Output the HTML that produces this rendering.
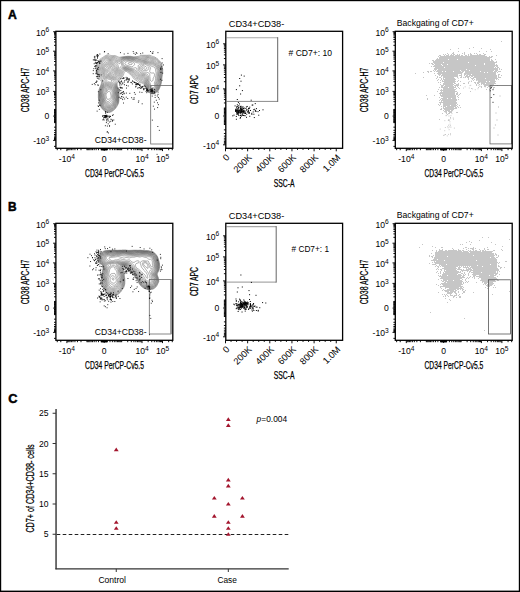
<!DOCTYPE html>
<html><head><meta charset="utf-8"><style>html,body{margin:0;padding:0;background:#fff;overflow:hidden}svg{display:block}</style></head>
<body><svg width="520" height="592" viewBox="0 0 520 592" font-family="Liberation Sans, sans-serif"><rect x="0" y="0" width="520" height="592" fill="#000"/>
<rect x="1.2" y="1.2" width="517.6" height="589.4" fill="#fff"/>
<text x="7.9" y="18.8" font-size="12.6" text-anchor="start" fill="#000" textLength="8.8" lengthAdjust="spacingAndGlyphs" font-weight="bold" stroke="#000" stroke-width="0.5">A</text>
<text x="8" y="210.9" font-size="12.6" text-anchor="start" fill="#000" textLength="8.6" lengthAdjust="spacingAndGlyphs" font-weight="bold" stroke="#000" stroke-width="0.5">B</text>
<text x="8.3" y="403" font-size="12.8" text-anchor="start" fill="#000" textLength="9.2" lengthAdjust="spacingAndGlyphs" font-weight="bold" stroke="#000" stroke-width="0.5">C</text>
<g fill="none" stroke="#4a4a4a" stroke-width="0.45">
<path d="M108.5 99.3 108.0 99.4 107.5 99.3 107.1 99.0 106.8 98.5 106.6 98.0 106.5 97.5 106.4 97.0 106.3 96.5 106.1 96.0 106.0 95.5 106.0 95.0 106.1 94.5 106.2 94.0 106.5 93.5 106.8 93.2 107.0 92.9 107.2 92.6 107.5 92.4 107.9 92.0 108.2 91.8 108.4 91.5 108.8 91.3 109.2 91.1 109.6 91.2 109.9 91.5 110.2 92.0 110.4 92.5 110.5 93.0 110.6 93.5 110.7 94.0 110.8 94.5 110.9 95.0 111.0 95.5 111.1 96.0 111.1 96.5 111.1 97.0 111.0 97.5 110.8 98.0 110.5 98.3 110.0 98.6 109.5 98.9 109.0 99.1 108.6 99.2Z"/>
<path d="M145.2 69.3 144.8 69.3 144.2 69.1 143.9 68.8 143.8 68.4 143.8 68.0 144.0 67.5 144.2 67.2 144.5 66.9 145.0 66.6 145.5 66.5 146.0 66.6 146.4 67.0 146.8 67.5 146.9 68.0 146.8 68.4 146.5 68.7 146.1 69.0 145.8 69.2 145.2 69.3Z"/>
<path d="M110.2 71.3 109.8 71.3 109.2 71.1 109.0 70.8 108.9 70.2 108.9 69.8 109.2 69.2 109.4 69.0 109.8 68.8 110.2 68.7 110.8 68.9 111.0 69.2 111.2 69.5 111.2 69.9 111.2 70.2 111.0 70.8 110.8 71.1 110.2 71.3Z"/>
<path d="M108.5 101.4 108.0 101.5 107.5 101.5 107.0 101.3 106.6 101.0 106.4 100.8 106.0 100.2 105.8 99.8 105.6 99.2 105.5 98.8 105.5 98.2 105.4 97.8 105.3 97.2 105.2 96.8 105.2 96.2 105.1 95.8 105.0 95.2 105.1 94.8 105.2 94.2 105.3 93.8 105.6 93.2 106.0 92.8 106.2 92.4 106.5 92.1 106.7 91.8 107.0 91.4 107.2 91.0 107.5 90.6 107.7 90.2 108.0 89.8 108.2 89.5 108.7 89.2 109.2 89.2 109.8 89.4 110.2 89.6 110.7 90.0 111.0 90.2 111.2 90.5 111.5 90.9 111.7 91.2 111.9 91.8 112.0 92.2 112.0 92.8 112.0 93.2 112.0 93.8 112.0 94.2 112.0 94.8 112.1 95.2 112.1 95.8 112.1 96.2 112.1 96.8 112.1 97.2 112.1 97.8 112.0 98.2 111.9 98.5 111.6 99.0 111.2 99.3 110.8 99.7 110.4 100.0 110.1 100.2 109.8 100.5 109.4 100.8 109.1 101.0 108.8 101.2Z"/>
<path d="M145.8 70.5 145.2 70.6 144.8 70.6 144.2 70.6 143.9 70.5 143.5 70.4 143.0 70.1 142.7 69.8 142.3 69.2 142.1 68.8 142.1 68.2 142.2 67.8 142.4 67.2 142.8 66.8 143.0 66.5 143.2 66.2 143.5 65.9 143.8 65.7 144.0 65.4 144.4 65.0 144.8 64.8 145.2 64.6 145.8 64.6 146.2 64.8 146.5 64.9 147.0 65.2 147.3 65.5 147.7 66.0 148.0 66.3 148.2 66.6 148.5 67.0 148.7 67.5 148.8 68.0 148.8 68.5 148.6 69.0 148.3 69.5 148.0 69.8 147.7 70.0 147.2 70.2 146.8 70.3 146.2 70.4 145.8 70.5Z"/>
<path d="M110.2 72.6 109.8 72.6 109.2 72.6 108.8 72.3 108.4 72.0 108.0 71.5 107.8 71.0 107.7 70.5 107.7 70.0 107.8 69.5 108.0 69.1 108.2 68.8 108.5 68.4 109.0 68.0 109.5 67.8 110.0 67.6 110.5 67.5 111.0 67.6 111.5 67.9 111.8 68.2 112.0 68.5 112.2 69.0 112.4 69.5 112.4 70.0 112.4 70.5 112.3 71.0 112.0 71.4 111.8 71.7 111.5 72.0 111.1 72.2 110.8 72.4 110.2 72.6Z"/>
<path d="M108.8 102.8 108.2 102.9 107.8 102.8 107.2 102.7 106.9 102.5 106.5 102.3 106.2 102.0 105.9 101.8 105.5 101.2 105.2 100.8 105.0 100.2 104.9 99.8 104.8 99.2 104.7 98.8 104.6 98.2 104.6 97.8 104.5 97.3 104.4 96.8 104.3 96.2 104.3 95.8 104.2 95.2 104.2 94.8 104.3 94.2 104.5 93.8 104.7 93.2 105.0 92.8 105.2 92.4 105.5 92.0 105.7 91.8 106.0 91.4 106.2 91.1 106.5 90.8 106.7 90.2 107.0 89.8 107.2 89.2 107.5 88.8 107.8 88.4 108.2 88.1 108.8 88.1 109.2 88.1 109.8 88.3 110.1 88.5 110.5 88.7 111.0 89.0 111.3 89.2 111.6 89.5 112.0 90.0 112.2 90.2 112.5 90.7 112.7 91.2 112.9 91.8 113.0 92.2 113.0 92.8 113.0 93.2 113.0 93.8 113.0 94.2 112.9 94.8 112.9 95.2 112.9 95.8 112.9 96.2 112.9 96.8 112.9 97.2 113.0 97.8 112.9 98.2 112.8 98.8 112.7 99.2 112.5 99.6 112.3 100.0 112.0 100.3 111.8 100.6 111.5 100.9 111.2 101.1 111.0 101.4 110.6 101.8 110.3 102.0 110.0 102.2 109.6 102.5 109.2 102.7 108.8 102.8Z"/>
<path d="M151.8 81.3 151.2 81.3 150.8 81.0 150.5 80.6 150.3 80.2 150.2 79.8 150.2 79.2 150.1 78.8 150.0 78.2 150.0 77.8 149.9 77.2 149.8 76.8 149.8 76.2 149.8 75.8 149.8 75.2 149.8 74.8 149.7 74.2 149.5 73.8 149.2 73.4 148.8 73.1 148.2 72.8 147.8 72.6 147.2 72.4 146.8 72.2 146.2 72.2 145.8 72.2 145.2 72.2 144.8 72.2 144.2 72.2 143.8 72.1 143.2 71.8 142.8 71.5 142.4 71.2 142.1 71.0 141.9 70.8 141.5 70.3 141.3 70.0 141.0 69.5 140.8 69.0 140.8 68.6 140.7 68.0 140.8 67.5 141.0 67.0 141.2 66.7 141.5 66.4 141.9 66.0 142.2 65.8 142.5 65.5 142.8 65.3 143.0 65.0 143.2 64.7 143.5 64.5 143.8 64.2 144.1 64.0 144.5 63.8 145.0 63.7 145.5 63.6 146.0 63.7 146.5 63.8 147.0 64.0 147.4 64.2 147.7 64.5 148.0 64.8 148.3 65.0 148.8 65.5 149.0 65.7 149.2 66.0 149.5 66.3 149.8 66.6 150.0 66.9 150.2 67.2 150.4 67.8 150.5 68.2 150.4 68.8 150.2 69.1 150.1 69.5 149.9 70.0 149.8 70.5 149.7 71.0 149.7 71.5 149.9 72.0 150.1 72.5 150.5 72.8 151.0 73.0 151.5 73.0 152.0 73.0 152.5 73.0 153.0 72.9 153.5 72.9 154.0 73.2 154.2 73.5 154.4 74.0 154.5 74.5 154.5 75.0 154.4 75.5 154.3 76.0 154.2 76.5 154.0 76.8 153.8 77.2 153.5 77.7 153.3 78.2 153.1 78.8 153.1 79.2 153.1 79.8 152.9 80.2 152.8 80.6 152.5 80.9 152.0 81.2Z"/>
<path d="M110.5 73.5 110.0 73.6 109.5 73.7 109.0 73.6 108.6 73.5 108.2 73.3 107.8 73.0 107.5 72.7 107.2 72.3 107.1 72.0 106.9 71.5 106.8 71.1 106.7 70.8 106.6 70.2 106.6 69.8 106.7 69.2 106.9 68.8 107.2 68.2 107.5 68.0 107.8 67.7 108.2 67.3 108.7 67.0 109.0 66.8 109.5 66.6 110.0 66.4 110.5 66.4 111.0 66.4 111.4 66.5 111.8 66.6 112.2 67.0 112.5 67.2 112.7 67.5 113.0 68.0 113.2 68.5 113.4 69.0 113.5 69.5 113.6 70.0 113.6 70.5 113.4 71.0 113.2 71.5 113.0 71.9 112.8 72.2 112.5 72.5 112.2 72.8 111.8 73.0 111.3 73.2 110.8 73.5Z"/>
<path d="M109.5 104.0 109.0 104.1 108.5 104.1 108.1 104.0 107.5 103.8 107.0 103.6 106.5 103.3 106.0 103.0 105.8 102.8 105.5 102.5 105.2 102.2 105.0 101.8 104.8 101.4 104.6 101.0 104.4 100.5 104.3 100.0 104.1 99.5 104.1 99.0 104.0 98.5 103.9 98.0 103.8 97.5 103.7 97.0 103.6 96.5 103.5 96.0 103.5 95.5 103.5 95.0 103.5 94.5 103.6 94.0 103.7 93.5 103.9 93.0 104.2 92.5 104.5 92.0 104.8 91.7 105.0 91.4 105.2 91.1 105.5 90.8 105.8 90.4 106.0 90.0 106.2 89.5 106.4 89.0 106.6 88.5 106.8 88.1 107.0 87.8 107.2 87.4 107.6 87.2 108.0 87.1 108.5 87.1 109.0 87.2 109.5 87.3 109.9 87.5 110.2 87.7 110.8 87.9 111.2 88.2 111.7 88.5 112.0 88.8 112.2 89.0 112.5 89.3 112.8 89.7 113.0 90.0 113.2 90.5 113.4 91.0 113.6 91.5 113.7 92.0 113.8 92.5 113.8 93.0 113.8 93.5 113.8 94.0 113.7 94.5 113.7 95.0 113.7 95.5 113.7 96.0 113.7 96.5 113.7 97.0 113.7 97.5 113.7 98.0 113.7 98.5 113.6 99.0 113.5 99.5 113.4 100.0 113.1 100.5 112.8 101.0 112.5 101.5 112.2 101.8 112.0 102.2 111.8 102.5 111.5 102.8 111.2 103.1 110.8 103.5 110.3 103.8 109.8 104.0Z"/>
<path d="M131.5 64.5 131.0 64.7 130.5 64.6 130.0 64.6 129.5 64.4 129.0 64.3 128.6 64.0 128.3 63.8 128.2 63.2 128.5 62.8 129.0 62.6 129.5 62.6 130.0 62.6 130.5 62.6 131.0 62.7 131.4 62.8 131.8 62.9 132.1 63.2 132.2 63.8 132.0 64.1 131.8 64.4Z"/>
<path d="M153.5 87.8 153.0 87.9 152.5 87.8 152.1 87.5 151.8 87.2 151.5 87.0 151.2 86.7 151.0 86.4 150.8 86.0 150.6 85.5 150.5 85.0 150.5 84.5 150.4 84.0 150.3 83.5 150.1 83.0 149.8 82.5 149.6 82.0 149.3 81.5 149.2 81.0 149.1 80.5 149.0 80.1 149.0 79.5 149.0 79.0 148.9 78.5 148.9 78.0 148.8 77.5 148.6 77.0 148.5 76.5 148.4 76.0 148.2 75.6 148.1 75.2 147.8 74.8 147.5 74.4 147.0 74.0 146.5 73.9 146.0 73.8 145.5 73.7 145.0 73.7 144.5 73.6 144.0 73.4 143.5 73.3 143.0 73.0 142.5 72.8 142.2 72.5 141.9 72.2 141.6 72.0 141.3 71.8 141.0 71.5 140.8 71.2 140.5 71.0 140.2 70.7 140.0 70.3 139.8 70.0 139.6 69.5 139.5 69.0 139.5 68.5 139.5 68.0 139.5 67.5 139.6 67.0 139.8 66.6 140.0 66.1 140.2 65.9 140.7 65.5 141.0 65.3 141.4 65.0 141.8 64.8 142.1 64.5 142.4 64.2 142.7 64.0 143.0 63.8 143.4 63.5 143.8 63.3 144.2 63.1 144.8 63.0 145.2 62.9 145.8 62.9 146.2 63.0 146.8 63.1 147.2 63.2 147.5 63.4 148.0 63.7 148.4 64.0 148.7 64.2 149.0 64.5 149.3 64.8 149.6 65.0 149.9 65.2 150.2 65.5 150.7 65.8 151.0 65.9 151.5 66.2 152.0 66.4 152.5 66.6 153.0 66.7 153.4 66.8 153.8 66.9 154.2 67.1 154.7 67.5 155.0 68.0 155.2 68.5 155.4 69.0 155.5 69.4 155.6 70.0 155.6 70.5 155.7 71.0 155.8 71.5 155.9 72.0 156.0 72.5 156.1 73.0 156.1 73.5 156.1 74.0 156.0 74.5 155.9 75.0 155.9 75.5 155.8 76.0 155.6 76.5 155.5 77.0 155.5 77.5 155.4 78.0 155.4 78.5 155.5 79.0 155.5 79.5 155.4 80.0 155.3 80.5 155.1 81.0 154.9 81.5 154.8 81.8 154.6 82.2 154.4 82.8 154.4 83.2 154.4 83.8 154.5 84.2 154.7 84.8 154.7 85.2 154.7 85.8 154.6 86.2 154.5 86.7 154.2 87.2 154.0 87.5 153.7 87.8Z"/>
<path d="M111.0 74.5 110.5 74.6 110.0 74.7 109.5 74.7 109.0 74.6 108.5 74.5 108.0 74.4 107.5 74.2 107.0 73.8 106.6 73.5 106.3 73.0 106.1 72.5 105.9 72.0 105.8 71.5 105.6 71.0 105.5 70.5 105.5 70.0 105.4 69.5 105.4 69.0 105.6 68.5 105.8 68.1 106.0 67.8 106.2 67.5 106.8 67.0 107.1 66.8 107.4 66.5 107.8 66.3 108.1 66.0 108.5 65.8 109.0 65.6 109.5 65.4 110.0 65.3 110.5 65.2 111.0 65.3 111.5 65.4 111.9 65.5 112.2 65.7 112.8 66.0 113.1 66.2 113.5 66.7 113.7 67.0 114.0 67.5 114.2 68.0 114.5 68.5 114.6 69.0 114.7 69.5 114.7 70.0 114.7 70.5 114.6 71.0 114.4 71.5 114.2 72.0 113.9 72.5 113.5 73.0 113.3 73.2 113.0 73.5 112.7 73.8 112.3 74.0 111.8 74.2 111.2 74.4Z"/>
<path d="M110.2 105.0 109.8 105.2 109.2 105.2 108.8 105.2 108.2 105.1 107.9 105.0 107.5 104.9 107.0 104.6 106.5 104.4 106.0 104.0 105.7 103.8 105.4 103.5 105.0 103.0 104.8 102.6 104.5 102.2 104.3 101.8 104.0 101.2 103.9 100.8 103.8 100.4 103.7 100.0 103.5 99.5 103.4 99.0 103.4 98.5 103.3 98.0 103.2 97.5 103.1 97.0 103.0 96.5 102.9 96.0 102.8 95.5 102.8 95.0 102.8 94.5 102.8 94.0 102.9 93.5 103.1 93.0 103.2 92.6 103.5 92.0 103.8 91.6 104.0 91.2 104.2 90.9 104.5 90.6 104.8 90.3 105.0 90.0 105.2 89.6 105.5 89.0 105.7 88.5 105.9 88.0 106.0 87.7 106.2 87.2 106.5 86.9 106.9 86.5 107.2 86.3 107.8 86.2 108.2 86.2 108.8 86.3 109.2 86.5 109.8 86.7 110.2 86.9 110.8 87.1 111.2 87.4 111.8 87.6 112.2 88.0 112.5 88.2 113.0 88.8 113.2 89.2 113.4 89.5 113.7 90.0 113.9 90.5 114.1 91.0 114.2 91.5 114.4 92.0 114.4 92.5 114.4 93.0 114.4 93.5 114.4 94.0 114.4 94.5 114.4 95.0 114.4 95.5 114.4 96.0 114.4 96.5 114.5 97.0 114.5 97.5 114.5 98.0 114.4 98.5 114.4 99.0 114.3 99.5 114.2 100.0 114.0 100.5 113.8 101.0 113.5 101.5 113.2 101.9 113.0 102.2 112.8 102.7 112.6 103.0 112.2 103.5 112.0 103.8 111.8 104.1 111.3 104.5 110.9 104.8 110.5 104.9Z"/>
<path d="M132.0 66.8 131.5 66.8 131.1 66.8 130.8 66.6 130.2 66.4 129.9 66.2 129.5 66.1 129.0 65.9 128.6 65.8 128.0 65.6 127.5 65.4 127.0 65.3 126.5 65.1 126.0 64.9 125.5 64.6 125.2 64.3 125.0 64.0 124.9 63.5 125.0 63.1 125.2 62.8 125.5 62.5 125.8 62.2 126.2 62.0 126.7 61.8 127.0 61.6 127.5 61.4 128.0 61.3 128.5 61.2 129.0 61.2 129.4 61.2 130.0 61.3 130.5 61.4 131.0 61.4 131.5 61.5 132.0 61.6 132.3 61.8 132.8 61.9 133.2 62.2 133.6 62.5 133.8 62.8 134.2 63.2 134.5 63.8 134.6 64.2 134.5 64.7 134.3 65.0 134.0 65.3 133.5 65.8 133.2 66.0 133.0 66.2 132.6 66.5 132.2 66.7Z"/>
<path d="M153.8 88.8 153.2 89.0 152.8 89.0 152.2 88.8 151.8 88.5 151.4 88.2 151.1 88.0 150.9 87.8 150.5 87.4 150.2 87.0 150.0 86.5 149.8 86.0 149.7 85.5 149.6 85.0 149.5 84.5 149.4 84.0 149.3 83.5 149.1 83.0 148.8 82.5 148.6 82.0 148.5 81.6 148.4 81.2 148.3 80.8 148.2 80.2 148.2 79.8 148.1 79.2 148.1 78.8 148.0 78.2 147.9 77.8 147.8 77.2 147.6 76.8 147.3 76.2 147.0 75.8 146.8 75.5 146.5 75.2 146.0 75.0 145.5 74.8 145.0 74.7 144.5 74.5 144.0 74.4 143.6 74.2 143.2 74.1 142.8 73.9 142.2 73.7 141.8 73.4 141.2 73.0 140.9 72.8 140.5 72.5 140.2 72.3 139.9 72.0 139.6 71.8 139.4 71.5 139.0 71.1 138.8 70.8 138.5 70.2 138.4 69.8 138.3 69.2 138.3 68.8 138.3 68.2 138.3 67.8 138.3 67.2 138.2 66.8 138.2 66.2 138.2 65.8 138.5 65.2 138.7 65.0 139.1 64.8 139.5 64.6 140.0 64.3 140.5 64.1 141.0 63.9 141.5 63.6 142.0 63.3 142.5 63.0 143.0 62.8 143.5 62.6 144.0 62.4 144.5 62.3 145.0 62.3 145.5 62.2 146.0 62.2 146.5 62.3 147.0 62.5 147.5 62.7 148.0 62.9 148.5 63.2 149.0 63.5 149.4 63.8 149.7 64.0 150.2 64.2 150.5 64.4 151.0 64.6 151.5 64.8 152.0 64.9 152.5 65.0 153.0 65.1 153.4 65.2 153.8 65.4 154.2 65.6 154.8 65.9 155.2 66.2 155.5 66.5 155.8 66.9 155.9 67.2 156.2 67.8 156.4 68.2 156.5 68.6 156.6 69.0 156.8 69.3 156.9 69.8 157.0 70.2 157.1 70.8 157.2 71.2 157.2 71.8 157.2 72.2 157.2 72.8 157.2 73.2 157.2 73.8 157.1 74.2 157.0 74.8 157.0 75.2 156.9 75.8 156.8 76.2 156.7 76.8 156.6 77.2 156.6 77.8 156.6 78.2 156.6 78.8 156.6 79.2 156.6 79.8 156.5 80.1 156.4 80.5 156.2 80.9 156.0 81.5 155.8 82.0 155.6 82.5 155.5 83.0 155.5 83.5 155.6 84.0 155.6 84.5 155.7 85.0 155.7 85.5 155.6 86.0 155.5 86.4 155.3 87.0 155.1 87.5 154.8 88.0 154.5 88.3 154.0 88.7Z"/>
<path d="M111.8 75.5 111.2 75.6 110.8 75.7 110.2 75.7 109.8 75.7 109.2 75.6 108.8 75.5 108.2 75.4 107.8 75.3 107.2 75.1 106.9 75.0 106.5 74.8 106.1 74.5 105.8 74.2 105.5 73.8 105.2 73.3 105.1 73.0 104.9 72.5 104.8 72.0 104.7 71.5 104.6 71.0 104.5 70.5 104.5 70.0 104.4 69.5 104.4 69.0 104.4 68.5 104.4 68.0 104.6 67.5 105.0 67.0 105.2 66.8 105.5 66.5 105.9 66.2 106.2 66.0 106.6 65.8 107.0 65.5 107.4 65.2 107.8 65.0 108.2 64.8 108.8 64.6 109.2 64.4 109.8 64.3 110.2 64.2 110.8 64.2 111.1 64.2 111.5 64.3 112.0 64.5 112.5 64.7 113.0 65.0 113.4 65.2 113.7 65.5 114.0 65.8 114.2 66.1 114.5 66.4 114.7 66.8 115.0 67.2 115.2 67.5 115.4 68.0 115.6 68.5 115.7 69.0 115.8 69.5 115.8 70.0 115.7 70.5 115.6 71.0 115.4 71.5 115.2 71.8 115.1 72.2 114.8 72.8 114.5 73.2 114.2 73.6 114.0 74.0 113.8 74.2 113.5 74.5 113.0 75.0 112.5 75.2 112.0 75.5Z"/>
<path d="M109.8 106.0 109.2 106.1 108.8 106.1 108.3 106.0 107.8 105.9 107.4 105.8 107.0 105.6 106.5 105.4 106.0 105.1 105.6 104.8 105.3 104.5 105.0 104.2 104.8 103.9 104.5 103.5 104.2 103.1 104.1 102.8 103.8 102.2 103.6 101.8 103.5 101.4 103.4 101.0 103.2 100.5 103.1 100.0 103.0 99.5 102.9 99.0 102.8 98.5 102.7 98.0 102.6 97.5 102.5 97.0 102.4 96.5 102.3 96.0 102.2 95.5 102.2 95.0 102.2 94.5 102.2 94.0 102.3 93.5 102.4 93.0 102.6 92.5 102.8 92.0 103.0 91.5 103.2 91.0 103.5 90.5 103.8 90.2 104.0 89.8 104.2 89.5 104.5 89.0 104.8 88.6 105.0 88.0 105.2 87.5 105.4 87.0 105.8 86.5 106.0 86.2 106.2 86.0 106.6 85.8 107.0 85.6 107.5 85.4 108.0 85.4 108.5 85.4 109.0 85.6 109.5 85.8 110.0 86.0 110.5 86.2 111.0 86.4 111.5 86.7 112.0 86.9 112.5 87.2 112.8 87.5 113.1 87.8 113.5 88.2 113.8 88.7 114.0 89.2 114.2 89.8 114.4 90.2 114.6 90.8 114.8 91.1 114.8 91.5 114.9 92.0 115.0 92.5 115.0 93.0 115.0 93.5 115.0 94.0 115.0 94.5 115.1 95.0 115.1 95.5 115.1 96.0 115.1 96.5 115.2 97.0 115.1 97.5 115.1 98.0 115.1 98.5 115.0 99.0 115.0 99.5 114.9 100.0 114.8 100.4 114.5 101.0 114.3 101.5 114.0 102.0 113.8 102.4 113.5 102.8 113.2 103.2 113.1 103.5 112.8 104.0 112.5 104.3 112.2 104.6 112.0 104.9 111.6 105.2 111.2 105.5 110.8 105.7 110.2 105.9 109.8 106.0Z"/>
<path d="M153.0 89.8 152.6 89.8 152.2 89.7 151.8 89.5 151.5 89.3 151.0 89.0 150.8 88.8 150.5 88.5 150.0 88.0 149.8 87.6 149.5 87.2 149.3 86.8 149.2 86.4 149.2 86.0 149.1 85.5 149.0 85.0 148.8 84.5 148.7 84.0 148.5 83.5 148.3 83.0 148.1 82.5 147.9 82.0 147.8 81.5 147.6 81.0 147.5 80.5 147.5 80.0 147.4 79.5 147.3 79.0 147.2 78.5 147.1 78.0 146.9 77.5 146.8 77.1 146.5 76.8 146.2 76.4 145.8 76.0 145.3 75.8 144.8 75.5 144.2 75.3 143.8 75.1 143.2 74.9 142.8 74.8 142.2 74.5 141.8 74.3 141.2 74.1 140.8 73.9 140.2 73.7 139.8 73.4 139.2 73.1 138.9 72.8 138.6 72.5 138.2 72.1 138.0 71.8 137.8 71.4 137.5 71.0 137.2 70.6 137.0 70.0 136.9 69.5 136.9 69.0 136.8 68.5 136.5 68.0 136.0 67.8 135.5 67.7 135.0 67.8 134.5 67.9 134.1 68.0 133.8 68.1 133.2 68.2 132.8 68.2 132.2 68.2 131.8 68.2 131.2 68.1 130.8 67.9 130.2 67.7 129.8 67.4 129.2 67.1 128.8 66.9 128.2 66.7 127.8 66.5 127.2 66.4 126.8 66.3 126.2 66.2 125.8 66.1 125.2 66.0 124.8 65.8 124.3 65.5 124.0 65.2 123.8 64.8 123.6 64.5 123.4 64.0 123.2 63.5 123.2 63.0 123.2 62.5 123.3 62.0 123.8 61.5 124.2 61.3 124.8 61.2 125.2 61.0 125.8 60.9 126.2 60.8 126.8 60.6 127.2 60.5 127.8 60.4 128.2 60.4 128.8 60.4 129.2 60.4 129.8 60.5 130.1 60.5 130.5 60.5 131.0 60.6 131.5 60.7 132.0 60.8 132.5 61.0 133.0 61.1 133.5 61.3 133.9 61.5 134.2 61.7 134.8 62.0 135.2 62.2 135.8 62.4 136.2 62.6 136.8 62.7 137.1 62.8 137.5 62.8 138.0 62.9 138.5 63.0 139.0 63.0 139.5 63.0 140.0 62.9 140.5 62.8 141.0 62.6 141.3 62.5 141.8 62.4 142.2 62.2 142.8 62.0 143.2 61.9 143.8 61.8 144.2 61.8 144.8 61.7 145.2 61.6 145.8 61.6 146.2 61.6 146.8 61.7 147.2 61.8 147.7 62.0 148.0 62.2 148.5 62.4 149.0 62.7 149.5 63.0 150.0 63.2 150.5 63.4 151.0 63.6 151.5 63.7 152.0 63.8 152.5 63.9 153.0 64.1 153.5 64.2 154.0 64.5 154.4 64.8 154.9 65.0 155.2 65.2 155.6 65.5 155.9 65.8 156.2 66.1 156.5 66.5 156.7 67.0 157.0 67.5 157.1 68.0 157.4 68.5 157.5 68.8 157.7 69.2 157.9 69.8 158.0 70.2 158.1 70.5 158.1 71.0 158.2 71.5 158.1 72.0 158.1 72.5 158.0 73.0 158.0 73.5 157.9 74.0 157.8 74.5 157.8 75.0 157.8 75.4 157.7 76.0 157.6 76.5 157.6 77.0 157.5 77.5 157.5 78.0 157.5 78.5 157.4 79.0 157.4 79.5 157.4 80.0 157.3 80.5 157.1 81.0 156.9 81.5 156.7 82.0 156.5 82.4 156.4 83.0 156.3 83.5 156.3 84.0 156.3 84.5 156.4 85.0 156.3 85.5 156.3 86.0 156.2 86.5 156.0 87.0 155.8 87.5 155.6 88.0 155.2 88.5 155.0 88.8 154.5 89.2 154.0 89.5 153.5 89.7 153.2 89.8Z"/>
<path d="M112.2 76.5 111.8 76.6 111.2 76.7 110.8 76.7 110.2 76.7 109.8 76.6 109.2 76.5 108.8 76.3 108.4 76.2 108.0 76.2 107.5 76.1 107.0 75.9 106.5 75.8 106.0 75.6 105.5 75.2 105.3 75.0 105.0 74.7 104.8 74.3 104.5 73.8 104.4 73.5 104.2 73.0 104.0 72.5 103.9 72.0 103.8 71.5 103.7 71.0 103.6 70.5 103.5 70.0 103.5 69.5 103.4 69.0 103.4 68.5 103.4 68.0 103.5 67.6 103.6 67.2 103.9 66.8 104.2 66.3 104.5 66.1 104.9 65.8 105.2 65.5 105.6 65.2 106.0 65.0 106.4 64.8 106.8 64.6 107.2 64.3 107.8 64.0 108.2 63.8 108.8 63.5 109.2 63.4 109.7 63.2 110.2 63.2 110.8 63.2 111.2 63.3 111.8 63.4 112.2 63.7 112.8 63.9 113.2 64.2 113.8 64.4 114.2 64.7 114.6 65.0 114.9 65.2 115.2 65.6 115.5 66.0 115.8 66.4 115.9 66.8 116.2 67.2 116.4 67.8 116.5 68.2 116.6 68.8 116.7 69.2 116.7 69.8 116.6 70.2 116.5 70.8 116.4 71.2 116.2 71.6 116.1 72.0 115.9 72.5 115.6 73.0 115.3 73.5 115.0 74.0 114.8 74.5 114.5 74.8 114.2 75.2 114.0 75.5 113.8 75.7 113.4 76.0 113.0 76.2 112.5 76.5Z"/>
<path d="M110.0 106.8 109.5 106.8 109.0 106.8 108.5 106.8 108.1 106.8 107.5 106.6 107.0 106.5 106.5 106.3 106.0 106.1 105.5 105.8 105.1 105.5 104.9 105.2 104.5 104.8 104.3 104.5 104.0 104.1 103.8 103.8 103.6 103.2 103.4 102.8 103.2 102.3 103.1 101.8 102.9 101.2 102.8 100.8 102.6 100.2 102.5 99.8 102.4 99.2 102.3 98.8 102.2 98.2 102.1 97.8 102.0 97.2 101.9 96.8 101.8 96.2 101.8 95.9 101.7 95.5 101.7 95.0 101.7 94.5 101.7 94.0 101.7 93.5 101.8 93.0 102.0 92.5 102.1 92.0 102.3 91.5 102.5 91.1 102.7 90.8 102.9 90.2 103.2 89.8 103.5 89.3 103.8 88.8 103.9 88.5 104.2 88.0 104.4 87.5 104.7 87.0 105.0 86.5 105.2 86.1 105.5 85.8 105.8 85.5 106.1 85.2 106.5 85.0 107.0 84.8 107.5 84.7 108.0 84.6 108.5 84.6 109.0 84.7 109.5 84.9 110.0 85.1 110.5 85.4 111.0 85.6 111.5 85.9 112.0 86.1 112.5 86.4 113.0 86.8 113.3 87.0 113.7 87.5 114.0 87.9 114.2 88.2 114.4 88.8 114.6 89.2 114.8 89.8 115.0 90.2 115.2 90.8 115.3 91.2 115.4 91.8 115.5 92.2 115.5 92.8 115.5 93.2 115.5 93.8 115.5 94.2 115.6 94.8 115.6 95.2 115.7 95.8 115.7 96.2 115.8 96.8 115.8 97.2 115.7 97.8 115.7 98.2 115.6 98.8 115.6 99.2 115.5 99.8 115.4 100.2 115.3 100.8 115.1 101.2 114.8 101.8 114.5 102.2 114.2 102.7 114.1 103.0 113.8 103.5 113.5 103.9 113.3 104.2 113.0 104.7 112.8 105.0 112.5 105.3 112.2 105.6 111.8 106.0 111.3 106.2 111.0 106.4 110.5 106.6 110.0 106.8Z"/>
<path d="M153.8 90.3 153.2 90.4 152.8 90.5 152.2 90.4 151.8 90.3 151.2 90.0 150.9 89.8 150.5 89.5 150.3 89.2 150.0 89.0 149.8 88.7 149.5 88.4 149.3 88.0 149.0 87.5 148.8 87.0 148.7 86.5 148.6 86.0 148.5 85.6 148.4 85.0 148.2 84.6 148.1 84.2 147.9 83.8 147.8 83.4 147.6 83.0 147.4 82.5 147.2 82.1 147.1 81.8 147.0 81.2 146.9 80.8 146.8 80.2 146.8 79.9 146.7 79.5 146.6 79.0 146.4 78.5 146.2 78.1 146.1 77.8 145.8 77.3 145.5 77.0 145.2 76.8 144.8 76.5 144.5 76.3 144.0 76.0 143.5 75.8 143.0 75.6 142.6 75.5 142.2 75.4 141.8 75.3 141.2 75.1 140.9 75.0 140.5 74.9 140.1 74.8 139.8 74.6 139.2 74.4 138.8 74.1 138.4 73.8 138.1 73.5 137.8 73.1 137.5 72.8 137.3 72.5 137.0 72.1 136.8 71.8 136.5 71.5 136.2 71.1 136.0 70.8 135.8 70.5 135.5 70.3 135.1 70.0 134.8 69.8 134.2 69.6 133.8 69.5 133.2 69.4 132.8 69.3 132.2 69.2 131.8 69.0 131.2 68.9 130.9 68.8 130.5 68.6 130.0 68.4 129.5 68.1 129.0 67.8 128.5 67.6 128.0 67.4 127.6 67.2 127.0 67.1 126.5 67.0 126.0 67.0 125.5 66.9 125.0 66.8 124.5 66.6 124.2 66.5 123.8 66.3 123.4 66.0 123.0 65.5 122.8 65.1 122.6 64.8 122.4 64.2 122.3 63.8 122.2 63.2 122.1 62.8 122.2 62.2 122.3 61.8 122.5 61.4 122.8 61.0 123.0 60.8 123.5 60.5 124.0 60.3 124.5 60.2 125.0 60.1 125.5 60.0 126.0 59.9 126.5 59.8 127.0 59.8 127.5 59.7 128.0 59.7 128.5 59.7 129.0 59.7 129.5 59.8 130.0 59.8 130.5 59.9 131.0 59.9 131.5 60.0 132.0 60.2 132.4 60.2 133.0 60.4 133.4 60.5 133.8 60.6 134.1 60.8 134.5 60.9 135.0 61.1 135.4 61.2 135.8 61.4 136.2 61.5 136.5 61.6 137.0 61.7 137.5 61.7 138.0 61.8 138.5 61.8 139.0 61.9 139.5 61.9 140.0 61.8 140.5 61.8 141.0 61.7 141.5 61.6 142.0 61.4 142.5 61.3 143.0 61.3 143.5 61.2 144.0 61.1 144.5 61.1 145.0 61.0 145.5 60.9 146.0 60.9 146.5 60.9 147.0 61.0 147.5 61.1 148.0 61.4 148.5 61.6 149.0 61.9 149.5 62.2 150.0 62.4 150.5 62.6 151.0 62.7 151.5 62.8 152.0 62.9 152.4 63.0 152.8 63.1 153.2 63.2 153.7 63.5 154.2 63.8 154.5 63.9 155.0 64.2 155.4 64.5 155.8 64.7 156.1 65.0 156.4 65.2 156.7 65.5 157.0 65.9 157.2 66.2 157.4 66.8 157.6 67.2 157.8 67.6 157.9 68.0 158.1 68.5 158.4 69.0 158.6 69.5 158.8 70.0 158.9 70.5 158.9 71.0 158.9 71.5 158.9 72.0 158.8 72.5 158.8 72.9 158.7 73.5 158.6 74.0 158.5 74.5 158.4 75.0 158.4 75.5 158.4 76.0 158.4 76.5 158.3 77.0 158.3 77.5 158.2 78.0 158.2 78.5 158.2 79.0 158.1 79.5 158.1 80.0 158.0 80.5 157.8 81.0 157.7 81.5 157.5 81.9 157.3 82.2 157.2 82.8 157.1 83.2 157.0 83.8 157.0 84.2 157.0 84.8 157.0 85.2 156.9 85.8 156.8 86.2 156.7 86.8 156.5 87.2 156.3 87.8 156.1 88.2 155.8 88.8 155.5 89.1 155.2 89.3 154.8 89.7 154.3 90.0 154.0 90.2Z"/>
<path d="M112.0 77.5 111.5 77.6 111.0 77.6 110.5 77.6 110.0 77.5 109.5 77.4 109.0 77.3 108.5 77.1 108.0 77.0 107.5 76.9 107.0 76.8 106.5 76.7 106.0 76.5 105.5 76.3 105.1 76.0 104.8 75.8 104.5 75.4 104.3 75.0 104.0 74.5 103.8 74.0 103.5 73.5 103.3 73.0 103.2 72.5 103.0 72.0 102.9 71.5 102.8 71.0 102.7 70.5 102.6 70.0 102.5 69.5 102.5 69.0 102.5 68.5 102.5 68.0 102.6 67.5 102.8 67.1 102.9 66.8 103.2 66.2 103.5 65.9 103.8 65.7 104.0 65.4 104.5 65.0 104.8 64.8 105.2 64.5 105.5 64.3 106.0 64.0 106.4 63.8 106.8 63.5 107.2 63.2 107.6 63.0 108.0 62.8 108.5 62.6 109.0 62.4 109.4 62.2 110.0 62.2 110.5 62.2 111.0 62.2 111.5 62.3 111.9 62.5 112.5 62.7 113.0 63.0 113.5 63.2 114.0 63.4 114.5 63.6 114.9 63.8 115.2 63.9 115.8 64.2 116.1 64.5 116.5 65.0 116.7 65.5 116.9 66.0 117.1 66.5 117.2 67.0 117.3 67.5 117.4 68.0 117.5 68.5 117.6 69.0 117.6 69.5 117.6 70.0 117.5 70.5 117.3 71.0 117.2 71.5 117.0 72.0 116.8 72.5 116.5 73.0 116.3 73.5 116.0 74.0 115.8 74.5 115.5 74.9 115.3 75.2 115.0 75.7 114.8 76.0 114.5 76.2 114.2 76.5 113.9 76.8 113.5 77.0 113.0 77.2 112.5 77.4 112.2 77.5Z"/>
<path d="M109.8 107.5 109.2 107.6 108.8 107.6 108.2 107.5 107.8 107.5 107.2 107.4 106.8 107.2 106.2 107.1 105.8 106.9 105.2 106.6 104.8 106.2 104.5 106.0 104.2 105.7 104.0 105.4 103.8 105.0 103.5 104.6 103.3 104.2 103.1 103.8 102.9 103.2 102.8 102.8 102.7 102.2 102.5 101.8 102.4 101.2 102.3 100.8 102.1 100.2 102.0 99.8 101.8 99.2 101.8 98.8 101.6 98.2 101.5 97.8 101.4 97.2 101.4 96.8 101.3 96.2 101.3 95.8 101.2 95.2 101.2 94.8 101.2 94.2 101.2 93.8 101.3 93.2 101.4 92.8 101.5 92.3 101.7 91.8 101.9 91.2 102.0 90.9 102.2 90.5 102.4 90.0 102.7 89.5 103.0 89.0 103.2 88.5 103.5 88.0 103.7 87.5 104.0 87.0 104.2 86.5 104.5 86.1 104.7 85.8 105.0 85.4 105.2 85.2 105.7 84.8 106.1 84.5 106.5 84.3 107.0 84.0 107.5 83.9 108.0 83.8 108.5 83.7 109.0 83.8 109.5 84.0 110.0 84.2 110.5 84.5 111.0 84.7 111.5 85.0 112.0 85.2 112.4 85.5 112.8 85.7 113.2 86.0 113.5 86.2 113.8 86.5 114.0 86.9 114.2 87.2 114.5 87.7 114.7 88.0 114.9 88.5 115.1 89.0 115.2 89.4 115.4 89.8 115.5 90.1 115.6 90.5 115.8 90.9 115.9 91.5 115.9 92.0 115.9 92.5 116.0 93.0 116.0 93.5 116.0 94.0 116.0 94.5 116.1 95.0 116.2 95.5 116.2 96.0 116.3 96.5 116.3 97.0 116.3 97.5 116.2 98.0 116.2 98.5 116.1 99.0 116.1 99.5 116.0 100.0 115.9 100.5 115.8 101.0 115.6 101.5 115.3 102.0 115.0 102.5 114.8 102.9 114.5 103.2 114.2 103.7 114.0 104.0 113.8 104.5 113.5 104.9 113.3 105.2 113.0 105.6 112.8 105.9 112.5 106.2 112.1 106.5 111.8 106.8 111.4 107.0 111.0 107.2 110.5 107.4 110.0 107.5Z"/>
<path d="M153.2 91.0 152.8 91.1 152.2 91.1 151.8 90.9 151.3 90.8 150.9 90.5 150.5 90.3 150.2 90.0 149.9 89.8 149.6 89.5 149.2 89.0 149.0 88.6 148.8 88.2 148.6 87.8 148.4 87.2 148.2 86.8 148.1 86.2 148.0 85.8 147.9 85.2 147.8 84.9 147.6 84.5 147.4 84.0 147.1 83.5 147.0 83.2 146.8 82.8 146.6 82.2 146.5 81.9 146.4 81.5 146.3 81.0 146.2 80.5 146.1 80.0 145.9 79.5 145.8 79.0 145.5 78.5 145.2 78.1 145.0 77.8 144.7 77.5 144.4 77.2 144.0 77.0 143.6 76.8 143.2 76.6 142.8 76.4 142.2 76.3 141.8 76.2 141.2 76.1 140.8 76.0 140.2 75.8 139.8 75.6 139.2 75.4 138.8 75.1 138.2 74.8 137.9 74.5 137.6 74.2 137.4 74.0 137.0 73.6 136.8 73.3 136.5 73.0 136.2 72.7 136.0 72.3 135.8 72.0 135.5 71.8 135.2 71.5 134.9 71.2 134.6 71.0 134.2 70.8 133.8 70.6 133.2 70.4 132.8 70.2 132.3 70.0 131.8 69.8 131.2 69.6 130.8 69.4 130.2 69.2 129.9 69.0 129.5 68.8 129.0 68.5 128.5 68.3 128.0 68.1 127.5 67.9 127.0 67.8 126.5 67.7 126.0 67.6 125.5 67.5 125.0 67.4 124.5 67.3 124.0 67.2 123.5 67.0 123.0 66.8 122.7 66.5 122.4 66.2 122.0 65.8 121.8 65.3 121.6 64.8 121.4 64.2 121.3 63.8 121.3 63.2 121.3 62.8 121.3 62.2 121.5 61.8 121.7 61.2 122.0 60.8 122.2 60.5 122.8 60.0 123.2 59.8 123.8 59.6 124.2 59.5 124.8 59.4 125.2 59.3 125.8 59.3 126.2 59.2 126.8 59.1 127.2 59.1 127.8 59.1 128.2 59.1 128.8 59.1 129.2 59.1 129.8 59.2 130.2 59.2 130.8 59.3 131.2 59.4 131.7 59.5 132.2 59.6 132.8 59.7 133.2 59.8 133.8 59.9 134.2 60.1 134.8 60.2 135.2 60.4 135.7 60.5 136.2 60.6 136.7 60.8 137.2 60.8 137.8 60.9 138.2 60.9 138.8 61.0 139.2 61.0 139.8 61.0 140.2 61.0 140.8 60.9 141.2 60.9 141.8 60.8 142.2 60.7 142.8 60.6 143.2 60.5 143.6 60.5 144.0 60.5 144.5 60.4 145.0 60.3 145.4 60.2 145.8 60.2 146.2 60.1 146.8 60.1 147.2 60.2 147.8 60.3 148.2 60.5 148.5 60.7 149.0 61.0 149.4 61.2 149.9 61.5 150.2 61.7 150.8 61.8 151.2 61.9 151.8 62.0 152.2 62.1 152.8 62.2 153.2 62.4 153.8 62.6 154.2 62.9 154.8 63.2 155.1 63.5 155.5 63.8 155.9 64.0 156.2 64.2 156.6 64.5 156.9 64.8 157.2 65.0 157.5 65.4 157.8 65.7 158.0 66.2 158.2 66.8 158.4 67.2 158.5 67.6 158.7 68.0 158.9 68.5 159.1 69.0 159.2 69.4 159.4 69.8 159.5 70.2 159.6 70.8 159.6 71.2 159.6 71.8 159.5 72.2 159.4 72.8 159.4 73.2 159.2 73.7 159.2 74.2 159.1 74.8 159.0 75.2 159.0 75.8 159.0 76.2 159.0 76.8 158.9 77.2 158.9 77.8 158.8 78.2 158.8 78.8 158.8 79.2 158.7 79.8 158.6 80.2 158.5 80.8 158.4 81.2 158.3 81.8 158.1 82.2 157.9 82.8 157.8 83.2 157.7 83.8 157.6 84.2 157.6 84.8 157.6 85.2 157.5 85.6 157.4 86.0 157.3 86.5 157.1 87.0 157.0 87.4 156.8 87.8 156.6 88.2 156.4 88.8 156.0 89.2 155.8 89.6 155.3 90.0 155.0 90.2 154.5 90.5 154.0 90.8 153.5 91.0Z"/>
<path d="M111.0 78.5 110.6 78.5 110.2 78.5 109.8 78.4 109.2 78.3 108.8 78.2 108.3 78.0 107.8 77.8 107.4 77.8 107.0 77.7 106.5 77.5 106.0 77.4 105.5 77.2 105.0 77.0 104.7 76.8 104.4 76.5 104.0 76.0 103.8 75.6 103.5 75.2 103.2 74.8 103.0 74.3 102.8 73.8 102.6 73.2 102.4 72.8 102.2 72.3 102.1 71.8 101.9 71.2 101.8 70.8 101.6 70.2 101.6 69.8 101.5 69.2 101.5 68.8 101.6 68.2 101.6 67.8 101.8 67.3 102.0 66.8 102.2 66.3 102.5 65.9 102.8 65.6 103.0 65.3 103.2 65.0 103.5 64.7 103.8 64.4 104.2 64.0 104.5 63.8 104.9 63.5 105.2 63.3 105.7 63.0 106.1 62.8 106.4 62.5 106.8 62.3 107.1 62.0 107.5 61.8 108.0 61.5 108.5 61.4 109.0 61.3 109.5 61.2 110.0 61.2 110.5 61.2 111.0 61.2 111.5 61.3 112.0 61.4 112.5 61.6 113.0 61.8 113.5 62.0 114.0 62.1 114.4 62.2 115.0 62.4 115.4 62.5 115.8 62.6 116.2 62.9 116.8 63.2 117.1 63.5 117.5 64.0 117.7 64.5 117.9 65.0 118.1 65.5 118.2 66.0 118.3 66.5 118.4 67.0 118.5 67.5 118.5 68.0 118.6 68.5 118.7 69.0 118.7 69.5 118.6 70.0 118.5 70.5 118.3 71.0 118.1 71.5 117.9 72.0 117.8 72.5 117.6 73.0 117.3 73.5 117.1 74.0 116.8 74.5 116.6 75.0 116.2 75.5 116.0 75.8 115.8 76.1 115.5 76.4 115.2 76.7 115.0 76.9 114.6 77.2 114.3 77.5 113.9 77.8 113.5 77.9 113.0 78.1 112.6 78.2 112.2 78.3 111.8 78.4 111.2 78.5Z"/>
<path d="M109.8 108.3 109.2 108.3 108.8 108.3 108.2 108.3 107.8 108.2 107.2 108.1 106.8 108.0 106.2 107.9 105.9 107.8 105.5 107.6 105.0 107.3 104.6 107.0 104.3 106.8 104.0 106.4 103.8 106.1 103.5 105.8 103.2 105.4 103.0 105.0 102.8 104.5 102.6 104.0 102.4 103.5 102.3 103.0 102.2 102.5 102.1 102.0 102.0 101.5 101.8 101.0 101.7 100.5 101.5 100.0 101.4 99.5 101.2 99.0 101.1 98.5 101.1 98.0 101.0 97.6 100.9 97.0 100.9 96.5 100.8 96.0 100.8 95.5 100.8 95.0 100.7 94.5 100.8 94.0 100.8 93.5 100.9 93.0 101.0 92.5 101.1 92.0 101.2 91.5 101.4 91.0 101.6 90.5 101.8 90.0 102.1 89.5 102.4 89.0 102.6 88.5 102.9 88.0 103.1 87.5 103.4 87.0 103.6 86.5 103.9 86.0 104.2 85.5 104.5 85.1 104.8 84.8 105.0 84.6 105.3 84.2 105.7 84.0 106.0 83.8 106.4 83.5 106.9 83.2 107.2 83.1 107.8 82.9 108.2 82.8 108.8 82.9 109.2 83.0 109.8 83.1 110.2 83.4 110.8 83.6 111.2 83.9 111.8 84.2 112.2 84.5 112.7 84.8 113.1 85.0 113.4 85.2 113.7 85.5 114.0 85.8 114.2 86.2 114.5 86.5 114.7 87.0 115.0 87.5 115.2 88.0 115.4 88.5 115.6 89.0 115.8 89.4 115.9 89.8 116.1 90.2 116.2 90.8 116.3 91.2 116.4 91.8 116.4 92.2 116.4 92.8 116.4 93.2 116.4 93.8 116.5 94.2 116.5 94.7 116.6 95.2 116.7 95.8 116.7 96.2 116.7 96.8 116.7 97.2 116.7 97.8 116.7 98.2 116.6 98.8 116.6 99.2 116.5 99.8 116.5 100.2 116.4 100.8 116.2 101.2 116.0 101.8 115.8 102.2 115.5 102.8 115.2 103.1 115.0 103.5 114.8 103.8 114.5 104.2 114.2 104.6 114.0 105.0 113.8 105.5 113.5 105.9 113.2 106.2 113.0 106.5 112.8 106.8 112.2 107.2 111.8 107.5 111.3 107.8 111.0 107.9 110.5 108.1 110.0 108.2Z"/>
<path d="M153.5 91.5 153.0 91.7 152.5 91.7 152.0 91.6 151.6 91.5 151.2 91.4 150.8 91.1 150.3 90.8 149.9 90.5 149.7 90.2 149.4 90.0 149.0 89.5 148.8 89.2 148.5 88.8 148.3 88.2 148.1 87.8 147.9 87.2 147.8 86.8 147.6 86.2 147.5 85.8 147.3 85.2 147.1 84.8 146.9 84.2 146.6 83.8 146.4 83.2 146.2 82.8 146.0 82.4 145.9 82.0 145.8 81.6 145.6 81.2 145.5 80.8 145.4 80.2 145.2 79.9 145.1 79.5 144.8 79.0 144.5 78.5 144.2 78.3 143.9 78.0 143.6 77.8 143.2 77.6 142.8 77.4 142.2 77.3 141.8 77.2 141.2 77.1 140.8 77.1 140.2 76.9 139.9 76.8 139.5 76.6 139.0 76.3 138.6 76.0 138.3 75.8 137.9 75.5 137.6 75.2 137.3 75.0 137.0 74.8 136.7 74.5 136.4 74.2 136.0 73.8 135.8 73.5 135.5 73.2 135.2 72.9 135.0 72.6 134.8 72.4 134.4 72.0 134.0 71.8 133.8 71.6 133.2 71.3 132.8 71.0 132.2 70.8 131.8 70.5 131.2 70.3 130.8 70.1 130.2 69.8 129.8 69.6 129.2 69.3 128.8 69.0 128.2 68.8 127.8 68.6 127.2 68.4 126.8 68.3 126.2 68.2 125.8 68.1 125.2 68.0 124.8 68.0 124.2 67.9 123.8 67.8 123.2 67.6 122.9 67.5 122.5 67.4 122.1 67.2 121.8 67.1 121.2 66.9 120.8 66.8 120.5 66.8 120.2 67.0 120.0 67.5 120.0 68.0 119.9 68.5 119.8 69.0 119.8 69.5 119.6 70.0 119.5 70.4 119.3 71.0 119.1 71.5 118.9 72.0 118.8 72.5 118.6 73.0 118.4 73.5 118.2 74.0 118.0 74.5 117.8 75.0 117.5 75.4 117.3 75.8 117.0 76.1 116.8 76.3 116.5 76.6 116.2 76.8 115.8 77.2 115.5 77.5 115.2 77.7 114.9 78.0 114.5 78.2 114.1 78.5 113.8 78.7 113.2 78.9 112.9 79.0 112.5 79.1 112.0 79.2 111.5 79.3 111.0 79.4 110.5 79.5 110.0 79.5 109.5 79.4 109.0 79.4 108.5 79.2 108.0 79.0 107.5 78.8 107.0 78.6 106.6 78.5 106.2 78.4 105.8 78.2 105.5 78.1 105.0 77.9 104.7 77.8 104.3 77.5 104.0 77.2 103.8 77.0 103.5 76.7 103.2 76.3 103.0 76.0 102.8 75.6 102.6 75.2 102.3 74.8 102.0 74.2 101.8 73.8 101.6 73.2 101.5 72.8 101.4 72.5 101.2 72.2 101.1 71.8 100.9 71.2 100.8 70.8 100.6 70.2 100.5 69.8 100.5 69.2 100.5 68.8 100.6 68.2 100.7 67.8 100.8 67.4 100.9 67.0 101.0 66.7 101.2 66.2 101.5 65.9 101.8 65.6 102.0 65.2 102.2 64.9 102.5 64.5 102.8 64.1 103.0 63.8 103.2 63.5 103.5 63.2 104.0 62.8 104.4 62.5 104.8 62.3 105.1 62.0 105.4 61.8 105.7 61.5 105.9 61.2 106.2 61.0 106.5 60.8 106.9 60.5 107.2 60.4 107.8 60.3 108.2 60.3 108.8 60.3 109.2 60.3 109.8 60.4 110.2 60.4 110.8 60.4 111.2 60.4 111.8 60.4 112.2 60.4 112.8 60.5 113.2 60.6 113.8 60.7 114.2 60.9 114.8 61.1 115.2 61.2 115.8 61.5 116.2 61.7 116.8 61.9 117.2 62.2 117.7 62.5 118.0 62.7 118.3 63.0 118.6 63.2 118.9 63.5 119.2 63.8 119.7 63.8 120.0 63.3 120.1 63.0 120.3 62.5 120.5 62.1 120.7 61.8 120.9 61.2 121.2 60.8 121.5 60.3 121.8 60.1 122.1 59.8 122.4 59.5 122.9 59.2 123.5 59.1 124.0 58.9 124.5 58.9 125.0 58.8 125.5 58.7 126.0 58.7 126.5 58.6 127.0 58.6 127.5 58.6 128.0 58.6 128.5 58.6 129.0 58.6 129.5 58.6 130.0 58.6 130.5 58.7 131.0 58.8 131.5 58.9 132.0 59.0 132.5 59.1 133.0 59.2 133.5 59.3 134.0 59.4 134.5 59.5 135.0 59.6 135.5 59.7 136.0 59.8 136.5 59.9 137.0 60.0 137.5 60.1 138.0 60.1 138.5 60.2 139.0 60.2 139.5 60.3 140.0 60.3 140.4 60.2 141.0 60.2 141.5 60.1 142.0 60.0 142.5 59.9 143.0 59.8 143.5 59.8 144.0 59.7 144.5 59.7 145.0 59.6 145.5 59.5 146.0 59.3 146.5 59.3 147.0 59.2 147.5 59.2 148.0 59.3 148.5 59.5 149.0 59.8 149.3 60.0 149.7 60.2 150.0 60.5 150.5 60.8 151.0 61.0 151.5 61.1 152.0 61.2 152.4 61.2 152.8 61.3 153.2 61.5 153.8 61.7 154.2 61.9 154.8 62.2 155.1 62.5 155.5 62.8 155.8 63.0 156.1 63.2 156.5 63.5 156.8 63.7 157.2 64.0 157.5 64.2 157.8 64.5 158.0 64.7 158.2 65.1 158.5 65.5 158.7 66.0 158.9 66.5 159.0 66.9 159.2 67.5 159.4 68.0 159.6 68.5 159.8 68.9 159.9 69.2 160.0 69.8 160.1 70.2 160.1 70.8 160.2 71.2 160.2 71.8 160.1 72.2 160.1 72.8 160.0 73.2 159.9 73.5 159.8 74.0 159.8 74.4 159.7 74.8 159.6 75.2 159.6 75.8 159.6 76.2 159.6 76.8 159.5 77.2 159.5 77.8 159.4 78.2 159.4 78.8 159.3 79.2 159.2 79.7 159.2 80.2 159.1 80.8 159.0 81.2 158.9 81.8 158.8 82.2 158.6 82.8 158.5 83.2 158.4 83.8 158.3 84.2 158.2 84.6 158.2 85.0 158.1 85.5 158.0 85.9 157.9 86.2 157.8 86.7 157.6 87.2 157.4 87.8 157.2 88.2 157.0 88.6 156.8 89.0 156.5 89.4 156.3 89.8 156.0 90.0 155.5 90.5 155.1 90.8 154.8 91.0 154.2 91.2 153.8 91.5Z"/>
<path d="M109.5 109.0 109.0 109.1 108.5 109.1 108.0 109.0 107.5 109.0 107.0 108.9 106.6 108.8 106.2 108.6 105.9 108.5 105.5 108.3 105.0 108.1 104.5 107.8 104.2 107.5 104.0 107.2 103.5 106.8 103.2 106.4 103.0 106.0 102.8 105.6 102.5 105.2 102.3 104.8 102.1 104.2 101.9 103.8 101.8 103.2 101.7 102.8 101.6 102.2 101.5 101.8 101.4 101.2 101.2 100.9 101.1 100.5 101.0 100.1 100.9 99.8 100.8 99.2 100.7 98.8 100.6 98.2 100.5 97.8 100.5 97.3 100.4 96.8 100.4 96.2 100.4 95.8 100.3 95.2 100.3 94.8 100.3 94.2 100.4 93.8 100.4 93.2 100.5 92.8 100.6 92.2 100.7 91.8 100.9 91.2 101.0 90.8 101.1 90.5 101.3 90.0 101.5 89.6 101.7 89.2 101.9 88.8 102.2 88.2 102.4 87.8 102.7 87.2 102.9 86.8 103.2 86.2 103.4 85.8 103.7 85.2 104.0 84.8 104.2 84.5 104.5 84.2 104.8 83.9 105.2 83.5 105.5 83.3 105.9 83.0 106.2 82.8 106.6 82.5 107.0 82.3 107.5 82.0 108.0 81.9 108.5 81.8 109.0 81.9 109.5 82.1 109.9 82.2 110.2 82.4 110.8 82.7 111.2 83.0 111.8 83.2 112.2 83.5 112.6 83.8 113.0 84.0 113.4 84.2 113.7 84.5 114.0 84.8 114.2 85.1 114.5 85.4 114.7 85.8 115.0 86.2 115.2 86.8 115.4 87.2 115.6 87.8 115.8 88.1 115.9 88.5 116.1 89.0 116.2 89.4 116.4 89.8 116.5 90.1 116.6 90.5 116.7 91.0 116.8 91.5 116.8 92.0 116.8 92.5 116.8 93.0 116.8 93.5 116.9 94.0 116.9 94.5 117.0 95.0 117.0 95.5 117.1 96.0 117.1 96.5 117.2 97.0 117.1 97.5 117.1 98.0 117.1 98.5 117.0 99.0 117.0 99.4 117.0 99.8 116.9 100.2 116.8 100.8 116.8 101.1 116.7 101.5 116.5 102.0 116.3 102.5 116.0 103.0 115.8 103.3 115.5 103.7 115.3 104.0 115.0 104.4 114.8 104.7 114.5 105.2 114.3 105.5 114.1 106.0 113.8 106.5 113.5 106.9 113.2 107.1 112.9 107.5 112.5 107.8 112.2 108.0 111.8 108.2 111.3 108.5 110.8 108.7 110.2 108.9 109.8 109.0Z"/>
<path d="M109.2 109.8 108.8 109.8 108.2 109.8 107.8 109.8 107.2 109.7 106.8 109.6 106.2 109.4 105.8 109.1 105.2 108.9 104.8 108.6 104.3 108.2 104.0 108.0 103.7 107.8 103.2 107.3 103.0 106.9 102.8 106.6 102.5 106.2 102.2 105.8 102.0 105.3 101.8 105.0 101.6 104.5 101.5 104.1 101.4 103.5 101.3 103.0 101.1 102.5 101.0 102.0 100.9 101.5 100.8 101.0 100.6 100.5 100.4 100.0 100.3 99.5 100.2 99.0 100.1 98.5 100.1 98.0 100.1 97.5 100.0 97.0 100.0 96.5 100.0 96.0 99.9 95.5 99.9 95.0 99.9 94.5 99.9 94.0 100.0 93.5 100.0 93.0 100.1 92.5 100.2 92.0 100.3 91.5 100.5 91.0 100.6 90.5 100.8 90.0 101.0 89.6 101.2 89.0 101.5 88.5 101.7 88.0 102.0 87.5 102.2 87.0 102.4 86.5 102.7 86.0 102.9 85.5 103.2 85.0 103.5 84.5 103.7 84.2 104.0 83.8 104.2 83.5 104.5 83.2 104.8 83.0 105.2 82.5 105.5 82.2 105.8 82.0 106.1 81.8 106.3 81.5 106.7 81.0 106.9 80.5 106.8 80.0 106.5 79.7 106.0 79.3 105.5 79.1 105.0 78.8 104.5 78.6 104.0 78.3 103.7 78.0 103.4 77.8 103.1 77.5 102.8 77.1 102.5 76.8 102.2 76.4 102.0 76.1 101.8 75.8 101.5 75.4 101.2 75.0 101.0 74.5 100.8 74.0 100.6 73.5 100.5 73.1 100.4 72.8 100.2 72.4 100.1 72.0 99.9 71.5 99.8 71.0 99.7 70.5 99.6 70.0 99.6 69.5 99.6 69.0 99.7 68.5 99.7 68.0 99.8 67.5 99.9 67.0 100.0 66.6 100.2 66.2 100.5 65.8 100.8 65.4 101.0 65.1 101.2 64.8 101.5 64.4 101.7 64.0 102.0 63.5 102.2 63.0 102.5 62.6 102.8 62.3 103.1 62.0 103.4 61.8 103.8 61.5 104.1 61.2 104.4 61.0 104.7 60.8 105.0 60.4 105.2 60.1 105.5 59.8 105.9 59.5 106.2 59.3 106.8 59.1 107.2 59.1 107.8 59.2 108.2 59.3 108.8 59.4 109.2 59.5 109.8 59.6 110.2 59.6 110.8 59.6 111.2 59.5 111.8 59.4 112.2 59.4 112.8 59.4 113.2 59.4 113.8 59.5 114.2 59.7 114.8 59.9 115.2 60.2 115.8 60.4 116.2 60.7 116.8 60.9 117.2 61.2 117.8 61.4 118.2 61.7 118.6 61.8 119.0 61.8 119.5 61.6 120.0 61.2 120.2 60.9 120.5 60.6 120.8 60.3 121.0 60.0 121.2 59.7 121.8 59.3 122.2 59.0 122.5 58.8 123.0 58.6 123.5 58.5 124.0 58.4 124.5 58.3 125.0 58.3 125.5 58.2 126.0 58.1 126.5 58.1 127.0 58.1 127.5 58.1 128.0 58.1 128.5 58.1 129.0 58.1 129.5 58.1 130.0 58.1 130.5 58.2 130.9 58.2 131.5 58.4 132.0 58.5 132.5 58.6 133.0 58.7 133.4 58.8 134.0 58.8 134.5 58.9 135.0 58.9 135.4 59.0 135.8 59.0 136.2 59.1 136.8 59.2 137.2 59.2 137.8 59.3 138.2 59.4 138.8 59.5 139.2 59.5 139.8 59.5 140.2 59.5 140.8 59.5 141.2 59.3 141.6 59.2 142.0 59.1 142.5 59.0 143.0 59.0 143.5 58.9 144.0 58.9 144.5 58.8 145.0 58.8 145.5 58.6 146.0 58.5 146.5 58.4 147.0 58.3 147.5 58.3 148.0 58.3 148.5 58.4 149.0 58.6 149.3 58.8 149.7 59.0 150.0 59.2 150.4 59.5 150.8 59.7 151.2 60.0 151.8 60.2 152.1 60.2 152.5 60.3 153.0 60.5 153.5 60.6 153.9 60.8 154.5 61.0 155.0 61.2 155.5 61.5 155.8 61.8 156.1 62.0 156.4 62.2 156.7 62.5 156.9 62.8 157.2 63.0 157.5 63.2 157.8 63.5 158.1 63.8 158.4 64.0 158.8 64.4 159.0 64.7 159.2 65.2 159.4 65.8 159.6 66.2 159.7 66.8 159.8 67.2 160.0 67.8 160.2 68.2 160.3 68.8 160.5 69.2 160.6 69.8 160.6 70.2 160.7 70.8 160.7 71.2 160.7 71.8 160.7 72.2 160.6 72.8 160.6 73.2 160.5 73.6 160.4 74.0 160.3 74.5 160.2 74.9 160.2 75.2 160.2 75.8 160.1 76.2 160.1 76.8 160.1 77.2 160.0 77.8 160.0 78.2 159.9 78.8 159.8 79.2 159.8 79.8 159.7 80.2 159.6 80.8 159.6 81.2 159.5 81.7 159.4 82.2 159.3 82.8 159.2 83.2 159.1 83.8 159.0 84.1 158.9 84.5 158.8 85.0 158.7 85.5 158.5 86.0 158.4 86.5 158.2 87.0 158.0 87.5 157.8 88.0 157.6 88.5 157.3 89.0 157.0 89.5 156.8 89.9 156.5 90.2 156.2 90.4 155.9 90.8 155.5 91.0 155.2 91.2 154.8 91.5 154.3 91.8 153.8 92.0 153.2 92.2 152.8 92.2 152.2 92.2 151.8 92.1 151.2 91.9 150.9 91.8 150.5 91.5 150.1 91.2 149.8 91.0 149.5 90.8 149.2 90.5 148.8 90.0 148.5 89.6 148.3 89.2 148.0 88.8 147.8 88.2 147.6 87.8 147.5 87.4 147.4 87.0 147.2 86.6 147.1 86.2 147.0 85.9 146.9 85.5 146.6 85.0 146.4 84.5 146.1 84.0 145.9 83.5 145.6 83.0 145.4 82.5 145.2 82.1 145.1 81.8 144.9 81.2 144.8 80.8 144.5 80.2 144.3 79.8 144.0 79.4 143.8 79.1 143.3 78.8 143.0 78.6 142.5 78.4 142.0 78.3 141.5 78.2 141.0 78.2 140.5 78.1 140.0 77.9 139.6 77.8 139.2 77.5 138.8 77.2 138.5 77.0 138.2 76.8 137.8 76.5 137.5 76.2 137.2 76.0 136.8 75.8 136.5 75.5 136.2 75.3 136.0 75.0 135.7 74.8 135.4 74.5 135.2 74.2 134.8 73.8 134.5 73.5 134.2 73.2 134.0 73.0 133.8 72.7 133.2 72.3 132.8 72.0 132.5 71.8 132.0 71.5 131.6 71.2 131.2 71.0 130.8 70.8 130.3 70.5 130.0 70.3 129.5 70.1 129.0 69.8 128.5 69.5 128.0 69.3 127.5 69.1 127.2 69.0 126.8 68.9 126.2 68.8 125.8 68.7 125.2 68.6 124.8 68.5 124.2 68.4 123.8 68.4 123.2 68.3 122.8 68.3 122.2 68.3 121.8 68.4 121.3 68.8 121.0 69.2 120.8 69.8 120.6 70.2 120.4 70.8 120.2 71.1 120.1 71.5 119.9 72.0 119.8 72.5 119.6 73.0 119.5 73.5 119.3 74.0 119.1 74.5 119.0 74.8 118.8 75.2 118.5 75.8 118.2 76.1 118.0 76.4 117.8 76.6 117.4 77.0 117.1 77.2 116.8 77.5 116.5 77.8 116.2 78.0 115.9 78.2 115.5 78.5 115.1 78.8 114.8 79.0 114.3 79.2 113.8 79.5 113.2 79.7 112.8 80.0 112.2 80.2 111.8 80.4 111.2 80.6 111.0 80.9 111.0 81.2 111.2 81.7 111.6 82.0 112.0 82.2 112.2 82.5 112.7 82.8 113.0 83.0 113.4 83.2 113.7 83.5 114.0 83.8 114.3 84.0 114.5 84.3 114.8 84.6 115.0 85.0 115.2 85.5 115.4 86.0 115.6 86.5 115.8 86.9 115.9 87.2 116.1 87.8 116.2 88.2 116.5 88.8 116.7 89.2 116.9 89.8 117.0 90.2 117.1 90.8 117.2 91.2 117.3 91.8 117.3 92.2 117.3 92.8 117.3 93.2 117.3 93.8 117.3 94.2 117.3 94.8 117.4 95.2 117.5 95.8 117.5 96.2 117.5 96.8 117.5 97.2 117.5 97.8 117.5 98.2 117.5 98.8 117.4 99.2 117.4 99.8 117.3 100.2 117.3 100.8 117.2 101.2 117.1 101.8 116.9 102.2 116.8 102.6 116.6 103.0 116.3 103.5 116.0 103.9 115.8 104.2 115.5 104.5 115.2 104.9 115.1 105.2 114.8 105.8 114.5 106.2 114.3 106.8 114.0 107.1 113.8 107.4 113.5 107.7 113.2 108.0 112.8 108.2 112.5 108.5 112.1 108.8 111.8 108.9 111.2 109.2 110.8 109.4 110.2 109.6 109.8 109.7 109.4 109.8Z"/>
<path d="M109.0 110.5 108.5 110.6 108.0 110.6 107.5 110.5 107.0 110.4 106.6 110.2 106.2 110.1 105.8 109.8 105.2 109.5 104.8 109.2 104.4 109.0 104.0 108.8 103.8 108.5 103.5 108.2 103.0 107.8 102.8 107.4 102.5 107.1 102.3 106.8 102.0 106.3 101.8 105.8 101.6 105.5 101.3 105.0 101.1 104.5 101.0 104.0 100.9 103.5 100.8 103.0 100.6 102.5 100.5 102.0 100.4 101.5 100.2 101.0 100.1 100.5 99.9 100.0 99.8 99.5 99.7 99.0 99.7 98.5 99.6 98.0 99.6 97.5 99.6 97.0 99.6 96.5 99.6 96.0 99.5 95.5 99.5 95.0 99.5 94.5 99.6 94.0 99.6 93.5 99.6 93.0 99.7 92.5 99.8 92.0 99.9 91.5 100.0 91.1 100.1 90.8 100.2 90.3 100.4 89.8 100.6 89.2 100.8 88.8 101.0 88.4 101.2 88.0 101.4 87.5 101.6 87.0 101.9 86.5 102.1 86.0 102.4 85.5 102.6 85.0 102.9 84.5 103.1 84.0 103.5 83.5 103.8 83.1 104.0 82.8 104.2 82.4 104.5 82.1 104.8 81.8 105.0 81.4 105.2 81.0 105.2 80.5 105.0 80.1 104.8 79.8 104.3 79.5 104.0 79.3 103.6 79.0 103.3 78.8 103.0 78.5 102.7 78.2 102.5 78.0 102.0 77.5 101.8 77.2 101.5 77.0 101.2 76.7 101.0 76.4 100.8 76.1 100.5 75.8 100.2 75.5 100.0 75.1 99.8 74.8 99.6 74.2 99.5 73.8 99.4 73.2 99.2 72.8 99.1 72.2 98.9 71.8 98.8 71.2 98.8 70.8 98.7 70.2 98.7 69.8 98.7 69.2 98.8 68.8 98.8 68.2 98.9 67.8 99.0 67.2 99.0 66.8 99.1 66.2 99.3 65.8 99.6 65.2 100.0 64.8 100.2 64.5 100.5 64.1 100.7 63.8 101.0 63.2 101.2 62.8 101.4 62.2 101.7 61.8 102.0 61.4 102.5 61.0 102.9 60.8 103.2 60.5 103.6 60.2 103.9 60.0 104.2 59.8 104.4 59.5 104.7 59.2 104.9 59.0 105.2 58.8 105.6 58.5 106.0 58.3 106.5 58.1 107.0 58.1 107.5 58.2 107.9 58.2 108.2 58.3 108.7 58.5 109.2 58.6 109.8 58.7 110.2 58.7 110.8 58.7 111.2 58.6 111.8 58.5 112.2 58.4 112.8 58.4 113.2 58.4 113.8 58.4 114.2 58.5 114.8 58.7 115.2 59.0 115.7 59.2 116.0 59.4 116.5 59.8 116.8 60.0 117.2 60.2 117.8 60.5 118.2 60.6 118.8 60.7 119.2 60.6 119.8 60.3 120.1 60.0 120.3 59.8 120.6 59.5 120.9 59.2 121.2 59.0 121.5 58.8 122.0 58.5 122.5 58.3 123.0 58.1 123.5 58.0 124.0 57.9 124.5 57.9 125.0 57.8 125.4 57.8 126.0 57.7 126.5 57.6 127.0 57.6 127.5 57.6 128.0 57.6 128.5 57.6 129.0 57.6 129.5 57.6 130.0 57.6 130.5 57.7 130.9 57.8 131.5 57.9 132.0 58.0 132.5 58.1 133.0 58.2 133.4 58.2 133.8 58.3 134.2 58.3 134.8 58.4 135.2 58.4 135.8 58.4 136.2 58.5 136.8 58.5 137.2 58.5 137.8 58.6 138.2 58.7 138.8 58.7 139.2 58.8 139.8 58.8 140.2 58.7 140.8 58.6 141.2 58.5 141.5 58.4 141.9 58.2 142.2 58.1 142.8 58.1 143.2 58.0 143.8 58.0 144.2 58.0 144.8 57.9 145.2 57.8 145.8 57.8 146.2 57.7 146.8 57.6 147.2 57.5 147.7 57.5 148.2 57.5 148.8 57.6 149.2 57.8 149.7 58.0 150.1 58.2 150.5 58.5 150.9 58.8 151.2 58.9 151.8 59.2 152.2 59.3 152.8 59.4 153.2 59.5 153.8 59.7 154.1 59.8 154.5 59.9 154.9 60.0 155.2 60.1 155.8 60.4 156.2 60.7 156.5 61.0 157.0 61.5 157.2 61.8 157.5 62.0 157.8 62.3 158.2 62.8 158.5 63.0 158.8 63.2 159.1 63.5 159.5 64.0 159.8 64.4 159.9 64.8 160.1 65.2 160.2 65.8 160.3 66.2 160.4 66.8 160.5 67.2 160.6 67.8 160.8 68.2 160.9 68.8 161.0 69.2 161.1 69.8 161.2 70.2 161.2 70.8 161.2 71.2 161.2 71.8 161.2 72.2 161.2 72.8 161.1 73.2 161.0 73.8 160.9 74.2 160.8 74.8 160.8 75.2 160.7 75.8 160.7 76.2 160.6 76.8 160.6 77.2 160.5 77.8 160.5 78.2 160.5 78.5 160.4 79.0 160.3 79.5 160.2 80.0 160.2 80.5 160.1 81.0 160.1 81.5 160.0 82.0 159.9 82.5 159.9 83.0 159.8 83.5 159.6 84.0 159.5 84.5 159.3 85.0 159.2 85.5 159.0 86.0 158.9 86.5 158.7 87.0 158.5 87.4 158.3 88.0 158.1 88.5 157.8 89.0 157.5 89.5 157.2 89.9 157.0 90.2 156.8 90.5 156.2 91.0 155.9 91.2 155.6 91.5 155.2 91.7 154.8 92.0 154.3 92.2 154.0 92.4 153.5 92.6 153.0 92.7 152.5 92.7 152.0 92.6 151.5 92.5 151.0 92.3 150.5 92.0 150.1 91.8 149.8 91.5 149.4 91.2 149.1 91.0 148.9 90.8 148.5 90.3 148.3 90.0 148.0 89.6 147.8 89.2 147.6 88.8 147.4 88.2 147.2 87.8 147.0 87.2 146.8 86.8 146.6 86.2 146.5 85.9 146.3 85.5 146.1 85.0 145.8 84.5 145.5 84.0 145.3 83.5 145.0 83.0 144.8 82.5 144.5 82.0 144.2 81.5 144.0 81.0 143.8 80.6 143.5 80.3 143.2 80.0 142.8 79.8 142.5 79.6 142.0 79.4 141.5 79.4 141.0 79.3 140.5 79.2 140.0 79.0 139.5 78.8 139.1 78.5 138.8 78.3 138.3 78.0 138.0 77.8 137.6 77.5 137.2 77.3 136.9 77.0 136.5 76.8 136.2 76.5 135.9 76.2 135.7 76.0 135.4 75.8 135.2 75.5 134.9 75.2 134.7 75.0 134.4 74.8 134.2 74.5 133.9 74.2 133.7 74.0 133.4 73.8 133.2 73.5 132.9 73.2 132.7 73.0 132.4 72.8 132.1 72.5 131.8 72.2 131.4 72.0 131.1 71.8 130.8 71.5 130.3 71.2 130.0 71.0 129.5 70.8 129.1 70.5 128.8 70.3 128.2 70.0 127.8 69.8 127.2 69.6 126.9 69.5 126.5 69.4 126.0 69.3 125.5 69.2 125.0 69.1 124.5 69.1 124.0 69.0 123.5 69.1 123.0 69.1 122.6 69.2 122.2 69.5 122.0 69.7 121.8 70.1 121.6 70.5 121.3 71.0 121.1 71.5 120.9 72.0 120.8 72.5 120.6 73.0 120.4 73.5 120.3 74.0 120.1 74.5 120.0 74.9 119.8 75.5 119.5 76.0 119.2 76.3 119.0 76.7 118.8 77.0 118.5 77.2 118.2 77.5 117.9 77.8 117.6 78.0 117.3 78.2 117.0 78.5 116.7 78.8 116.3 79.0 115.9 79.2 115.5 79.5 115.0 79.8 114.6 80.0 114.2 80.2 113.9 80.5 113.6 80.8 113.3 81.2 113.4 81.8 113.7 82.2 114.0 82.5 114.2 82.8 114.5 83.1 114.8 83.4 115.0 83.8 115.2 84.2 115.5 84.8 115.7 85.2 115.8 85.8 116.0 86.2 116.2 86.8 116.3 87.2 116.5 87.7 116.6 88.0 116.8 88.5 117.0 88.9 117.2 89.5 117.4 90.0 117.5 90.4 117.6 91.0 117.7 91.5 117.7 92.0 117.7 92.5 117.7 93.0 117.7 93.5 117.7 94.0 117.7 94.5 117.8 94.9 117.8 95.2 117.8 95.8 117.9 96.2 117.9 96.8 117.9 97.2 117.9 97.8 117.9 98.2 117.9 98.8 117.8 99.2 117.8 99.8 117.8 100.1 117.7 100.5 117.7 101.0 117.6 101.5 117.5 102.0 117.3 102.5 117.1 103.0 116.9 103.5 116.5 104.0 116.2 104.4 116.0 104.8 115.8 105.1 115.5 105.5 115.3 106.0 115.0 106.5 114.8 107.0 114.5 107.4 114.2 107.7 114.0 108.0 113.7 108.2 113.4 108.5 113.1 108.8 112.8 109.0 112.3 109.2 112.0 109.4 111.5 109.7 111.0 110.0 110.5 110.2 110.0 110.3 109.5 110.4 109.1 110.5Z"/>
<path d="M108.2 111.3 107.8 111.2 107.2 111.1 106.8 111.0 106.2 110.8 105.8 110.5 105.4 110.2 105.0 110.0 104.6 109.8 104.2 109.5 103.9 109.2 103.6 109.0 103.3 108.8 103.0 108.4 102.8 108.2 102.5 107.8 102.3 107.5 102.0 107.1 101.8 106.8 101.5 106.3 101.2 105.8 101.1 105.5 100.9 105.0 100.7 104.5 100.5 104.0 100.4 103.5 100.3 103.0 100.2 102.5 100.0 102.0 99.9 101.5 99.8 101.0 99.6 100.5 99.5 100.1 99.4 99.8 99.3 99.2 99.3 98.8 99.2 98.2 99.2 97.8 99.2 97.2 99.2 96.8 99.2 96.2 99.2 95.8 99.2 95.2 99.2 94.8 99.2 94.2 99.2 93.8 99.2 93.2 99.3 92.8 99.4 92.2 99.5 91.8 99.5 91.2 99.7 90.8 99.8 90.2 99.9 89.8 100.1 89.2 100.3 88.8 100.5 88.4 100.7 88.0 100.9 87.5 101.1 87.0 101.2 86.7 101.4 86.2 101.7 85.8 101.9 85.2 102.1 84.8 102.4 84.2 102.6 83.8 102.8 83.4 103.0 83.0 103.2 82.5 103.5 82.0 103.6 81.5 103.7 81.0 103.6 80.5 103.2 80.1 103.0 79.8 102.8 79.6 102.5 79.3 102.2 79.1 102.0 78.8 101.8 78.5 101.5 78.3 101.2 78.0 101.0 77.8 100.7 77.5 100.4 77.2 100.2 77.0 99.8 76.5 99.5 76.2 99.2 75.9 99.0 75.5 98.8 75.0 98.6 74.5 98.5 74.1 98.4 73.8 98.2 73.3 98.1 72.8 98.0 72.2 97.9 71.8 97.9 71.2 97.8 70.8 97.9 70.2 97.9 69.8 97.9 69.2 98.0 68.8 98.0 68.2 98.1 67.8 98.1 67.2 98.2 66.8 98.2 66.2 98.3 65.8 98.5 65.2 98.7 64.8 99.0 64.3 99.2 64.0 99.5 63.7 99.8 63.3 100.0 62.8 100.2 62.2 100.4 61.8 100.7 61.2 101.0 60.9 101.2 60.6 101.7 60.2 102.1 60.0 102.5 59.8 103.0 59.5 103.2 59.3 103.6 59.0 103.9 58.8 104.2 58.5 104.5 58.3 104.9 58.0 105.2 57.8 105.7 57.5 106.0 57.3 106.3 57.2 106.8 57.2 107.2 57.2 107.6 57.2 108.0 57.3 108.5 57.5 109.0 57.6 109.5 57.7 110.0 57.7 110.5 57.7 111.0 57.7 111.5 57.6 112.0 57.5 112.5 57.5 113.0 57.4 113.5 57.4 114.0 57.4 114.5 57.5 115.0 57.7 115.5 57.9 116.0 58.2 116.4 58.5 116.8 58.7 117.1 59.0 117.5 59.2 118.0 59.5 118.5 59.6 119.0 59.6 119.5 59.4 120.0 59.1 120.4 58.8 120.8 58.5 121.2 58.3 121.8 58.0 122.2 57.8 122.8 57.7 123.2 57.6 123.8 57.5 124.2 57.5 124.8 57.4 125.2 57.3 125.8 57.3 126.2 57.2 126.8 57.2 127.2 57.2 127.8 57.2 128.2 57.1 128.8 57.1 129.2 57.1 129.8 57.2 130.2 57.2 130.8 57.2 131.2 57.3 131.8 57.5 132.2 57.6 132.8 57.7 133.2 57.8 133.8 57.8 134.2 57.8 134.8 57.8 135.2 57.9 135.8 57.9 136.2 57.9 136.8 57.9 137.2 57.9 137.8 57.9 138.2 57.9 138.8 57.9 139.2 57.9 139.8 57.9 140.2 57.8 140.8 57.6 141.1 57.5 141.5 57.3 142.0 57.2 142.5 57.1 143.0 57.1 143.5 57.0 144.0 57.0 144.5 57.0 145.0 57.0 145.5 57.0 146.0 56.9 146.5 56.8 147.0 56.8 147.5 56.8 148.0 56.8 148.5 56.8 149.0 56.9 149.3 57.0 149.8 57.2 150.2 57.4 150.8 57.7 151.2 58.0 151.8 58.2 152.2 58.4 152.8 58.5 153.2 58.6 153.8 58.7 154.1 58.8 154.5 58.9 154.9 59.0 155.5 59.2 156.0 59.5 156.4 59.8 156.7 60.0 157.0 60.2 157.2 60.5 157.5 60.8 157.8 61.1 158.0 61.4 158.2 61.7 158.5 61.9 158.8 62.2 159.1 62.5 159.4 62.8 159.6 63.0 160.0 63.4 160.2 63.8 160.5 64.2 160.7 64.8 160.8 65.2 160.9 65.8 160.9 66.2 161.0 66.6 161.1 67.0 161.2 67.5 161.2 67.9 161.3 68.2 161.5 68.8 161.5 69.2 161.6 69.8 161.7 70.2 161.7 70.8 161.7 71.2 161.7 71.8 161.7 72.2 161.7 72.8 161.6 73.2 161.5 73.8 161.4 74.2 161.4 74.8 161.3 75.2 161.2 75.8 161.2 76.2 161.1 76.8 161.1 77.2 161.0 77.8 161.0 78.1 161.0 78.5 160.9 79.0 160.8 79.5 160.8 80.0 160.7 80.5 160.6 81.0 160.6 81.5 160.5 82.0 160.5 82.5 160.4 83.0 160.3 83.5 160.2 84.0 160.0 84.5 159.9 85.0 159.7 85.5 159.5 86.0 159.3 86.5 159.1 87.0 159.0 87.4 158.9 87.8 158.7 88.2 158.5 88.6 158.3 89.0 158.0 89.5 157.8 89.9 157.5 90.2 157.2 90.6 157.0 90.9 156.6 91.2 156.3 91.5 155.9 91.8 155.6 92.0 155.2 92.2 154.8 92.5 154.3 92.8 153.8 93.0 153.2 93.1 152.8 93.2 152.2 93.1 151.8 93.0 151.2 92.8 150.8 92.6 150.2 92.3 149.8 92.0 149.4 91.8 149.1 91.5 148.8 91.2 148.6 91.0 148.2 90.6 148.0 90.3 147.8 89.9 147.5 89.5 147.3 89.0 147.1 88.5 146.8 88.0 146.6 87.5 146.5 87.1 146.3 86.8 146.1 86.2 145.9 85.8 145.8 85.4 145.5 85.0 145.2 84.5 145.0 84.1 144.8 83.8 144.5 83.3 144.2 82.9 144.0 82.5 143.8 82.1 143.5 81.8 143.2 81.5 142.8 81.0 142.2 80.8 141.8 80.6 141.2 80.5 140.8 80.4 140.2 80.3 139.8 80.1 139.3 79.8 138.9 79.5 138.6 79.2 138.2 79.0 137.9 78.8 137.5 78.5 137.0 78.2 136.6 78.0 136.2 77.8 135.8 77.5 135.5 77.2 135.3 77.0 135.0 76.7 134.8 76.4 134.5 76.1 134.2 75.8 134.0 75.5 133.8 75.3 133.4 75.0 133.2 74.8 132.9 74.5 132.6 74.2 132.4 74.0 132.1 73.8 131.9 73.5 131.6 73.2 131.4 73.0 131.1 72.8 130.8 72.5 130.5 72.3 130.2 72.0 129.8 71.8 129.5 71.5 129.1 71.2 128.8 71.0 128.3 70.8 128.0 70.6 127.5 70.3 127.0 70.1 126.6 70.0 126.2 69.9 125.8 69.8 125.4 69.8 125.0 69.7 124.5 69.7 124.0 69.8 123.5 69.9 123.0 70.2 122.8 70.4 122.5 70.8 122.3 71.2 122.0 71.8 121.9 72.2 121.8 72.6 121.6 73.0 121.5 73.4 121.4 73.8 121.3 74.2 121.1 74.8 120.9 75.2 120.8 75.7 120.5 76.2 120.3 76.5 120.0 76.9 119.8 77.2 119.5 77.5 119.2 77.8 119.0 78.0 118.5 78.5 118.2 78.7 118.0 79.0 117.7 79.2 117.4 79.5 117.0 79.7 116.6 80.0 116.2 80.2 115.8 80.5 115.4 80.8 115.1 81.2 115.0 81.8 115.1 82.2 115.4 82.8 115.5 83.1 115.7 83.5 115.8 84.0 116.0 84.5 116.1 85.0 116.2 85.4 116.3 85.8 116.5 86.2 116.6 86.8 116.8 87.1 116.9 87.5 117.0 87.8 117.2 88.2 117.4 88.8 117.5 89.1 117.6 89.5 117.8 89.8 117.9 90.2 118.0 90.8 118.1 91.2 118.1 91.8 118.2 92.2 118.2 92.8 118.1 93.2 118.1 93.8 118.1 94.2 118.2 94.8 118.2 95.2 118.2 95.8 118.3 96.2 118.3 96.8 118.3 97.2 118.3 97.8 118.3 98.2 118.2 98.8 118.2 99.2 118.2 99.8 118.1 100.2 118.1 100.8 118.0 101.2 117.9 101.8 117.8 102.2 117.7 102.8 117.5 103.2 117.3 103.8 117.0 104.2 116.8 104.6 116.5 105.0 116.2 105.3 116.0 105.8 115.8 106.2 115.5 106.7 115.3 107.0 115.0 107.5 114.8 107.9 114.5 108.2 114.2 108.4 113.9 108.8 113.6 109.0 113.2 109.2 112.9 109.5 112.5 109.8 112.1 110.0 111.8 110.2 111.3 110.5 110.8 110.7 110.2 110.9 109.8 111.0 109.2 111.2 108.8 111.2 108.2 111.3Z"/>
<path d="M109.5 111.8 109.0 111.8 108.5 111.9 108.0 111.9 107.5 111.8 107.0 111.7 106.5 111.5 106.0 111.3 105.6 111.0 105.2 110.8 104.8 110.5 104.4 110.2 104.0 110.0 103.8 109.8 103.4 109.5 103.1 109.2 102.9 109.0 102.5 108.6 102.3 108.2 102.0 107.9 101.8 107.5 101.5 107.1 101.3 106.8 101.0 106.3 100.8 105.8 100.5 105.2 100.3 104.8 100.2 104.2 100.0 103.8 99.9 103.2 99.8 102.8 99.6 102.2 99.5 101.8 99.4 101.2 99.2 100.8 99.1 100.2 99.0 99.8 98.9 99.2 98.8 98.8 98.8 98.2 98.8 97.8 98.8 97.2 98.8 96.8 98.8 96.2 98.8 95.8 98.8 95.2 98.8 94.8 98.8 94.2 98.8 93.8 98.9 93.2 98.9 92.8 99.0 92.2 99.1 91.8 99.1 91.2 99.2 90.8 99.4 90.2 99.5 89.8 99.7 89.2 99.8 88.8 100.0 88.4 100.1 88.0 100.3 87.5 100.5 87.2 100.7 86.8 100.9 86.2 101.1 85.8 101.3 85.2 101.5 84.8 101.6 84.5 101.8 84.0 102.0 83.6 102.2 83.0 102.3 82.5 102.4 82.0 102.5 81.5 102.4 81.0 102.1 80.5 101.8 80.0 101.5 79.7 101.2 79.4 100.8 79.0 100.5 78.8 100.3 78.5 100.0 78.2 99.7 78.0 99.3 77.5 99.0 77.2 98.8 76.8 98.5 76.3 98.3 76.0 98.1 75.5 97.9 75.0 97.8 74.7 97.6 74.2 97.4 73.8 97.2 73.3 97.1 72.8 97.0 72.2 97.0 71.8 97.0 71.2 97.0 70.8 97.0 70.2 97.1 69.8 97.1 69.2 97.2 68.8 97.2 68.2 97.3 67.8 97.3 67.2 97.3 66.8 97.3 66.2 97.4 65.8 97.4 65.2 97.5 64.8 97.7 64.2 98.0 63.8 98.2 63.5 98.5 63.2 98.8 62.8 99.0 62.5 99.2 62.0 99.5 61.6 99.8 61.1 99.9 60.8 100.2 60.3 100.5 60.0 100.8 59.8 101.1 59.5 101.5 59.3 101.9 59.0 102.2 58.8 102.8 58.5 103.1 58.2 103.5 58.0 103.8 57.8 104.2 57.5 104.5 57.3 104.9 57.0 105.2 56.8 105.8 56.5 106.2 56.3 106.8 56.2 107.2 56.2 107.8 56.2 108.2 56.3 108.8 56.4 109.2 56.5 109.8 56.5 110.2 56.6 110.8 56.6 111.2 56.6 111.8 56.6 112.2 56.6 112.8 56.5 113.2 56.5 113.8 56.5 114.2 56.5 114.8 56.6 115.2 56.7 115.8 56.9 116.2 57.1 116.8 57.4 117.2 57.7 117.7 58.0 118.2 58.2 118.8 58.3 119.2 58.3 119.8 58.2 120.2 58.0 120.8 57.8 121.2 57.6 121.6 57.5 122.0 57.4 122.5 57.3 123.0 57.2 123.5 57.1 124.0 57.0 124.5 57.0 125.0 56.9 125.5 56.9 126.0 56.8 126.5 56.8 127.0 56.8 127.5 56.7 128.0 56.7 128.5 56.7 129.0 56.7 129.5 56.7 130.0 56.7 130.5 56.8 131.0 56.8 131.5 56.9 132.0 57.0 132.5 57.1 133.0 57.2 133.5 57.3 134.0 57.3 134.5 57.3 135.0 57.3 135.5 57.3 136.0 57.3 136.5 57.3 137.0 57.2 137.5 57.2 138.0 57.2 138.5 57.2 139.0 57.1 139.5 57.0 140.0 56.8 140.5 56.6 140.9 56.5 141.2 56.4 141.7 56.2 142.2 56.2 142.8 56.1 143.2 56.1 143.8 56.1 144.2 56.1 144.8 56.1 145.2 56.1 145.8 56.1 146.2 56.1 146.8 56.1 147.2 56.0 147.8 56.0 148.2 56.0 148.8 56.1 149.2 56.1 149.7 56.2 150.0 56.4 150.5 56.6 151.0 56.9 151.5 57.2 152.0 57.4 152.5 57.5 153.0 57.6 153.5 57.7 153.8 57.8 154.2 57.9 154.7 58.0 155.2 58.2 155.8 58.5 156.2 58.8 156.6 59.0 156.9 59.2 157.2 59.5 157.5 59.8 157.8 60.0 158.0 60.3 158.2 60.6 158.5 60.9 158.8 61.2 159.0 61.5 159.2 61.7 159.5 62.0 159.8 62.2 160.1 62.5 160.5 63.0 160.8 63.4 161.0 63.8 161.2 64.2 161.3 64.8 161.4 65.2 161.5 65.7 161.6 66.2 161.6 66.8 161.7 67.2 161.8 67.6 161.8 68.0 161.9 68.5 162.0 69.0 162.1 69.5 162.2 70.0 162.2 70.5 162.2 71.0 162.2 71.5 162.2 72.0 162.1 72.5 162.1 73.0 162.0 73.5 162.0 74.0 161.9 74.5 161.8 75.0 161.8 75.5 161.7 76.0 161.6 76.5 161.6 77.0 161.5 77.5 161.5 77.9 161.5 78.2 161.4 78.8 161.4 79.2 161.3 79.8 161.2 80.2 161.2 80.8 161.1 81.2 161.0 81.8 161.0 82.2 160.9 82.8 160.8 83.2 160.7 83.8 160.6 84.2 160.4 84.8 160.2 85.2 160.1 85.8 159.9 86.2 159.8 86.6 159.6 87.0 159.4 87.5 159.2 87.9 159.1 88.2 158.9 88.8 158.6 89.2 158.4 89.8 158.0 90.2 157.8 90.6 157.5 90.9 157.2 91.1 156.9 91.5 156.6 91.8 156.2 92.0 155.9 92.2 155.5 92.5 155.1 92.8 154.8 93.0 154.2 93.2 153.8 93.4 153.3 93.5 152.8 93.6 152.2 93.5 151.8 93.4 151.3 93.2 150.8 93.0 150.3 92.8 149.8 92.5 149.5 92.3 149.1 92.0 148.8 91.8 148.6 91.5 148.3 91.2 148.0 90.9 147.8 90.6 147.5 90.2 147.2 89.8 147.0 89.3 146.8 88.8 146.5 88.2 146.3 87.8 146.1 87.2 145.9 86.8 145.6 86.2 145.4 85.8 145.1 85.2 144.8 84.8 144.5 84.3 144.3 84.0 144.0 83.6 143.8 83.3 143.5 82.9 143.2 82.7 142.8 82.2 142.4 82.0 142.0 81.9 141.5 81.8 141.0 81.7 140.5 81.7 140.0 81.6 139.6 81.5 139.2 81.3 138.9 81.0 138.5 80.6 138.2 80.3 138.0 80.1 137.6 79.8 137.2 79.5 136.8 79.2 136.5 79.1 136.0 78.8 135.5 78.6 135.0 78.2 134.8 78.0 134.5 77.7 134.2 77.4 134.0 77.1 133.8 76.8 133.5 76.4 133.2 76.1 133.0 75.8 132.8 75.6 132.4 75.2 132.2 75.0 131.9 74.8 131.6 74.5 131.4 74.2 131.1 74.0 130.9 73.8 130.6 73.5 130.4 73.2 130.1 73.0 129.8 72.8 129.5 72.5 129.2 72.2 128.9 72.0 128.6 71.8 128.2 71.5 127.9 71.2 127.5 71.0 127.0 70.8 126.5 70.6 126.0 70.5 125.5 70.4 125.0 70.4 124.5 70.5 124.0 70.7 123.6 71.0 123.2 71.5 123.0 72.0 122.8 72.5 122.7 73.0 122.6 73.5 122.4 74.0 122.3 74.5 122.1 75.0 121.9 75.5 121.8 75.9 121.6 76.2 121.3 76.8 121.0 77.2 120.8 77.5 120.5 77.8 120.2 78.1 120.0 78.3 119.8 78.6 119.3 79.0 119.1 79.2 118.8 79.5 118.5 79.8 118.3 80.0 118.0 80.2 117.8 80.5 117.5 80.8 117.2 81.0 116.9 81.2 116.6 81.8 116.4 82.2 116.4 82.8 116.4 83.2 116.5 83.8 116.5 84.2 116.6 84.8 116.7 85.2 116.8 85.8 116.9 86.2 117.1 86.8 117.2 87.2 117.4 87.8 117.6 88.2 117.8 88.7 118.0 89.2 118.1 89.8 118.2 90.2 118.4 90.8 118.5 91.2 118.6 91.8 118.6 92.2 118.6 92.8 118.6 93.2 118.6 93.8 118.6 94.2 118.6 94.8 118.6 95.2 118.6 95.8 118.7 96.2 118.7 96.8 118.7 97.2 118.7 97.8 118.6 98.2 118.6 98.8 118.6 99.2 118.6 99.8 118.5 100.2 118.5 100.8 118.4 101.2 118.3 101.8 118.2 102.1 118.2 102.5 118.0 103.0 117.9 103.5 117.6 104.0 117.4 104.5 117.1 105.0 116.8 105.5 116.5 106.0 116.2 106.4 116.1 106.8 115.8 107.2 115.5 107.7 115.3 108.0 115.0 108.3 114.8 108.6 114.5 108.9 114.1 109.2 113.8 109.5 113.4 109.8 113.1 110.0 112.8 110.2 112.4 110.5 112.0 110.7 111.6 111.0 111.1 111.2 110.5 111.5 110.0 111.6 109.5 111.8Z"/>
<path d="M110.0 112.3 109.5 112.4 109.0 112.4 108.5 112.4 108.0 112.4 107.5 112.3 107.1 112.2 106.8 112.2 106.4 112.0 106.0 111.8 105.5 111.6 105.0 111.3 104.6 111.0 104.3 110.8 103.9 110.5 103.6 110.2 103.3 110.0 103.0 109.8 102.8 109.5 102.5 109.2 102.2 108.9 102.0 108.6 101.8 108.3 101.5 107.9 101.2 107.5 101.0 107.1 100.8 106.8 100.5 106.2 100.3 105.8 100.1 105.2 99.9 104.8 99.8 104.3 99.6 103.8 99.5 103.4 99.4 103.0 99.3 102.5 99.1 102.0 99.0 101.5 98.9 101.0 98.8 100.5 98.7 100.0 98.6 99.5 98.5 99.0 98.5 98.5 98.4 98.0 98.4 97.5 98.4 97.0 98.4 96.5 98.4 96.0 98.4 95.5 98.4 95.0 98.4 94.5 98.5 94.0 98.5 93.5 98.5 93.0 98.6 92.5 98.7 92.0 98.7 91.5 98.8 91.0 98.9 90.5 99.0 90.0 99.1 89.5 99.2 89.1 99.4 88.8 99.5 88.4 99.6 88.0 99.8 87.5 100.0 87.1 100.2 86.8 100.4 86.2 100.5 85.9 100.7 85.5 100.9 85.0 101.0 84.7 101.1 84.2 101.2 83.9 101.4 83.5 101.5 83.0 101.5 82.5 101.5 82.0 101.4 81.5 101.2 81.1 101.1 80.8 100.8 80.4 100.5 80.1 100.1 79.8 99.8 79.5 99.4 79.2 99.2 79.0 98.8 78.5 98.5 78.2 98.3 77.8 98.0 77.2 97.8 76.8 97.6 76.2 97.4 75.8 97.2 75.2 97.0 74.9 96.8 74.5 96.6 74.0 96.4 73.5 96.3 73.0 96.2 72.5 96.1 72.0 96.1 71.5 96.2 71.0 96.2 70.5 96.2 70.0 96.2 69.5 96.3 69.0 96.3 68.5 96.3 68.0 96.3 67.5 96.3 67.0 96.3 66.5 96.4 66.0 96.4 65.5 96.5 65.0 96.6 64.5 96.7 64.0 97.0 63.5 97.2 63.1 97.5 62.8 97.8 62.5 98.0 62.2 98.2 61.9 98.5 61.5 98.8 61.1 99.0 60.8 99.2 60.3 99.5 59.9 99.8 59.6 100.0 59.3 100.3 59.0 100.6 58.8 101.0 58.5 101.3 58.2 101.7 58.0 102.2 57.8 102.5 57.6 103.0 57.3 103.4 57.0 103.8 56.8 104.2 56.5 104.6 56.2 104.9 56.0 105.2 55.8 105.8 55.5 106.2 55.3 106.8 55.2 107.2 55.1 107.8 55.1 108.2 55.1 108.8 55.1 109.2 55.1 109.8 55.2 110.2 55.3 110.8 55.4 111.2 55.5 111.8 55.6 112.2 55.6 112.8 55.6 113.2 55.6 113.8 55.6 114.2 55.5 114.8 55.6 115.2 55.7 115.8 55.9 116.2 56.1 116.6 56.2 117.0 56.4 117.5 56.7 118.0 56.9 118.5 57.1 119.0 57.2 119.5 57.3 119.9 57.2 120.2 57.2 120.8 57.1 121.2 57.0 121.8 56.9 122.2 56.8 122.8 56.8 123.2 56.7 123.8 56.7 124.2 56.6 124.8 56.6 125.2 56.5 125.8 56.4 126.2 56.4 126.8 56.4 127.2 56.3 127.8 56.3 128.2 56.3 128.8 56.3 129.2 56.3 129.8 56.3 130.2 56.3 130.8 56.3 131.2 56.4 131.7 56.5 132.2 56.6 132.8 56.7 133.2 56.8 133.8 56.8 134.2 56.8 134.8 56.8 135.1 56.8 135.5 56.7 136.0 56.7 136.5 56.6 137.0 56.6 137.5 56.5 138.0 56.4 138.5 56.3 139.0 56.2 139.5 56.0 140.0 55.8 140.5 55.5 141.0 55.4 141.5 55.3 142.0 55.3 142.5 55.3 143.0 55.3 143.5 55.3 144.0 55.3 144.5 55.3 145.0 55.3 145.5 55.3 146.0 55.3 146.5 55.3 147.0 55.3 147.5 55.3 148.0 55.2 148.5 55.2 149.0 55.2 149.5 55.2 150.0 55.3 150.5 55.5 151.0 55.7 151.5 56.0 152.0 56.2 152.5 56.4 153.0 56.6 153.5 56.7 154.0 56.9 154.4 57.0 154.8 57.1 155.2 57.4 155.8 57.6 156.2 58.0 156.7 58.2 157.0 58.5 157.4 58.8 157.7 59.0 157.9 59.2 158.2 59.6 158.5 59.9 158.8 60.2 159.0 60.5 159.2 60.8 159.5 61.0 159.8 61.3 160.0 61.5 160.2 61.8 160.5 62.1 160.8 62.3 161.0 62.6 161.2 63.0 161.5 63.4 161.7 63.8 161.9 64.2 162.0 64.8 162.1 65.2 162.1 65.8 162.1 66.2 162.2 66.8 162.2 67.2 162.3 67.8 162.4 68.2 162.5 68.7 162.6 69.0 162.7 69.5 162.7 70.0 162.7 70.5 162.7 71.0 162.7 71.5 162.7 72.0 162.6 72.5 162.5 73.0 162.5 73.4 162.5 73.8 162.4 74.2 162.4 74.8 162.3 75.2 162.2 75.6 162.2 76.0 162.1 76.5 162.1 77.0 162.0 77.5 162.0 78.0 161.9 78.5 161.9 79.0 161.8 79.5 161.8 79.9 161.7 80.5 161.6 81.0 161.5 81.5 161.5 82.0 161.4 82.5 161.3 83.0 161.2 83.5 161.1 84.0 160.9 84.5 160.8 85.0 160.6 85.5 160.4 86.0 160.2 86.4 160.1 86.8 159.9 87.2 159.8 87.7 159.5 88.2 159.3 88.8 159.1 89.2 158.8 89.8 158.5 90.2 158.3 90.5 158.0 90.8 157.8 91.1 157.5 91.4 157.1 91.8 156.8 92.0 156.5 92.2 156.2 92.5 155.8 92.8 155.5 93.0 155.0 93.2 154.5 93.5 154.0 93.7 153.5 93.8 153.0 93.9 152.5 93.9 152.0 93.9 151.6 93.8 151.2 93.6 150.8 93.4 150.2 93.2 149.8 92.9 149.2 92.5 148.9 92.2 148.6 92.0 148.3 91.8 148.1 91.5 147.8 91.2 147.5 90.8 147.3 90.5 147.0 90.1 146.8 89.8 146.6 89.2 146.3 88.8 146.1 88.2 145.9 87.8 145.6 87.2 145.4 86.8 145.1 86.2 144.8 85.8 144.5 85.2 144.2 84.9 144.0 84.6 143.8 84.3 143.5 84.0 143.2 83.7 143.0 83.5 142.6 83.2 142.2 83.0 141.8 82.9 141.2 82.8 140.8 82.8 140.2 82.8 139.8 82.8 139.2 82.7 138.8 82.5 138.3 82.2 138.0 82.0 137.5 81.5 137.2 81.2 137.0 80.9 136.5 80.5 136.2 80.2 135.8 80.0 135.3 79.8 135.0 79.6 134.5 79.2 134.2 79.0 133.9 78.8 133.5 78.3 133.3 78.0 133.0 77.6 132.8 77.2 132.5 76.8 132.2 76.4 132.0 76.1 131.8 75.9 131.5 75.6 131.2 75.3 131.0 75.1 130.6 74.8 130.4 74.5 130.1 74.2 129.8 74.0 129.5 73.8 129.2 73.5 128.9 73.2 128.6 73.0 128.3 72.8 128.0 72.5 127.7 72.2 127.4 72.0 127.0 71.8 126.5 71.5 126.0 71.4 125.5 71.3 125.0 71.4 124.5 71.8 124.2 72.2 124.1 72.5 124.0 72.9 123.9 73.2 123.8 73.8 123.7 74.2 123.5 74.7 123.3 75.2 123.0 75.7 122.8 76.1 122.5 76.5 122.2 76.9 122.0 77.2 121.8 77.6 121.5 78.0 121.3 78.2 121.0 78.6 120.8 78.9 120.5 79.1 120.1 79.5 119.9 79.8 119.6 80.0 119.3 80.2 119.1 80.5 118.8 80.9 118.5 81.1 118.2 81.4 118.0 81.7 117.8 82.0 117.5 82.4 117.3 83.0 117.2 83.5 117.2 84.0 117.2 84.5 117.2 85.0 117.2 85.5 117.3 86.0 117.4 86.5 117.6 87.0 117.7 87.5 117.9 88.0 118.1 88.5 118.2 88.9 118.4 89.5 118.6 90.0 118.7 90.5 118.9 91.0 118.9 91.5 119.0 91.9 119.0 92.5 119.1 93.0 119.0 93.5 119.0 94.0 119.0 94.5 119.0 95.0 119.0 95.5 119.0 96.0 119.1 96.5 119.1 97.0 119.0 97.5 119.0 98.0 119.0 98.5 119.0 99.0 118.9 99.5 118.9 100.0 118.9 100.5 118.8 101.0 118.8 101.4 118.7 102.0 118.6 102.5 118.4 103.0 118.3 103.5 118.1 104.0 117.9 104.5 117.6 105.0 117.3 105.5 117.1 106.0 116.8 106.5 116.5 106.9 116.3 107.2 116.0 107.7 115.8 108.1 115.5 108.4 115.2 108.7 115.0 109.0 114.8 109.2 114.5 109.5 114.2 109.8 113.9 110.0 113.6 110.2 113.3 110.5 112.9 110.8 112.6 111.0 112.2 111.2 111.8 111.5 111.5 111.7 111.0 111.9 110.5 112.1 110.1 112.2Z"/>
</g>
<rect x="150.7" y="85.5" width="21.7" height="58.5" fill="none" stroke="#6a6a6a" stroke-width="0.8"/>
<path d="M93.85 83.57h0.9M96.73 68.9h0.9M93.66 59.91h0.9M95.93 70.38h0.9M93.86 57.01h0.9M93.72 63.71h0.9M98.81 76.19h0.9M97.82 55.34h0.9M100.68 74.93h0.9M95.53 73.7h0.9M96.22 70.91h0.9M96.31 55.91h0.9M96.54 54.96h0.9M97.3 68.85h0.9M92.83 70.61h0.9M97.31 74.49h0.9M93.4 68.63h0.9M96.05 62.9h0.9M101.99 80.89h0.9M95.96 76.65h0.9M95.53 63.25h0.9M97.24 56.25h0.9M96.24 81.09h0.9M94.24 66.37h0.9M99.42 54.02h0.9M95.14 60.71h0.9M97.76 85.37h0.9M94.97 66.72h0.9M98.32 78.91h0.9M97.17 62.63h0.9M97.43 84.85h0.9M96.89 78.26h0.9M97.05 57.23h0.9M96.96 55.92h0.9M96.38 71.9h0.9M94.97 68.32h0.9M97.11 58.19h0.9M98.77 74.6h0.9M97.45 60.81h0.9M97.31 62.63h0.9M99.24 63.73h0.9M95.46 82.32h0.9M96.49 81.34h0.9M97.8 74.54h0.9M100.43 60.82h0.9M99.25 62.26h0.9M96.28 63.48h0.9M94.46 56.35h0.9M98.06 61.78h0.9M97.33 73.24h0.9M94.68 84.69h0.9M97.48 69.48h0.9M92.83 59.85h0.9M94.42 58.93h0.9M98.84 61.98h0.9M94.24 60.07h0.9M95.77 60.29h0.9M91.78 84.4h0.9M97.86 67.49h0.9M94.4 57.32h0.9M100.53 61.63h0.9M97.16 76.55h0.9M95.9 73.09h0.9M99.4 63.39h0.9M97.35 56.2h0.9M98.61 61.31h0.9M92.77 73.66h0.9M94.77 62.97h0.9M97.11 54.53h0.9M95.45 62.61h0.9M95.45 59.64h0.9M96.26 65.8h0.9M95.19 65.59h0.9M95.63 82.51h0.9M98.66 76.12h0.9M133.45 53.32h0.9M107.69 53.69h0.9M152.34 53.54h0.9M140.21 53.7h0.9M136.45 53.45h0.9M127.52 53.39h0.9M157.51 52.63h0.9M103.92 51.93h0.9M151.76 53.03h0.9M142.3 52.99h0.9M152.62 51.8h0.9M119.96 52.65h0.9M150.07 51.53h0.9M123.74 54h0.9M132.77 51.57h0.9M135.8 52.52h0.9M134.86 54.39h0.9M104.2 51.47h0.9M125.8 97.16h0.9M123.52 93.92h0.9M119.24 90.87h0.9M120.59 87.71h0.9M121.94 94.48h0.9M122.24 78.58h0.9M122 83.01h0.9M123.73 93.25h0.9M121.43 98.25h0.9M119.29 83.7h0.9M121.12 92.92h0.9M118.86 82.54h0.9M117.79 92.68h0.9M119.75 87.78h0.9M122.22 92.6h0.9M123.7 82.23h0.9M120.09 98.18h0.9M123.21 97.29h0.9M119.29 85.03h0.9M124.11 80.84h0.9M121.32 96.68h0.9M119.88 93.71h0.9M121.17 81.7h0.9M121.2 87.91h0.9M119.73 87.16h0.9M122.74 91.7h0.9M121.33 96.46h0.9M122.21 99.57h0.9M120.37 78.7h0.9M118.69 97.33h0.9M120.39 90.59h0.9M120.77 84.8h0.9M121.03 80.97h0.9M117.66 88.16h0.9M120.26 83.25h0.9M118.27 81.21h0.9M120.26 87.86h0.9M123.01 91.78h0.9M124.21 98.96h0.9M120.6 93.09h0.9M118.79 82.02h0.9M123.36 78.11h0.9M120.23 81.96h0.9M122.4 83.92h0.9M118.78 89.55h0.9M139.5 84.66h0.9M143.38 88.49h0.9M145.61 91.48h0.9M141.41 87.82h0.9M125.91 79.71h0.9M146.9 89.31h0.9M131.93 83.91h0.9M143.61 88.37h0.9M147.03 91.21h0.9M128.63 79.33h0.9M141.87 86.95h0.9M141.22 87.88h0.9M127.37 82.18h0.9M147.71 92.01h0.9M137.34 83.83h0.9M146.56 89.94h0.9M145.62 88.32h0.9M134.76 82.65h0.9M137.76 83.89h0.9M123.42 78.02h0.9M143.34 89.65h0.9M127.51 79.41h0.9M132.16 80.87h0.9M127.01 78.83h0.9M136.74 83.68h0.9M140.04 88.31h0.9M146.29 92.68h0.9M125.7 77.36h0.9M128.69 80.25h0.9M142.4 86.4h0.9M138.71 87.63h0.9M137.9 84.23h0.9M130.58 82.36h0.9M145.97 90.46h0.9M127.78 81.11h0.9M135.57 86.32h0.9M138.16 84.55h0.9M135.74 84.71h0.9M137.31 88.14h0.9M136.62 83.87h0.9M133.66 82.18h0.9M135.39 84.59h0.9M140.65 87.28h0.9M133.93 82.5h0.9M147.9 90.39h0.9M135.57 83.14h0.9M125.58 80.15h0.9M146.4 89.66h0.9M135.74 83.05h0.9M139.16 85.49h0.9M146.7 90.64h0.9M123.18 78.1h0.9M128.43 79.02h0.9M130.78 82.63h0.9M132.53 81.46h0.9M142.31 86.69h0.9M126.17 78.79h0.9M128.65 78.84h0.9M136.66 84.69h0.9M134.01 82.32h0.9M137.04 83.92h0.9M139.53 85.64h0.9M138.69 87.64h0.9M139.18 85.07h0.9M145.69 88.25h0.9M143.38 89.65h0.9M146.75 89.13h0.9M146.94 90.04h0.9M127.64 82h0.9M127.02 77.91h0.9M127.29 98.53h0.9M127.78 85.94h0.9M141.52 92.43h0.9M140.51 86.52h0.9M131.22 97.7h0.9M121.98 88.02h0.9M137.93 102.23h0.9M144.79 86.31h0.9M133.69 99.16h0.9M133.62 97.71h0.9M126.09 85.41h0.9M124.1 84.75h0.9M134.79 94.3h0.9M135.2 86.93h0.9M125.98 88.08h0.9M141.72 103.81h0.9M143.8 85.9h0.9M123.04 103.03h0.9M132.64 99.29h0.9M129.39 93.34h0.9M133.92 92.6h0.9M135.97 84.26h0.9M138.37 100.89h0.9M125.9 93.08h0.9M139.29 92.11h0.9M107.76 123.83h0.9M106.43 120.93h0.9M111.98 115.41h0.9M105.1 111.47h0.9M104.6 117.3h0.9M103.69 117.53h0.9M113.34 120.02h0.9M106.65 131.99h0.9M106.84 112.33h0.9M108.46 116.31h0.9M112.79 114.77h0.9M105.02 112.97h0.9M107.39 115.92h0.9M106.82 119.12h0.9M104.9 125.72h0.9M110.32 121.31h0.9M103.9 115.65h0.9M107.99 132.95h0.9M105.45 117.08h0.9M104.61 115.52h0.9M103.65 119.97h0.9M112.07 120.99h0.9M105.26 112.93h0.9M107.8 120.87h0.9M102.76 115.57h0.9M106.9 126.06h0.9M109.24 122.03h0.9M105.92 122.6h0.9M107.01 131.86h0.9M103.09 119.16h0.9M111.49 119.67h0.9M112.04 120.78h0.9M107.56 119.15h0.9M102.22 116.15h0.9M114.8 124.23h0.9M109.17 125.77h0.9M109.04 126.11h0.9M106.12 119.88h0.9M110.49 119.24h0.9M102.39 119.87h0.9M105.18 117.11h0.9M104.9 115.44h0.9M105.52 118.05h0.9M105.97 116.66h0.9M106.06 116.8h0.9M107.54 117.9h0.9M103.42 117.86h0.9M106.04 116.18h0.9M109.89 116.33h0.9M109.16 117.47h0.9M104.4 116.99h0.9M107.23 116.37h0.9M102.33 116.16h0.9M105.74 115.39h0.9M108.97 116.26h0.9M105.42 116.2h0.9M104.8 115.72h0.9M106.2 116.81h0.9M105.24 116.41h0.9M103.83 117.02h0.9M104.85 116.71h0.9M104.6 115.98h0.9M106.39 115.29h0.9M110 116.46h0.9M105.93 115.77h0.9M153.94 91.89h0.9M152 89.13h0.9M150.79 91.12h0.9M150.78 89.32h0.9M149.77 89.73h0.9M151.57 89.85h0.9M151.58 93.29h0.9M154.21 89.46h0.9M152.06 90.59h0.9M151.34 91.54h0.9M151.05 90.17h0.9M150.99 90.4h0.9M153.48 91.28h0.9M149.54 90.06h0.9M150.35 91.32h0.9M151.89 91.39h0.9M151.46 88.59h0.9M152.23 90.73h0.9M157.93 104.68h0.9M157.58 94.36h0.9M154.66 95.18h0.9M157.93 97.45h0.9M156.61 154.37h0.9M153.82 102.14h0.9M157.39 126.51h0.9M154.69 97.45h0.9M151.87 120.13h0.9M151.72 92.21h0.9M155.85 100.29h0.9M156.88 95.97h0.9M157.64 92.11h0.9M152.86 106.19h0.9M151.74 96.07h0.9M157.21 107.58h0.9M153.45 93.16h0.9M154.09 109.12h0.9M154.16 92.75h0.9M157.08 102.79h0.9M158.86 130.37h0.9M158.81 99.07h0.9M161.33 66.89h0.9M160.24 69.19h0.9M163 64.95h0.9M160.2 68.13h0.9M160.42 69.08h0.9M161.76 68.85h0.9M161.49 80.32h0.9M162.26 73.14h0.9M161.71 62.94h0.9M159.95 79.25h0.9M161.65 58.62h0.9M160.5 72.44h0.9M96.68 111.13h0.9M98.02 102.93h0.9M98.73 100.22h0.9M98.04 106.49h0.9M99.08 105.16h0.9M98.86 109.38h0.9M100.38 89.74h0.9M99.63 105.39h0.9M97.88 91.73h0.9M97.64 105.9h0.9" stroke="#000" stroke-width="0.9" stroke-opacity="1" fill="none"/>
<path d="M226.6 37.7H277.7" stroke="#aaa" stroke-width="1.1" fill="none"/>
<path d="M226.6 101.4H277.7" stroke="#8a8a8a" stroke-width="1.0" fill="none"/>
<path d="M277.7 37.2V101.9" stroke="#555" stroke-width="0.9" fill="none"/>
<path d="M242.14 114.89h1M237.53 108.8h1M240.93 116.05h1M241.08 108.06h1M237.6 111.13h1M242.69 111.25h1M238.82 110.66h1M240.39 109.24h1M239.9 112.02h1M244.71 111.13h1M242.74 108.46h1M242.42 111.73h1M238.31 111.22h1M242.55 110.4h1M242.92 115.47h1M244.67 115.74h1M236.16 112.23h1M237.9 113.89h1M240.12 111.91h1M241.26 109.67h1M240.19 109.32h1M246.03 110.04h1M239.95 106.45h1M235.56 109h1M242.25 113.42h1M240.74 109.54h1M245.36 108.48h1M237.39 112.64h1M236.98 112.03h1M242.76 111.11h1M241.11 111.41h1M237.92 102.58h1M236.31 111.28h1M235.07 109.75h1M240.52 114.98h1M235.87 109.84h1M240.57 112.75h1M235.83 116.43h1M237.49 114.3h1M239.31 112.43h1M244.84 113.26h1M240.29 108.52h1M237.97 107.36h1M245.88 107h1M232.28 115.84h1M243.69 110.3h1M242.39 109.02h1M238.2 112.69h1M241.07 110.03h1M244.72 113.34h1M240.32 108.02h1M240.31 110.42h1M239.68 113.51h1M238.19 112.03h1M242.27 112.28h1M246.72 106.45h1M239.71 108h1M239.69 118.27h1M235.02 110.47h1M241.84 111.54h1M242.61 106.96h1M242.79 108.63h1M236.26 112.85h1M241.3 109.25h1M237.44 110.72h1M239.85 110.8h1M236.86 104.82h1M243.78 111.75h1M236.17 106.9h1M237.8 110.11h1M233.52 115.15h1M241.13 110.36h1M240.9 111.9h1M243.02 111.68h1M243.62 115.55h1M238.93 109.99h1M237.22 110.6h1M237.69 111.28h1M240.76 112.74h1M236.4 114.26h1M238.92 110.93h1M238.31 105.67h1M240.61 106.31h1M243.15 111.35h1M244.5 113.05h1M241.94 115.14h1M239.72 115.52h1M239.46 111.95h1M237.82 112.75h1M241.84 109.83h1M236.01 111.13h1M241.09 110.79h1M236.92 109.22h1M239.04 103.92h1M238.08 115.24h1M236 110.62h1M244.87 113.2h1M242.58 110.82h1M235.87 119.25h1M240.73 111.9h1M244.73 113.48h1M240 108.15h1M239.37 110.81h1M237.81 108.81h1M236.84 110.9h1M238.05 112.36h1M242.85 112.1h1M239.89 115.57h1M241.77 107.1h1M237.68 111.76h1M237.19 113.33h1M234.59 105.9h1M242.75 112.84h1M235.04 111.43h1M243.83 108.11h1M236.26 107.82h1M236.88 106.38h1M238.37 107.17h1M240 117.44h1M236.68 113.74h1M254.75 103.61h1M250.01 110.48h1M248.01 112.9h1M247.54 111.56h1M247.77 110.1h1M246 117.3h1M249.26 107.16h1M258.25 115.21h1M248.63 108.55h1M246.21 114.2h1M248.04 108.38h1M253.28 109.7h1M249.27 116.29h1M253.38 114.23h1M251.38 114.35h1M248.75 113.39h1M254.2 109.28h1M243.75 112.11h1M248.97 112.32h1M246.81 112.09h1M253.82 117.57h1M257.52 111.67h1M255.95 108.63h1M254.77 110.92h1M255.47 111.5h1M248.48 108.38h1M255.14 110.68h1M252.71 111.94h1M240.35 112.31h1M247.84 111.68h1M251.67 105.11h1M248.1 110.32h1M251.25 113.32h1M246.46 109.81h1M252.3 105.03h1M240.9 75.1h1M243.7 76.1h1M239.2 78.5h1M240.5 81.2h1M239.2 85.8h1M235.9 89.6h1M241.9 90.6h1M240.1 94h1M236.8 99.5h1M250.7 100.2h1M262.5 109.8h1M259 110.5h1" stroke="#000" stroke-width="1" stroke-opacity="1" fill="none"/>
<path d="M449.0 120.2h0.9M447.7 127.8h0.9M448.5 116.0h0.9M448.7 129.7h0.9M450.5 127.2h0.9M451.5 113.6h0.9M444.4 120.7h0.9M446.8 135.9h0.9M448.1 134.4h0.9M447.9 120.5h0.9M448.4 119.5h0.9M450.1 134.8h0.9M448.1 125.2h0.9M449.6 124.2h0.9M453.0 119.2h0.9M445.9 115.3h0.9M452.2 110.8h0.9M439.8 129.1h0.9M450.5 115.7h0.9M444.3 130.7h0.9M447.3 126.7h0.9M445.6 115.7h0.9M450.2 118.7h0.9M448.2 120.3h0.9M444.1 135.0h0.9M443.0 135.4h0.9M452.8 118.0h0.9M447.3 114.6h0.9M444.9 127.5h0.9M444.9 112.4h0.9M449.9 125.6h0.9M453.9 128.1h0.9M450.0 133.7h0.9M449.3 126.9h0.9M449.5 121.8h0.9M480.0 79.8h0.9M479.6 82.4h0.9M460.9 72.2h0.9M485.1 72.6h0.9M463.0 77.4h0.9M477.5 88.8h0.9M470.9 81.0h0.9M479.6 76.1h0.9M468.0 83.5h0.9M475.4 70.8h0.9M460.7 73.0h0.9M477.9 85.2h0.9M484.8 86.9h0.9M464.7 86.8h0.9M485.1 77.7h0.9M457.9 78.3h0.9M465.5 73.9h0.9M458.8 72.7h0.9M481.8 71.1h0.9M474.7 74.5h0.9M463.0 88.1h0.9M465.9 74.0h0.9M470.3 85.3h0.9M472.2 88.9h0.9M468.8 81.5h0.9M477.6 80.2h0.9M477.6 80.3h0.9M461.3 72.7h0.9M479.5 86.4h0.9M483.9 85.2h0.9M473.8 73.7h0.9M481.4 72.6h0.9M469.4 73.1h0.9M468.2 76.8h0.9M469.5 85.6h0.9M472.7 75.3h0.9M479.4 86.2h0.9M480.7 70.7h0.9M474.8 89.7h0.9M464.8 74.4h0.9M480.3 78.0h0.9M468.8 88.0h0.9M468.3 74.4h0.9M463.6 77.6h0.9M477.1 78.1h0.9" stroke="#c0c0c0" stroke-width="0.9" fill="none"/>
<path d="M501 41.5h1M473 47.5h1M458 48.5h1M469 48.5h1M481 48.5h1M450 49.5h1M490 49.5h1M458 51.5h1M479 51.5h1M486 51.5h1M491 51.5h1M453 52.5h1M464 52.5h1M447 53.5h1M452 53.5h2M462 53.5h1M464 53.5h1M470 53.5h1M474 53.5h1M476 53.5h1M483 53.5h1M443 54.5h1M445 54.5h1M448 54.5h1M451 54.5h1M453 54.5h2M457 54.5h1M459 54.5h1M464 54.5h1M468 54.5h1M470 54.5h2M477 54.5h1M479 54.5h2M484 54.5h2M439 55.5h2M444 55.5h1M446 55.5h3M450 55.5h4M455 55.5h5M461 55.5h2M465 55.5h2M468 55.5h1M470 55.5h15M496 55.5h1M438 56.5h1M440 56.5h47M489 56.5h1M491 56.5h2M439 57.5h53M437 58.5h1M439 58.5h51M436 59.5h12M449 59.5h8M458 59.5h32M491 59.5h1M495 59.5h1M432 60.5h2M435 60.5h55M491 60.5h2M433 61.5h61M496 61.5h1M433 62.5h10M444 62.5h24M469 62.5h28M429 63.5h1M431 63.5h2M434 63.5h50M485 63.5h10M432 64.5h2M435 64.5h6M442 64.5h5M448 64.5h36M485 64.5h10M496 64.5h1M434 65.5h8M443 65.5h32M476 65.5h22M431 66.5h1M433 66.5h62M496 66.5h2M435 67.5h9M445 67.5h49M495 67.5h1M497 67.5h2M434 68.5h64M499 68.5h1M434 69.5h3M438 69.5h28M467 69.5h31M499 69.5h1M501 69.5h1M433 70.5h1M435 70.5h1M437 70.5h23M461 70.5h8M470 70.5h24M495 70.5h3M427 71.5h2M430 71.5h2M434 71.5h1M436 71.5h6M443 71.5h2M446 71.5h7M454 71.5h7M462 71.5h2M465 71.5h15M481 71.5h12M494 71.5h3M498 71.5h3M423 72.5h1M428 72.5h1M438 72.5h25M465 72.5h19M485 72.5h2M488 72.5h8M497 72.5h1M415 73.5h1M434 73.5h1M437 73.5h25M464 73.5h32M438 74.5h3M442 74.5h16M461 74.5h1M464 74.5h2M467 74.5h4M472 74.5h24M498 74.5h2M435 75.5h1M439 75.5h1M441 75.5h17M459 75.5h3M464 75.5h1M466 75.5h2M469 75.5h28M498 75.5h1M501 75.5h1M437 76.5h1M441 76.5h1M443 76.5h15M461 76.5h1M465 76.5h5M471 76.5h2M474 76.5h23M498 76.5h1M423 77.5h1M437 77.5h1M439 77.5h2M443 77.5h11M457 77.5h1M460 77.5h2M465 77.5h1M467 77.5h2M470 77.5h1M473 77.5h24M498 77.5h3M436 78.5h1M441 78.5h1M443 78.5h1M445 78.5h10M468 78.5h1M471 78.5h3M476 78.5h9M486 78.5h12M438 79.5h1M441 79.5h1M443 79.5h13M468 79.5h1M472 79.5h1M474 79.5h1M476 79.5h19M496 79.5h1M498 79.5h1M437 80.5h1M440 80.5h1M442 80.5h1M444 80.5h11M458 80.5h1M473 80.5h1M476 80.5h1M478 80.5h17M442 81.5h14M457 81.5h1M460 81.5h1M471 81.5h1M478 81.5h8M487 81.5h2M490 81.5h6M438 82.5h1M440 82.5h1M444 82.5h11M468 82.5h1M474 82.5h2M477 82.5h3M481 82.5h14M443 83.5h10M454 83.5h2M458 83.5h1M463 83.5h2M475 83.5h1M477 83.5h2M481 83.5h4M486 83.5h10M440 84.5h1M443 84.5h11M456 84.5h3M476 84.5h1M479 84.5h1M481 84.5h1M483 84.5h11M441 85.5h3M445 85.5h8M454 85.5h5M460 85.5h1M476 85.5h1M484 85.5h8M497 85.5h1M441 86.5h2M444 86.5h10M455 86.5h1M457 86.5h1M481 86.5h1M484 86.5h2M488 86.5h3M492 86.5h1M439 87.5h1M441 87.5h7M449 87.5h7M458 87.5h1M478 87.5h1M481 87.5h1M487 87.5h1M490 87.5h2M493 87.5h2M443 88.5h11M456 88.5h1M459 88.5h1M471 88.5h1M490 88.5h1M493 88.5h1M438 89.5h1M441 89.5h1M443 89.5h13M486 89.5h1M489 89.5h1M440 90.5h15M437 91.5h1M441 91.5h1M443 91.5h14M470 91.5h1M440 92.5h15M457 92.5h1M439 93.5h16M456 93.5h2M460 93.5h1M440 94.5h1M442 94.5h13M456 94.5h2M459 94.5h1M426 95.5h1M434 95.5h1M440 95.5h16M458 95.5h1M441 96.5h15M457 96.5h1M439 97.5h1M443 97.5h13M458 97.5h1M427 98.5h1M441 98.5h6M448 98.5h3M452 98.5h4M427 99.5h1M440 99.5h1M442 99.5h15M458 99.5h1M439 100.5h1M441 100.5h16M441 101.5h1M443 101.5h13M439 102.5h18M440 103.5h1M443 103.5h14M438 104.5h1M440 104.5h1M443 104.5h13M457 104.5h1M439 105.5h1M443 105.5h7M451 105.5h6M459 105.5h1M441 106.5h1M443 106.5h3M447 106.5h9M457 106.5h1M443 107.5h1M445 107.5h9M455 107.5h2M458 107.5h1M460 107.5h1M441 108.5h1M443 108.5h14M440 109.5h2M444 109.5h10M443 110.5h1M445 110.5h5M451 110.5h2M444 111.5h3M448 111.5h4M446 112.5h1M449 112.5h3M456 112.5h2M442 113.5h1M446 113.5h1M448 113.5h2M447 114.5h1M450 117.5h1M439 119.5h1M445 134.5h1" stroke="#c6c6c6" stroke-width="1" fill="none"/>
<path d="M498.0 107.0h1M496.5 120.0h1M494.9 125.0h1M493.5 128.0h1M497.5 135.0h1M495.5 113.0h1M499.5 96.0h1" stroke="#b5b5b5" stroke-width="1" fill="none"/>
<rect x="490.0" y="85.4" width="21.6" height="58.5" fill="none" stroke="#666" stroke-width="0.8"/>
<path d="M490.3 88.2h1M492.5 89.7h1M489.8 90.8h1M491 87.2h1M493.3 94.6h1M492.5 102.3h1M490.7 97.5h1" stroke="#222" stroke-width="1" stroke-opacity="1" fill="none"/>
<line x1="54" y1="115.37" x2="55.9" y2="115.37" stroke="#000" stroke-width="0.95" />
<line x1="54" y1="116.82" x2="55.9" y2="116.82" stroke="#000" stroke-width="0.95" />
<line x1="54" y1="114.65" x2="55.9" y2="114.65" stroke="#000" stroke-width="0.95" />
<line x1="54" y1="117.53" x2="55.9" y2="117.53" stroke="#000" stroke-width="0.95" />
<line x1="54" y1="113.93" x2="55.9" y2="113.93" stroke="#000" stroke-width="0.95" />
<line x1="54" y1="118.23" x2="55.9" y2="118.23" stroke="#000" stroke-width="0.95" />
<line x1="54" y1="113.23" x2="55.9" y2="113.23" stroke="#000" stroke-width="0.95" />
<line x1="54" y1="118.92" x2="55.9" y2="118.92" stroke="#000" stroke-width="0.95" />
<line x1="54" y1="112.54" x2="55.9" y2="112.54" stroke="#000" stroke-width="0.95" />
<line x1="54" y1="119.6" x2="55.9" y2="119.6" stroke="#000" stroke-width="0.95" />
<line x1="54" y1="111.88" x2="55.9" y2="111.88" stroke="#000" stroke-width="0.95" />
<line x1="54" y1="120.25" x2="55.9" y2="120.25" stroke="#000" stroke-width="0.95" />
<line x1="54" y1="111.24" x2="55.9" y2="111.24" stroke="#000" stroke-width="0.95" />
<line x1="54" y1="120.88" x2="55.9" y2="120.88" stroke="#000" stroke-width="0.95" />
<line x1="54" y1="110.62" x2="55.9" y2="110.62" stroke="#000" stroke-width="0.95" />
<line x1="54" y1="121.49" x2="55.9" y2="121.49" stroke="#000" stroke-width="0.95" />
<line x1="54" y1="110.02" x2="55.9" y2="110.02" stroke="#000" stroke-width="0.95" />
<line x1="54" y1="122.08" x2="55.9" y2="122.08" stroke="#000" stroke-width="0.95" />
<line x1="54" y1="109.45" x2="55.9" y2="109.45" stroke="#000" stroke-width="0.95" />
<line x1="54" y1="122.64" x2="55.9" y2="122.64" stroke="#000" stroke-width="0.95" />
<line x1="54" y1="104.84" x2="55.9" y2="104.84" stroke="#000" stroke-width="0.95" />
<line x1="54" y1="127.17" x2="55.9" y2="127.17" stroke="#000" stroke-width="0.95" />
<line x1="54" y1="101.66" x2="55.9" y2="101.66" stroke="#000" stroke-width="0.95" />
<line x1="54" y1="130.31" x2="55.9" y2="130.31" stroke="#000" stroke-width="0.95" />
<line x1="54" y1="99.27" x2="55.9" y2="99.27" stroke="#000" stroke-width="0.95" />
<line x1="54" y1="132.65" x2="55.9" y2="132.65" stroke="#000" stroke-width="0.95" />
<line x1="54" y1="97.39" x2="55.9" y2="97.39" stroke="#000" stroke-width="0.95" />
<line x1="54" y1="134.51" x2="55.9" y2="134.51" stroke="#000" stroke-width="0.95" />
<line x1="54" y1="95.82" x2="55.9" y2="95.82" stroke="#000" stroke-width="0.95" />
<line x1="54" y1="136.05" x2="55.9" y2="136.05" stroke="#000" stroke-width="0.95" />
<line x1="54" y1="94.5" x2="55.9" y2="94.5" stroke="#000" stroke-width="0.95" />
<line x1="54" y1="137.36" x2="55.9" y2="137.36" stroke="#000" stroke-width="0.95" />
<line x1="54" y1="93.34" x2="55.9" y2="93.34" stroke="#000" stroke-width="0.95" />
<line x1="54" y1="138.49" x2="55.9" y2="138.49" stroke="#000" stroke-width="0.95" />
<line x1="54" y1="92.32" x2="55.9" y2="92.32" stroke="#000" stroke-width="0.95" />
<line x1="54" y1="139.5" x2="55.9" y2="139.5" stroke="#000" stroke-width="0.95" />
<line x1="53.1" y1="91.4" x2="55.9" y2="91.4" stroke="#000" stroke-width="0.95" />
<line x1="53.1" y1="140.4" x2="55.9" y2="140.4" stroke="#000" stroke-width="0.95" />
<line x1="54" y1="85.24" x2="55.9" y2="85.24" stroke="#000" stroke-width="0.95" />
<line x1="54" y1="146.36" x2="55.9" y2="146.36" stroke="#000" stroke-width="0.95" />
<line x1="54" y1="81.63" x2="55.9" y2="81.63" stroke="#000" stroke-width="0.95" />
<line x1="54" y1="79.07" x2="55.9" y2="79.07" stroke="#000" stroke-width="0.95" />
<line x1="54" y1="77.08" x2="55.9" y2="77.08" stroke="#000" stroke-width="0.95" />
<line x1="54" y1="75.45" x2="55.9" y2="75.45" stroke="#000" stroke-width="0.95" />
<line x1="54" y1="74.08" x2="55.9" y2="74.08" stroke="#000" stroke-width="0.95" />
<line x1="54" y1="72.89" x2="55.9" y2="72.89" stroke="#000" stroke-width="0.95" />
<line x1="54" y1="71.84" x2="55.9" y2="71.84" stroke="#000" stroke-width="0.95" />
<line x1="53.1" y1="70.9" x2="55.9" y2="70.9" stroke="#000" stroke-width="0.95" />
<line x1="54" y1="64.97" x2="55.9" y2="64.97" stroke="#000" stroke-width="0.95" />
<line x1="54" y1="61.5" x2="55.9" y2="61.5" stroke="#000" stroke-width="0.95" />
<line x1="54" y1="59.04" x2="55.9" y2="59.04" stroke="#000" stroke-width="0.95" />
<line x1="54" y1="57.13" x2="55.9" y2="57.13" stroke="#000" stroke-width="0.95" />
<line x1="54" y1="55.57" x2="55.9" y2="55.57" stroke="#000" stroke-width="0.95" />
<line x1="54" y1="54.25" x2="55.9" y2="54.25" stroke="#000" stroke-width="0.95" />
<line x1="54" y1="53.11" x2="55.9" y2="53.11" stroke="#000" stroke-width="0.95" />
<line x1="54" y1="52.1" x2="55.9" y2="52.1" stroke="#000" stroke-width="0.95" />
<line x1="53.1" y1="51.2" x2="55.9" y2="51.2" stroke="#000" stroke-width="0.95" />
<line x1="54" y1="45.33" x2="55.9" y2="45.33" stroke="#000" stroke-width="0.95" />
<line x1="54" y1="41.9" x2="55.9" y2="41.9" stroke="#000" stroke-width="0.95" />
<line x1="54" y1="39.46" x2="55.9" y2="39.46" stroke="#000" stroke-width="0.95" />
<line x1="54" y1="37.57" x2="55.9" y2="37.57" stroke="#000" stroke-width="0.95" />
<line x1="54" y1="36.03" x2="55.9" y2="36.03" stroke="#000" stroke-width="0.95" />
<line x1="54" y1="34.72" x2="55.9" y2="34.72" stroke="#000" stroke-width="0.95" />
<line x1="54" y1="33.59" x2="55.9" y2="33.59" stroke="#000" stroke-width="0.95" />
<line x1="54" y1="32.59" x2="55.9" y2="32.59" stroke="#000" stroke-width="0.95" />
<line x1="53.2" y1="31.7" x2="55.9" y2="31.7" stroke="#000" stroke-width="0.95" />
<line x1="53.2" y1="116.1" x2="55.9" y2="116.1" stroke="#000" stroke-width="0.95" />
<line x1="104.51" y1="148.3" x2="104.51" y2="150.2" stroke="#000" stroke-width="0.95" />
<line x1="103.89" y1="148.3" x2="103.89" y2="150.2" stroke="#000" stroke-width="0.95" />
<line x1="104.82" y1="148.3" x2="104.82" y2="150.2" stroke="#000" stroke-width="0.95" />
<line x1="103.59" y1="148.3" x2="103.59" y2="150.2" stroke="#000" stroke-width="0.95" />
<line x1="105.13" y1="148.3" x2="105.13" y2="150.2" stroke="#000" stroke-width="0.95" />
<line x1="103.28" y1="148.3" x2="103.28" y2="150.2" stroke="#000" stroke-width="0.95" />
<line x1="105.44" y1="148.3" x2="105.44" y2="150.2" stroke="#000" stroke-width="0.95" />
<line x1="102.98" y1="148.3" x2="102.98" y2="150.2" stroke="#000" stroke-width="0.95" />
<line x1="105.75" y1="148.3" x2="105.75" y2="150.2" stroke="#000" stroke-width="0.95" />
<line x1="102.67" y1="148.3" x2="102.67" y2="150.2" stroke="#000" stroke-width="0.95" />
<line x1="106.05" y1="148.3" x2="106.05" y2="150.2" stroke="#000" stroke-width="0.95" />
<line x1="102.37" y1="148.3" x2="102.37" y2="150.2" stroke="#000" stroke-width="0.95" />
<line x1="106.36" y1="148.3" x2="106.36" y2="150.2" stroke="#000" stroke-width="0.95" />
<line x1="102.07" y1="148.3" x2="102.07" y2="150.2" stroke="#000" stroke-width="0.95" />
<line x1="106.66" y1="148.3" x2="106.66" y2="150.2" stroke="#000" stroke-width="0.95" />
<line x1="101.77" y1="148.3" x2="101.77" y2="150.2" stroke="#000" stroke-width="0.95" />
<line x1="106.96" y1="148.3" x2="106.96" y2="150.2" stroke="#000" stroke-width="0.95" />
<line x1="101.48" y1="148.3" x2="101.48" y2="150.2" stroke="#000" stroke-width="0.95" />
<line x1="107.25" y1="148.3" x2="107.25" y2="150.2" stroke="#000" stroke-width="0.95" />
<line x1="101.19" y1="148.3" x2="101.19" y2="150.2" stroke="#000" stroke-width="0.95" />
<line x1="110" y1="148.3" x2="110" y2="150.2" stroke="#000" stroke-width="0.95" />
<line x1="98.47" y1="148.3" x2="98.47" y2="150.2" stroke="#000" stroke-width="0.95" />
<line x1="112.35" y1="148.3" x2="112.35" y2="150.2" stroke="#000" stroke-width="0.95" />
<line x1="96.16" y1="148.3" x2="96.16" y2="150.2" stroke="#000" stroke-width="0.95" />
<line x1="114.32" y1="148.3" x2="114.32" y2="150.2" stroke="#000" stroke-width="0.95" />
<line x1="94.21" y1="148.3" x2="94.21" y2="150.2" stroke="#000" stroke-width="0.95" />
<line x1="115.99" y1="148.3" x2="115.99" y2="150.2" stroke="#000" stroke-width="0.95" />
<line x1="92.56" y1="148.3" x2="92.56" y2="150.2" stroke="#000" stroke-width="0.95" />
<line x1="117.43" y1="148.3" x2="117.43" y2="150.2" stroke="#000" stroke-width="0.95" />
<line x1="91.15" y1="148.3" x2="91.15" y2="150.2" stroke="#000" stroke-width="0.95" />
<line x1="118.68" y1="148.3" x2="118.68" y2="150.2" stroke="#000" stroke-width="0.95" />
<line x1="89.91" y1="148.3" x2="89.91" y2="150.2" stroke="#000" stroke-width="0.95" />
<line x1="119.79" y1="148.3" x2="119.79" y2="150.2" stroke="#000" stroke-width="0.95" />
<line x1="88.81" y1="148.3" x2="88.81" y2="150.2" stroke="#000" stroke-width="0.95" />
<line x1="120.79" y1="148.3" x2="120.79" y2="150.2" stroke="#000" stroke-width="0.95" />
<line x1="87.83" y1="148.3" x2="87.83" y2="150.2" stroke="#000" stroke-width="0.95" />
<line x1="121.68" y1="148.3" x2="121.68" y2="150.2" stroke="#000" stroke-width="0.95" />
<line x1="86.95" y1="148.3" x2="86.95" y2="150.2" stroke="#000" stroke-width="0.95" />
<line x1="127.72" y1="148.3" x2="127.72" y2="150.2" stroke="#000" stroke-width="0.95" />
<line x1="80.99" y1="148.3" x2="80.99" y2="150.2" stroke="#000" stroke-width="0.95" />
<line x1="131.3" y1="148.3" x2="131.3" y2="150.2" stroke="#000" stroke-width="0.95" />
<line x1="77.45" y1="148.3" x2="77.45" y2="150.2" stroke="#000" stroke-width="0.95" />
<line x1="133.86" y1="148.3" x2="133.86" y2="150.2" stroke="#000" stroke-width="0.95" />
<line x1="74.94" y1="148.3" x2="74.94" y2="150.2" stroke="#000" stroke-width="0.95" />
<line x1="135.84" y1="148.3" x2="135.84" y2="150.2" stroke="#000" stroke-width="0.95" />
<line x1="72.98" y1="148.3" x2="72.98" y2="150.2" stroke="#000" stroke-width="0.95" />
<line x1="137.46" y1="148.3" x2="137.46" y2="150.2" stroke="#000" stroke-width="0.95" />
<line x1="71.38" y1="148.3" x2="71.38" y2="150.2" stroke="#000" stroke-width="0.95" />
<line x1="138.83" y1="148.3" x2="138.83" y2="150.2" stroke="#000" stroke-width="0.95" />
<line x1="70.03" y1="148.3" x2="70.03" y2="150.2" stroke="#000" stroke-width="0.95" />
<line x1="140.02" y1="148.3" x2="140.02" y2="150.2" stroke="#000" stroke-width="0.95" />
<line x1="68.86" y1="148.3" x2="68.86" y2="150.2" stroke="#000" stroke-width="0.95" />
<line x1="141.06" y1="148.3" x2="141.06" y2="150.2" stroke="#000" stroke-width="0.95" />
<line x1="67.82" y1="148.3" x2="67.82" y2="150.2" stroke="#000" stroke-width="0.95" />
<line x1="142" y1="148.3" x2="142" y2="151.1" stroke="#000" stroke-width="0.95" />
<line x1="66.9" y1="148.3" x2="66.9" y2="151.1" stroke="#000" stroke-width="0.95" />
<line x1="148.17" y1="148.3" x2="148.17" y2="150.2" stroke="#000" stroke-width="0.95" />
<line x1="60.81" y1="148.3" x2="60.81" y2="150.2" stroke="#000" stroke-width="0.95" />
<line x1="151.78" y1="148.3" x2="151.78" y2="150.2" stroke="#000" stroke-width="0.95" />
<line x1="57.25" y1="148.3" x2="57.25" y2="150.2" stroke="#000" stroke-width="0.95" />
<line x1="154.34" y1="148.3" x2="154.34" y2="150.2" stroke="#000" stroke-width="0.95" />
<line x1="156.33" y1="148.3" x2="156.33" y2="150.2" stroke="#000" stroke-width="0.95" />
<line x1="157.95" y1="148.3" x2="157.95" y2="150.2" stroke="#000" stroke-width="0.95" />
<line x1="159.32" y1="148.3" x2="159.32" y2="150.2" stroke="#000" stroke-width="0.95" />
<line x1="160.51" y1="148.3" x2="160.51" y2="150.2" stroke="#000" stroke-width="0.95" />
<line x1="161.56" y1="148.3" x2="161.56" y2="150.2" stroke="#000" stroke-width="0.95" />
<line x1="162.5" y1="148.3" x2="162.5" y2="151.1" stroke="#000" stroke-width="0.95" />
<line x1="168.67" y1="148.3" x2="168.67" y2="150.2" stroke="#000" stroke-width="0.95" />
<line x1="172.28" y1="148.3" x2="172.28" y2="150.2" stroke="#000" stroke-width="0.95" />
<line x1="104.2" y1="148.3" x2="104.2" y2="151" stroke="#000" stroke-width="0.95" />
<rect x="55.9" y="31.3" width="116.9" height="117" fill="none" stroke="#000" stroke-width="1.3" />
<text transform="translate(36.06 35.7) scale(1 1)" font-size="8.6">10<tspan font-size="6.6" dy="-3.4">6</tspan></text>
<text transform="translate(36.06 55.2) scale(1 1)" font-size="8.6">10<tspan font-size="6.6" dy="-3.4">5</tspan></text>
<text transform="translate(36.06 74.9) scale(1 1)" font-size="8.6">10<tspan font-size="6.6" dy="-3.4">4</tspan></text>
<text transform="translate(36.06 95.4) scale(1 1)" font-size="8.6">10<tspan font-size="6.6" dy="-3.4">3</tspan></text>
<text transform="translate(44.52 119.1) scale(1 1)" font-size="8.6">0</text>
<text transform="translate(33.2 144.4) scale(1 1)" font-size="8.6">-10<tspan font-size="6.6" dy="-3.4">3</tspan></text>
<text transform="translate(58.85 162.2) scale(1 1)" font-size="8.6">-10<tspan font-size="6.6" dy="-3.4">4</tspan></text>
<text transform="translate(101.81 162.2) scale(1 1)" font-size="8.6">0</text>
<text transform="translate(135.38 162.2) scale(1 1)" font-size="8.6">10<tspan font-size="6.6" dy="-3.4">4</tspan></text>
<text transform="translate(155.88 162.2) scale(1 1)" font-size="8.6">10<tspan font-size="6.6" dy="-3.4">5</tspan></text>
<text x="85.1" y="176.6" font-size="10" text-anchor="start" fill="#000" textLength="58.8" lengthAdjust="spacingAndGlyphs" stroke="#000" stroke-width="0.25">CD34 PerCP-Cv5.5</text>
<text transform="translate(28.6 112.2) rotate(-90)" font-size="10" textLength="44.6" lengthAdjust="spacingAndGlyphs" stroke="#000" stroke-width="0.25">CD38 APC-H7</text>
<line x1="223.9" y1="115.1" x2="225.8" y2="115.1" stroke="#000" stroke-width="0.95" />
<line x1="223.9" y1="116.96" x2="225.8" y2="116.96" stroke="#000" stroke-width="0.95" />
<line x1="223.9" y1="114.2" x2="225.8" y2="114.2" stroke="#000" stroke-width="0.95" />
<line x1="223.9" y1="117.91" x2="225.8" y2="117.91" stroke="#000" stroke-width="0.95" />
<line x1="223.9" y1="113.33" x2="225.8" y2="113.33" stroke="#000" stroke-width="0.95" />
<line x1="223.9" y1="118.84" x2="225.8" y2="118.84" stroke="#000" stroke-width="0.95" />
<line x1="223.9" y1="112.47" x2="225.8" y2="112.47" stroke="#000" stroke-width="0.95" />
<line x1="223.9" y1="119.75" x2="225.8" y2="119.75" stroke="#000" stroke-width="0.95" />
<line x1="223.9" y1="111.65" x2="225.8" y2="111.65" stroke="#000" stroke-width="0.95" />
<line x1="223.9" y1="120.62" x2="225.8" y2="120.62" stroke="#000" stroke-width="0.95" />
<line x1="223.9" y1="110.86" x2="225.8" y2="110.86" stroke="#000" stroke-width="0.95" />
<line x1="223.9" y1="121.46" x2="225.8" y2="121.46" stroke="#000" stroke-width="0.95" />
<line x1="223.9" y1="110.1" x2="225.8" y2="110.1" stroke="#000" stroke-width="0.95" />
<line x1="223.9" y1="122.27" x2="225.8" y2="122.27" stroke="#000" stroke-width="0.95" />
<line x1="223.9" y1="109.38" x2="225.8" y2="109.38" stroke="#000" stroke-width="0.95" />
<line x1="223.9" y1="123.04" x2="225.8" y2="123.04" stroke="#000" stroke-width="0.95" />
<line x1="223.9" y1="108.69" x2="225.8" y2="108.69" stroke="#000" stroke-width="0.95" />
<line x1="223.9" y1="123.77" x2="225.8" y2="123.77" stroke="#000" stroke-width="0.95" />
<line x1="223.9" y1="108.03" x2="225.8" y2="108.03" stroke="#000" stroke-width="0.95" />
<line x1="223.9" y1="124.47" x2="225.8" y2="124.47" stroke="#000" stroke-width="0.95" />
<line x1="223.9" y1="102.95" x2="225.8" y2="102.95" stroke="#000" stroke-width="0.95" />
<line x1="223.9" y1="129.87" x2="225.8" y2="129.87" stroke="#000" stroke-width="0.95" />
<line x1="223.9" y1="99.56" x2="225.8" y2="99.56" stroke="#000" stroke-width="0.95" />
<line x1="223.9" y1="133.47" x2="225.8" y2="133.47" stroke="#000" stroke-width="0.95" />
<line x1="223.9" y1="97.07" x2="225.8" y2="97.07" stroke="#000" stroke-width="0.95" />
<line x1="223.9" y1="136.12" x2="225.8" y2="136.12" stroke="#000" stroke-width="0.95" />
<line x1="223.9" y1="95.1" x2="225.8" y2="95.1" stroke="#000" stroke-width="0.95" />
<line x1="223.9" y1="138.21" x2="225.8" y2="138.21" stroke="#000" stroke-width="0.95" />
<line x1="223.9" y1="93.48" x2="225.8" y2="93.48" stroke="#000" stroke-width="0.95" />
<line x1="223.9" y1="139.94" x2="225.8" y2="139.94" stroke="#000" stroke-width="0.95" />
<line x1="223.9" y1="92.1" x2="225.8" y2="92.1" stroke="#000" stroke-width="0.95" />
<line x1="223.9" y1="141.4" x2="225.8" y2="141.4" stroke="#000" stroke-width="0.95" />
<line x1="223.9" y1="90.9" x2="225.8" y2="90.9" stroke="#000" stroke-width="0.95" />
<line x1="223.9" y1="142.67" x2="225.8" y2="142.67" stroke="#000" stroke-width="0.95" />
<line x1="223.9" y1="89.85" x2="225.8" y2="89.85" stroke="#000" stroke-width="0.95" />
<line x1="223.9" y1="143.79" x2="225.8" y2="143.79" stroke="#000" stroke-width="0.95" />
<line x1="223" y1="88.9" x2="225.8" y2="88.9" stroke="#000" stroke-width="0.95" />
<line x1="223" y1="144.8" x2="225.8" y2="144.8" stroke="#000" stroke-width="0.95" />
<line x1="223.9" y1="81.69" x2="225.8" y2="81.69" stroke="#000" stroke-width="0.95" />
<line x1="223.9" y1="77.46" x2="225.8" y2="77.46" stroke="#000" stroke-width="0.95" />
<line x1="223.9" y1="74.46" x2="225.8" y2="74.46" stroke="#000" stroke-width="0.95" />
<line x1="223.9" y1="72.13" x2="225.8" y2="72.13" stroke="#000" stroke-width="0.95" />
<line x1="223.9" y1="70.23" x2="225.8" y2="70.23" stroke="#000" stroke-width="0.95" />
<line x1="223.9" y1="68.62" x2="225.8" y2="68.62" stroke="#000" stroke-width="0.95" />
<line x1="223.9" y1="67.23" x2="225.8" y2="67.23" stroke="#000" stroke-width="0.95" />
<line x1="223.9" y1="66" x2="225.8" y2="66" stroke="#000" stroke-width="0.95" />
<line x1="223" y1="64.9" x2="225.8" y2="64.9" stroke="#000" stroke-width="0.95" />
<line x1="223.9" y1="58.55" x2="225.8" y2="58.55" stroke="#000" stroke-width="0.95" />
<line x1="223.9" y1="54.83" x2="225.8" y2="54.83" stroke="#000" stroke-width="0.95" />
<line x1="223.9" y1="52.2" x2="225.8" y2="52.2" stroke="#000" stroke-width="0.95" />
<line x1="223.9" y1="50.15" x2="225.8" y2="50.15" stroke="#000" stroke-width="0.95" />
<line x1="223.9" y1="48.48" x2="225.8" y2="48.48" stroke="#000" stroke-width="0.95" />
<line x1="223.9" y1="47.07" x2="225.8" y2="47.07" stroke="#000" stroke-width="0.95" />
<line x1="223.9" y1="45.84" x2="225.8" y2="45.84" stroke="#000" stroke-width="0.95" />
<line x1="223.9" y1="44.77" x2="225.8" y2="44.77" stroke="#000" stroke-width="0.95" />
<line x1="223.1" y1="43.8" x2="225.8" y2="43.8" stroke="#000" stroke-width="0.95" />
<line x1="223.1" y1="116" x2="225.8" y2="116" stroke="#000" stroke-width="0.95" />
<line x1="225.5" y1="148.3" x2="225.5" y2="151.3" stroke="#000" stroke-width="0.95" />
<line x1="231.04" y1="148.3" x2="231.04" y2="149.9" stroke="#000" stroke-width="0.95" />
<line x1="236.57" y1="148.3" x2="236.57" y2="149.9" stroke="#000" stroke-width="0.95" />
<line x1="242.11" y1="148.3" x2="242.11" y2="149.9" stroke="#000" stroke-width="0.95" />
<line x1="247.65" y1="148.3" x2="247.65" y2="151.3" stroke="#000" stroke-width="0.95" />
<line x1="253.19" y1="148.3" x2="253.19" y2="149.9" stroke="#000" stroke-width="0.95" />
<line x1="258.73" y1="148.3" x2="258.73" y2="149.9" stroke="#000" stroke-width="0.95" />
<line x1="264.26" y1="148.3" x2="264.26" y2="149.9" stroke="#000" stroke-width="0.95" />
<line x1="269.8" y1="148.3" x2="269.8" y2="151.3" stroke="#000" stroke-width="0.95" />
<line x1="275.34" y1="148.3" x2="275.34" y2="149.9" stroke="#000" stroke-width="0.95" />
<line x1="280.88" y1="148.3" x2="280.88" y2="149.9" stroke="#000" stroke-width="0.95" />
<line x1="286.41" y1="148.3" x2="286.41" y2="149.9" stroke="#000" stroke-width="0.95" />
<line x1="291.95" y1="148.3" x2="291.95" y2="151.3" stroke="#000" stroke-width="0.95" />
<line x1="297.49" y1="148.3" x2="297.49" y2="149.9" stroke="#000" stroke-width="0.95" />
<line x1="303.02" y1="148.3" x2="303.02" y2="149.9" stroke="#000" stroke-width="0.95" />
<line x1="308.56" y1="148.3" x2="308.56" y2="149.9" stroke="#000" stroke-width="0.95" />
<line x1="314.1" y1="148.3" x2="314.1" y2="151.3" stroke="#000" stroke-width="0.95" />
<line x1="319.64" y1="148.3" x2="319.64" y2="149.9" stroke="#000" stroke-width="0.95" />
<line x1="325.18" y1="148.3" x2="325.18" y2="149.9" stroke="#000" stroke-width="0.95" />
<line x1="330.71" y1="148.3" x2="330.71" y2="149.9" stroke="#000" stroke-width="0.95" />
<line x1="336.25" y1="148.3" x2="336.25" y2="151.3" stroke="#000" stroke-width="0.95" />
<rect x="225.8" y="31.3" width="116.8" height="117" fill="none" stroke="#000" stroke-width="1.3" />
<text transform="translate(205.96 47.8) scale(1 1)" font-size="8.6">10<tspan font-size="6.6" dy="-3.4">6</tspan></text>
<text transform="translate(205.96 68.9) scale(1 1)" font-size="8.6">10<tspan font-size="6.6" dy="-3.4">5</tspan></text>
<text transform="translate(205.96 92.9) scale(1 1)" font-size="8.6">10<tspan font-size="6.6" dy="-3.4">4</tspan></text>
<text transform="translate(214.42 119) scale(1 1)" font-size="8.6">0</text>
<text transform="translate(203.1 148.8) scale(1 1)" font-size="8.6">-10<tspan font-size="6.6" dy="-3.4">4</tspan></text>
<text transform="translate(230.2 158) rotate(-45)" font-size="9.2" text-anchor="end">0</text>
<text transform="translate(252.35 158) rotate(-45)" font-size="9.2" text-anchor="end">200K</text>
<text transform="translate(274.5 158) rotate(-45)" font-size="9.2" text-anchor="end">400K</text>
<text transform="translate(296.65 158) rotate(-45)" font-size="9.2" text-anchor="end">600K</text>
<text transform="translate(318.8 158) rotate(-45)" font-size="9.2" text-anchor="end">800K</text>
<text transform="translate(340.95 158) rotate(-45)" font-size="9.2" text-anchor="end">1.0M</text>
<text x="273.8" y="186.8" font-size="10.3" text-anchor="start" fill="#000" textLength="20.8" lengthAdjust="spacingAndGlyphs" stroke="#000" stroke-width="0.25">SSC-A</text>
<text transform="translate(198.4 104.1) rotate(-90)" font-size="10" textLength="28.9" lengthAdjust="spacingAndGlyphs" stroke="#000" stroke-width="0.25">CD7 APC</text>
<line x1="393.4" y1="115.37" x2="395.3" y2="115.37" stroke="#000" stroke-width="0.95" />
<line x1="393.4" y1="116.82" x2="395.3" y2="116.82" stroke="#000" stroke-width="0.95" />
<line x1="393.4" y1="114.65" x2="395.3" y2="114.65" stroke="#000" stroke-width="0.95" />
<line x1="393.4" y1="117.53" x2="395.3" y2="117.53" stroke="#000" stroke-width="0.95" />
<line x1="393.4" y1="113.93" x2="395.3" y2="113.93" stroke="#000" stroke-width="0.95" />
<line x1="393.4" y1="118.23" x2="395.3" y2="118.23" stroke="#000" stroke-width="0.95" />
<line x1="393.4" y1="113.23" x2="395.3" y2="113.23" stroke="#000" stroke-width="0.95" />
<line x1="393.4" y1="118.92" x2="395.3" y2="118.92" stroke="#000" stroke-width="0.95" />
<line x1="393.4" y1="112.54" x2="395.3" y2="112.54" stroke="#000" stroke-width="0.95" />
<line x1="393.4" y1="119.6" x2="395.3" y2="119.6" stroke="#000" stroke-width="0.95" />
<line x1="393.4" y1="111.88" x2="395.3" y2="111.88" stroke="#000" stroke-width="0.95" />
<line x1="393.4" y1="120.25" x2="395.3" y2="120.25" stroke="#000" stroke-width="0.95" />
<line x1="393.4" y1="111.24" x2="395.3" y2="111.24" stroke="#000" stroke-width="0.95" />
<line x1="393.4" y1="120.88" x2="395.3" y2="120.88" stroke="#000" stroke-width="0.95" />
<line x1="393.4" y1="110.62" x2="395.3" y2="110.62" stroke="#000" stroke-width="0.95" />
<line x1="393.4" y1="121.49" x2="395.3" y2="121.49" stroke="#000" stroke-width="0.95" />
<line x1="393.4" y1="110.02" x2="395.3" y2="110.02" stroke="#000" stroke-width="0.95" />
<line x1="393.4" y1="122.08" x2="395.3" y2="122.08" stroke="#000" stroke-width="0.95" />
<line x1="393.4" y1="109.45" x2="395.3" y2="109.45" stroke="#000" stroke-width="0.95" />
<line x1="393.4" y1="122.64" x2="395.3" y2="122.64" stroke="#000" stroke-width="0.95" />
<line x1="393.4" y1="104.84" x2="395.3" y2="104.84" stroke="#000" stroke-width="0.95" />
<line x1="393.4" y1="127.17" x2="395.3" y2="127.17" stroke="#000" stroke-width="0.95" />
<line x1="393.4" y1="101.66" x2="395.3" y2="101.66" stroke="#000" stroke-width="0.95" />
<line x1="393.4" y1="130.31" x2="395.3" y2="130.31" stroke="#000" stroke-width="0.95" />
<line x1="393.4" y1="99.27" x2="395.3" y2="99.27" stroke="#000" stroke-width="0.95" />
<line x1="393.4" y1="132.65" x2="395.3" y2="132.65" stroke="#000" stroke-width="0.95" />
<line x1="393.4" y1="97.39" x2="395.3" y2="97.39" stroke="#000" stroke-width="0.95" />
<line x1="393.4" y1="134.51" x2="395.3" y2="134.51" stroke="#000" stroke-width="0.95" />
<line x1="393.4" y1="95.82" x2="395.3" y2="95.82" stroke="#000" stroke-width="0.95" />
<line x1="393.4" y1="136.05" x2="395.3" y2="136.05" stroke="#000" stroke-width="0.95" />
<line x1="393.4" y1="94.5" x2="395.3" y2="94.5" stroke="#000" stroke-width="0.95" />
<line x1="393.4" y1="137.36" x2="395.3" y2="137.36" stroke="#000" stroke-width="0.95" />
<line x1="393.4" y1="93.34" x2="395.3" y2="93.34" stroke="#000" stroke-width="0.95" />
<line x1="393.4" y1="138.49" x2="395.3" y2="138.49" stroke="#000" stroke-width="0.95" />
<line x1="393.4" y1="92.32" x2="395.3" y2="92.32" stroke="#000" stroke-width="0.95" />
<line x1="393.4" y1="139.5" x2="395.3" y2="139.5" stroke="#000" stroke-width="0.95" />
<line x1="392.5" y1="91.4" x2="395.3" y2="91.4" stroke="#000" stroke-width="0.95" />
<line x1="392.5" y1="140.4" x2="395.3" y2="140.4" stroke="#000" stroke-width="0.95" />
<line x1="393.4" y1="85.24" x2="395.3" y2="85.24" stroke="#000" stroke-width="0.95" />
<line x1="393.4" y1="146.36" x2="395.3" y2="146.36" stroke="#000" stroke-width="0.95" />
<line x1="393.4" y1="81.63" x2="395.3" y2="81.63" stroke="#000" stroke-width="0.95" />
<line x1="393.4" y1="79.07" x2="395.3" y2="79.07" stroke="#000" stroke-width="0.95" />
<line x1="393.4" y1="77.08" x2="395.3" y2="77.08" stroke="#000" stroke-width="0.95" />
<line x1="393.4" y1="75.45" x2="395.3" y2="75.45" stroke="#000" stroke-width="0.95" />
<line x1="393.4" y1="74.08" x2="395.3" y2="74.08" stroke="#000" stroke-width="0.95" />
<line x1="393.4" y1="72.89" x2="395.3" y2="72.89" stroke="#000" stroke-width="0.95" />
<line x1="393.4" y1="71.84" x2="395.3" y2="71.84" stroke="#000" stroke-width="0.95" />
<line x1="392.5" y1="70.9" x2="395.3" y2="70.9" stroke="#000" stroke-width="0.95" />
<line x1="393.4" y1="64.97" x2="395.3" y2="64.97" stroke="#000" stroke-width="0.95" />
<line x1="393.4" y1="61.5" x2="395.3" y2="61.5" stroke="#000" stroke-width="0.95" />
<line x1="393.4" y1="59.04" x2="395.3" y2="59.04" stroke="#000" stroke-width="0.95" />
<line x1="393.4" y1="57.13" x2="395.3" y2="57.13" stroke="#000" stroke-width="0.95" />
<line x1="393.4" y1="55.57" x2="395.3" y2="55.57" stroke="#000" stroke-width="0.95" />
<line x1="393.4" y1="54.25" x2="395.3" y2="54.25" stroke="#000" stroke-width="0.95" />
<line x1="393.4" y1="53.11" x2="395.3" y2="53.11" stroke="#000" stroke-width="0.95" />
<line x1="393.4" y1="52.1" x2="395.3" y2="52.1" stroke="#000" stroke-width="0.95" />
<line x1="392.5" y1="51.2" x2="395.3" y2="51.2" stroke="#000" stroke-width="0.95" />
<line x1="393.4" y1="45.33" x2="395.3" y2="45.33" stroke="#000" stroke-width="0.95" />
<line x1="393.4" y1="41.9" x2="395.3" y2="41.9" stroke="#000" stroke-width="0.95" />
<line x1="393.4" y1="39.46" x2="395.3" y2="39.46" stroke="#000" stroke-width="0.95" />
<line x1="393.4" y1="37.57" x2="395.3" y2="37.57" stroke="#000" stroke-width="0.95" />
<line x1="393.4" y1="36.03" x2="395.3" y2="36.03" stroke="#000" stroke-width="0.95" />
<line x1="393.4" y1="34.72" x2="395.3" y2="34.72" stroke="#000" stroke-width="0.95" />
<line x1="393.4" y1="33.59" x2="395.3" y2="33.59" stroke="#000" stroke-width="0.95" />
<line x1="393.4" y1="32.59" x2="395.3" y2="32.59" stroke="#000" stroke-width="0.95" />
<line x1="392.6" y1="31.7" x2="395.3" y2="31.7" stroke="#000" stroke-width="0.95" />
<line x1="392.6" y1="116.1" x2="395.3" y2="116.1" stroke="#000" stroke-width="0.95" />
<line x1="443.91" y1="148.3" x2="443.91" y2="150.2" stroke="#000" stroke-width="0.95" />
<line x1="443.29" y1="148.3" x2="443.29" y2="150.2" stroke="#000" stroke-width="0.95" />
<line x1="444.22" y1="148.3" x2="444.22" y2="150.2" stroke="#000" stroke-width="0.95" />
<line x1="442.99" y1="148.3" x2="442.99" y2="150.2" stroke="#000" stroke-width="0.95" />
<line x1="444.53" y1="148.3" x2="444.53" y2="150.2" stroke="#000" stroke-width="0.95" />
<line x1="442.68" y1="148.3" x2="442.68" y2="150.2" stroke="#000" stroke-width="0.95" />
<line x1="444.84" y1="148.3" x2="444.84" y2="150.2" stroke="#000" stroke-width="0.95" />
<line x1="442.38" y1="148.3" x2="442.38" y2="150.2" stroke="#000" stroke-width="0.95" />
<line x1="445.15" y1="148.3" x2="445.15" y2="150.2" stroke="#000" stroke-width="0.95" />
<line x1="442.07" y1="148.3" x2="442.07" y2="150.2" stroke="#000" stroke-width="0.95" />
<line x1="445.45" y1="148.3" x2="445.45" y2="150.2" stroke="#000" stroke-width="0.95" />
<line x1="441.77" y1="148.3" x2="441.77" y2="150.2" stroke="#000" stroke-width="0.95" />
<line x1="445.76" y1="148.3" x2="445.76" y2="150.2" stroke="#000" stroke-width="0.95" />
<line x1="441.47" y1="148.3" x2="441.47" y2="150.2" stroke="#000" stroke-width="0.95" />
<line x1="446.06" y1="148.3" x2="446.06" y2="150.2" stroke="#000" stroke-width="0.95" />
<line x1="441.17" y1="148.3" x2="441.17" y2="150.2" stroke="#000" stroke-width="0.95" />
<line x1="446.36" y1="148.3" x2="446.36" y2="150.2" stroke="#000" stroke-width="0.95" />
<line x1="440.88" y1="148.3" x2="440.88" y2="150.2" stroke="#000" stroke-width="0.95" />
<line x1="446.65" y1="148.3" x2="446.65" y2="150.2" stroke="#000" stroke-width="0.95" />
<line x1="440.59" y1="148.3" x2="440.59" y2="150.2" stroke="#000" stroke-width="0.95" />
<line x1="449.4" y1="148.3" x2="449.4" y2="150.2" stroke="#000" stroke-width="0.95" />
<line x1="437.87" y1="148.3" x2="437.87" y2="150.2" stroke="#000" stroke-width="0.95" />
<line x1="451.75" y1="148.3" x2="451.75" y2="150.2" stroke="#000" stroke-width="0.95" />
<line x1="435.56" y1="148.3" x2="435.56" y2="150.2" stroke="#000" stroke-width="0.95" />
<line x1="453.72" y1="148.3" x2="453.72" y2="150.2" stroke="#000" stroke-width="0.95" />
<line x1="433.61" y1="148.3" x2="433.61" y2="150.2" stroke="#000" stroke-width="0.95" />
<line x1="455.39" y1="148.3" x2="455.39" y2="150.2" stroke="#000" stroke-width="0.95" />
<line x1="431.96" y1="148.3" x2="431.96" y2="150.2" stroke="#000" stroke-width="0.95" />
<line x1="456.83" y1="148.3" x2="456.83" y2="150.2" stroke="#000" stroke-width="0.95" />
<line x1="430.55" y1="148.3" x2="430.55" y2="150.2" stroke="#000" stroke-width="0.95" />
<line x1="458.08" y1="148.3" x2="458.08" y2="150.2" stroke="#000" stroke-width="0.95" />
<line x1="429.31" y1="148.3" x2="429.31" y2="150.2" stroke="#000" stroke-width="0.95" />
<line x1="459.19" y1="148.3" x2="459.19" y2="150.2" stroke="#000" stroke-width="0.95" />
<line x1="428.21" y1="148.3" x2="428.21" y2="150.2" stroke="#000" stroke-width="0.95" />
<line x1="460.19" y1="148.3" x2="460.19" y2="150.2" stroke="#000" stroke-width="0.95" />
<line x1="427.23" y1="148.3" x2="427.23" y2="150.2" stroke="#000" stroke-width="0.95" />
<line x1="461.08" y1="148.3" x2="461.08" y2="150.2" stroke="#000" stroke-width="0.95" />
<line x1="426.35" y1="148.3" x2="426.35" y2="150.2" stroke="#000" stroke-width="0.95" />
<line x1="467.12" y1="148.3" x2="467.12" y2="150.2" stroke="#000" stroke-width="0.95" />
<line x1="420.39" y1="148.3" x2="420.39" y2="150.2" stroke="#000" stroke-width="0.95" />
<line x1="470.7" y1="148.3" x2="470.7" y2="150.2" stroke="#000" stroke-width="0.95" />
<line x1="416.85" y1="148.3" x2="416.85" y2="150.2" stroke="#000" stroke-width="0.95" />
<line x1="473.26" y1="148.3" x2="473.26" y2="150.2" stroke="#000" stroke-width="0.95" />
<line x1="414.34" y1="148.3" x2="414.34" y2="150.2" stroke="#000" stroke-width="0.95" />
<line x1="475.24" y1="148.3" x2="475.24" y2="150.2" stroke="#000" stroke-width="0.95" />
<line x1="412.38" y1="148.3" x2="412.38" y2="150.2" stroke="#000" stroke-width="0.95" />
<line x1="476.86" y1="148.3" x2="476.86" y2="150.2" stroke="#000" stroke-width="0.95" />
<line x1="410.78" y1="148.3" x2="410.78" y2="150.2" stroke="#000" stroke-width="0.95" />
<line x1="478.23" y1="148.3" x2="478.23" y2="150.2" stroke="#000" stroke-width="0.95" />
<line x1="409.43" y1="148.3" x2="409.43" y2="150.2" stroke="#000" stroke-width="0.95" />
<line x1="479.42" y1="148.3" x2="479.42" y2="150.2" stroke="#000" stroke-width="0.95" />
<line x1="408.26" y1="148.3" x2="408.26" y2="150.2" stroke="#000" stroke-width="0.95" />
<line x1="480.46" y1="148.3" x2="480.46" y2="150.2" stroke="#000" stroke-width="0.95" />
<line x1="407.22" y1="148.3" x2="407.22" y2="150.2" stroke="#000" stroke-width="0.95" />
<line x1="481.4" y1="148.3" x2="481.4" y2="151.1" stroke="#000" stroke-width="0.95" />
<line x1="406.3" y1="148.3" x2="406.3" y2="151.1" stroke="#000" stroke-width="0.95" />
<line x1="487.57" y1="148.3" x2="487.57" y2="150.2" stroke="#000" stroke-width="0.95" />
<line x1="400.21" y1="148.3" x2="400.21" y2="150.2" stroke="#000" stroke-width="0.95" />
<line x1="491.18" y1="148.3" x2="491.18" y2="150.2" stroke="#000" stroke-width="0.95" />
<line x1="396.65" y1="148.3" x2="396.65" y2="150.2" stroke="#000" stroke-width="0.95" />
<line x1="493.74" y1="148.3" x2="493.74" y2="150.2" stroke="#000" stroke-width="0.95" />
<line x1="495.73" y1="148.3" x2="495.73" y2="150.2" stroke="#000" stroke-width="0.95" />
<line x1="497.35" y1="148.3" x2="497.35" y2="150.2" stroke="#000" stroke-width="0.95" />
<line x1="498.72" y1="148.3" x2="498.72" y2="150.2" stroke="#000" stroke-width="0.95" />
<line x1="499.91" y1="148.3" x2="499.91" y2="150.2" stroke="#000" stroke-width="0.95" />
<line x1="500.96" y1="148.3" x2="500.96" y2="150.2" stroke="#000" stroke-width="0.95" />
<line x1="501.9" y1="148.3" x2="501.9" y2="151.1" stroke="#000" stroke-width="0.95" />
<line x1="508.07" y1="148.3" x2="508.07" y2="150.2" stroke="#000" stroke-width="0.95" />
<line x1="511.68" y1="148.3" x2="511.68" y2="150.2" stroke="#000" stroke-width="0.95" />
<line x1="443.6" y1="148.3" x2="443.6" y2="151" stroke="#000" stroke-width="0.95" />
<rect x="395.3" y="31.3" width="116.9" height="117" fill="none" stroke="#000" stroke-width="1.3" />
<text transform="translate(375.46 35.7) scale(1 1)" font-size="8.6">10<tspan font-size="6.6" dy="-3.4">6</tspan></text>
<text transform="translate(375.46 55.2) scale(1 1)" font-size="8.6">10<tspan font-size="6.6" dy="-3.4">5</tspan></text>
<text transform="translate(375.46 74.9) scale(1 1)" font-size="8.6">10<tspan font-size="6.6" dy="-3.4">4</tspan></text>
<text transform="translate(375.46 95.4) scale(1 1)" font-size="8.6">10<tspan font-size="6.6" dy="-3.4">3</tspan></text>
<text transform="translate(383.92 119.1) scale(1 1)" font-size="8.6">0</text>
<text transform="translate(372.6 144.4) scale(1 1)" font-size="8.6">-10<tspan font-size="6.6" dy="-3.4">3</tspan></text>
<text transform="translate(398.25 162.2) scale(1 1)" font-size="8.6">-10<tspan font-size="6.6" dy="-3.4">4</tspan></text>
<text transform="translate(441.21 162.2) scale(1 1)" font-size="8.6">0</text>
<text transform="translate(474.78 162.2) scale(1 1)" font-size="8.6">10<tspan font-size="6.6" dy="-3.4">4</tspan></text>
<text transform="translate(495.28 162.2) scale(1 1)" font-size="8.6">10<tspan font-size="6.6" dy="-3.4">5</tspan></text>
<text x="424.5" y="176.6" font-size="10" text-anchor="start" fill="#000" textLength="58.8" lengthAdjust="spacingAndGlyphs" stroke="#000" stroke-width="0.25">CD34 PerCP-Cv5.5</text>
<text transform="translate(368 112.2) rotate(-90)" font-size="10" textLength="44.6" lengthAdjust="spacingAndGlyphs" stroke="#000" stroke-width="0.25">CD38 APC-H7</text>
<text x="228.8" y="26.8" font-size="8.6" text-anchor="start" fill="#000" textLength="55.4" lengthAdjust="spacingAndGlyphs" >CD34+CD38-</text>
<text x="396.8" y="25.8" font-size="8.6" text-anchor="start" fill="#000" textLength="76.9" lengthAdjust="spacingAndGlyphs" >Backgating of CD7+</text>
<text x="94.8" y="142.5" font-size="8.3" text-anchor="start" fill="#000" textLength="51.7" lengthAdjust="spacingAndGlyphs" >CD34+CD38-</text>
<g fill="none" stroke="#4a4a4a" stroke-width="0.45">
<path d="M147.5 278.3 147.0 278.3 146.7 278.0 146.3 277.5 146.1 277.0 145.8 276.5 145.6 276.0 145.3 275.5 145.0 275.0 144.8 274.8 144.5 274.5 144.2 274.2 143.9 274.0 143.6 273.8 143.3 273.5 143.0 273.3 142.7 273.0 142.5 272.8 142.2 272.5 141.9 272.2 141.6 272.0 141.3 271.8 141.0 271.5 140.7 271.2 140.2 270.8 140.0 270.5 139.8 270.2 139.5 269.9 139.2 269.6 138.8 269.2 138.4 269.0 138.0 268.8 137.5 268.5 137.1 268.2 136.8 268.0 136.4 267.8 136.1 267.2 135.8 266.8 135.6 266.2 135.5 265.8 135.4 265.2 135.4 264.8 135.5 264.4 135.7 264.0 135.9 263.8 136.2 263.6 136.8 263.4 137.2 263.2 137.5 263.1 137.9 263.0 138.2 262.9 138.8 262.6 139.2 262.2 139.3 261.8 139.0 261.3 138.6 261.0 138.2 260.9 137.8 260.8 137.2 260.8 136.8 260.9 136.4 261.0 136.0 261.1 135.5 261.4 135.1 261.8 134.8 262.0 134.5 262.2 134.0 262.4 133.5 262.4 133.0 262.3 132.5 262.2 132.2 262.0 131.8 261.8 131.5 261.5 131.2 261.2 130.9 261.0 130.6 260.8 130.3 260.5 130.0 260.2 129.6 260.0 129.0 259.9 128.5 259.9 128.0 260.0 127.5 260.1 127.0 260.2 126.5 260.2 126.0 260.2 125.5 260.0 125.0 259.9 124.7 259.8 124.2 259.6 123.8 259.6 123.2 259.6 122.8 259.6 122.2 259.5 121.8 259.3 121.2 259.1 120.8 258.9 120.2 258.9 119.8 259.0 119.2 259.1 118.9 259.2 118.5 259.4 118.0 259.6 117.5 259.7 117.0 259.8 116.5 259.9 116.0 259.9 115.5 259.9 115.0 260.0 114.5 260.2 114.0 260.4 113.7 260.5 113.2 260.6 112.8 260.7 112.2 260.7 111.8 260.6 111.4 260.5 111.0 260.3 110.5 260.0 110.2 259.8 109.9 259.5 109.5 259.1 109.2 258.8 109.0 258.4 108.9 258.0 109.2 257.7 109.8 257.6 110.2 257.5 110.8 257.4 111.2 257.4 111.8 257.3 112.2 257.3 112.8 257.3 113.1 257.2 113.5 257.2 114.0 257.2 114.5 257.1 115.0 257.1 115.4 257.0 115.8 256.9 116.2 256.8 116.7 256.8 117.2 256.7 117.8 256.6 118.2 256.6 118.8 256.7 119.2 256.8 119.8 256.9 120.2 257.1 120.7 257.2 121.2 257.5 121.8 257.6 122.2 257.7 122.8 257.8 123.2 258.0 123.8 258.0 124.2 258.0 124.8 257.9 125.1 257.8 125.5 257.6 126.0 257.5 126.5 257.5 127.0 257.5 127.5 257.6 128.0 257.7 128.4 257.8 129.0 257.8 129.5 257.9 130.0 257.8 130.5 257.6 131.0 257.4 131.5 257.3 132.0 257.2 132.5 257.2 133.0 257.2 133.5 257.2 134.0 257.1 134.5 257.1 135.0 256.9 135.5 256.8 136.0 256.7 136.5 256.6 137.0 256.6 137.5 256.6 138.0 256.7 138.5 256.8 139.0 256.9 139.5 257.0 140.0 256.9 140.5 256.9 141.0 256.8 141.5 256.6 142.0 256.6 142.5 256.6 143.0 256.7 143.5 256.9 144.0 257.1 144.5 257.2 145.0 257.3 145.5 257.4 146.0 257.5 146.5 257.6 146.9 257.8 147.2 257.9 147.7 258.2 148.0 258.5 148.2 258.8 148.5 259.1 148.8 259.4 149.2 259.4 149.8 259.2 150.2 259.1 150.8 259.2 151.1 259.5 151.4 259.8 151.8 260.2 152.0 260.6 152.2 261.0 152.3 261.5 152.4 262.0 152.4 262.5 152.4 263.0 152.4 263.5 152.4 264.0 152.5 264.5 152.6 265.0 152.7 265.5 152.7 266.0 152.5 266.5 152.3 266.8 151.8 266.9 151.2 266.8 151.0 266.5 150.8 266.2 150.6 265.8 150.4 265.2 150.2 264.8 150.1 264.5 149.8 264.0 149.5 263.5 149.2 263.1 149.0 262.8 148.8 262.2 148.6 261.8 148.4 261.2 148.0 260.9 147.5 260.9 147.0 261.0 146.5 261.0 146.0 260.9 145.5 260.9 145.0 260.8 144.5 260.8 144.0 260.7 143.5 260.7 143.0 260.8 142.5 260.9 142.0 261.1 141.5 261.4 141.0 261.7 140.6 262.0 140.4 262.2 140.2 262.8 140.2 263.2 140.4 263.8 140.5 264.1 140.6 264.5 140.8 264.9 140.9 265.2 141.1 265.8 141.2 266.2 141.4 266.8 141.6 267.2 141.9 267.8 142.2 268.2 142.5 268.5 142.8 268.8 143.0 269.1 143.2 269.3 143.5 269.6 143.8 270.0 144.0 270.2 144.2 270.6 144.5 270.9 144.8 271.2 145.0 271.5 145.2 271.7 145.5 272.0 145.8 272.3 146.0 272.6 146.2 272.9 146.5 273.2 146.7 273.5 147.0 274.0 147.2 274.5 147.3 275.0 147.4 275.5 147.5 276.0 147.6 276.5 147.7 277.0 147.8 277.5 147.7 278.0Z"/>
<path d="M113.5 280.1 113.0 280.0 112.6 279.8 112.3 279.2 112.1 278.8 112.2 278.2 112.5 277.8 113.0 277.8 113.3 278.0 113.6 278.2 113.9 278.8 114.0 279.2 113.9 279.8 113.5 280.1Z"/>
<path d="M149.2 281.0 148.8 281.1 148.2 281.0 147.8 280.9 147.2 280.8 146.8 280.5 146.3 280.2 146.0 280.0 145.7 279.8 145.3 279.2 145.0 278.8 144.8 278.5 144.5 278.0 144.3 277.5 144.0 277.0 143.8 276.5 143.5 276.2 143.2 275.9 143.0 275.6 142.8 275.4 142.5 275.1 142.2 274.8 142.0 274.5 141.8 274.2 141.5 273.9 141.2 273.6 141.0 273.3 140.8 273.0 140.5 272.7 140.2 272.5 140.0 272.2 139.8 272.0 139.5 271.7 139.2 271.4 139.0 271.1 138.8 270.8 138.5 270.6 138.2 270.3 137.9 270.0 137.5 269.8 137.2 269.5 136.8 269.3 136.3 269.0 136.0 268.8 135.7 268.5 135.4 268.2 135.0 267.8 134.8 267.3 134.5 266.8 134.3 266.2 134.1 265.8 133.9 265.2 133.5 264.8 133.2 264.5 132.8 264.0 132.4 263.8 132.1 263.5 131.8 263.2 131.5 263.0 131.2 262.8 130.9 262.5 130.6 262.2 130.3 262.0 130.0 261.8 129.5 261.5 129.0 261.4 128.5 261.4 128.0 261.4 127.5 261.4 127.0 261.5 126.5 261.4 126.0 261.4 125.5 261.3 125.1 261.2 124.8 261.2 124.2 261.1 123.8 261.1 123.2 261.1 122.8 261.1 122.2 261.0 121.8 260.9 121.2 260.8 120.8 260.8 120.2 260.7 119.8 260.7 119.2 260.7 118.8 260.8 118.2 260.8 117.8 260.9 117.2 261.0 116.8 261.0 116.2 261.1 115.8 261.1 115.2 261.2 114.9 261.2 114.5 261.3 114.0 261.5 113.5 261.6 113.0 261.7 112.5 261.7 112.0 261.7 111.5 261.6 111.0 261.4 110.5 261.3 110.0 261.1 109.5 260.9 109.0 260.7 108.7 260.5 108.2 260.3 107.8 260.0 107.3 259.8 107.0 259.5 106.8 259.3 106.5 258.9 106.3 258.5 106.3 258.0 106.3 257.5 106.5 257.0 106.8 256.6 107.2 256.2 107.8 256.0 108.2 256.0 108.7 256.0 109.2 256.1 109.8 256.2 110.2 256.3 110.8 256.3 111.2 256.4 111.8 256.4 112.2 256.3 112.8 256.3 113.2 256.3 113.6 256.2 114.0 256.2 114.5 256.1 115.0 256.0 115.5 255.9 116.0 255.8 116.4 255.8 116.8 255.7 117.2 255.6 117.8 255.6 118.2 255.6 118.8 255.6 119.2 255.6 119.8 255.6 120.2 255.6 120.8 255.6 121.2 255.7 121.8 255.7 122.2 255.7 122.8 255.8 123.2 255.9 123.8 255.9 124.2 255.9 124.8 255.9 125.2 255.9 125.8 255.9 126.2 256.0 126.8 256.0 127.2 256.1 127.8 256.2 128.1 256.2 128.5 256.3 129.0 256.3 129.4 256.2 130.0 256.2 130.5 256.1 131.0 256.0 131.5 256.0 132.0 255.9 132.5 256.0 133.0 256.0 133.5 256.0 134.0 256.0 134.5 256.0 135.0 256.0 135.5 255.9 136.0 255.8 136.5 255.8 137.0 255.8 137.5 255.8 138.0 255.9 138.5 255.9 139.0 256.0 139.5 256.0 140.0 255.9 140.5 255.8 141.0 255.7 141.5 255.6 142.0 255.5 142.5 255.6 143.0 255.7 143.4 255.8 143.8 255.9 144.2 256.0 144.8 256.1 145.2 256.2 145.8 256.3 146.2 256.3 146.8 256.4 147.2 256.4 147.7 256.5 148.0 256.6 148.5 256.7 149.0 256.7 149.5 256.8 150.0 256.8 150.5 257.0 151.0 257.2 151.2 257.5 151.5 257.8 151.8 258.1 152.0 258.5 152.2 258.9 152.4 259.2 152.7 259.8 153.0 260.2 153.2 260.8 153.3 261.2 153.5 261.8 153.6 262.2 153.6 262.8 153.7 263.2 153.7 263.8 153.7 264.2 153.8 264.8 153.8 265.2 153.9 265.8 153.8 266.2 153.8 266.7 153.6 267.2 153.2 267.7 153.0 268.0 152.7 268.2 152.2 268.4 151.8 268.5 151.2 268.5 150.8 268.4 150.2 268.1 150.0 267.8 149.8 267.4 149.6 267.0 149.4 266.5 149.3 266.0 149.1 265.5 148.9 265.0 148.6 264.5 148.3 264.0 148.0 263.5 147.8 263.2 147.5 262.9 147.2 262.6 146.8 262.3 146.2 262.1 145.8 261.9 145.2 261.8 144.8 261.8 144.2 261.8 143.8 261.9 143.2 262.2 142.8 262.5 142.5 263.0 142.4 263.5 142.4 264.0 142.4 264.5 142.6 265.0 142.8 265.3 143.0 265.8 143.2 266.2 143.5 266.5 143.8 266.8 144.0 267.1 144.2 267.4 144.5 267.7 144.8 267.9 145.0 268.2 145.2 268.6 145.5 268.9 145.7 269.2 146.0 269.7 146.2 270.0 146.5 270.4 146.7 270.8 147.0 271.1 147.2 271.4 147.5 271.7 147.8 272.1 148.0 272.4 148.2 272.8 148.5 273.2 148.7 273.8 148.9 274.2 149.0 274.6 149.2 275.0 149.4 275.5 149.6 276.0 149.7 276.5 149.8 277.0 149.9 277.5 150.0 278.0 150.0 278.5 150.1 279.0 150.2 279.5 150.2 280.0 150.0 280.5 149.8 280.8 149.4 281.0Z"/>
<path d="M114.5 283.0 114.0 283.2 113.5 283.2 113.0 283.1 112.5 282.9 112.1 282.8 111.8 282.6 111.4 282.2 111.1 282.0 110.8 281.6 110.6 281.2 110.3 280.8 110.2 280.2 110.1 279.8 110.1 279.2 110.1 278.8 110.2 278.2 110.3 277.8 110.5 277.3 110.7 277.0 111.0 276.6 111.2 276.3 111.7 276.0 112.0 275.8 112.5 275.7 113.0 275.7 113.5 275.9 114.0 276.2 114.3 276.5 114.7 277.0 115.0 277.4 115.2 277.7 115.5 278.0 115.7 278.5 116.0 279.0 116.2 279.5 116.2 279.9 116.3 280.2 116.3 280.8 116.2 281.2 116.0 281.7 115.8 282.0 115.5 282.3 115.0 282.7 114.5 283.0Z"/>
<path d="M150.0 282.5 149.5 282.6 149.0 282.6 148.7 282.5 148.2 282.4 147.9 282.2 147.5 282.1 147.0 281.9 146.5 281.6 146.0 281.3 145.6 281.0 145.3 280.8 145.1 280.5 144.8 280.1 144.5 279.8 144.2 279.5 144.0 279.2 143.8 278.9 143.5 278.6 143.2 278.3 143.0 278.0 142.8 277.6 142.5 277.3 142.3 277.0 142.0 276.6 141.8 276.2 141.5 275.8 141.3 275.5 141.0 275.0 140.8 274.5 140.5 274.1 140.2 273.8 140.0 273.5 139.8 273.2 139.5 272.9 139.2 272.7 139.0 272.4 138.8 272.2 138.5 271.9 138.2 271.6 138.0 271.3 137.8 271.1 137.5 270.8 137.1 270.5 136.8 270.2 136.5 270.0 136.0 269.8 135.6 269.5 135.3 269.2 135.0 269.0 134.7 268.8 134.3 268.2 134.0 267.9 133.8 267.5 133.5 267.1 133.3 266.8 133.0 266.3 132.8 266.0 132.5 265.7 132.2 265.4 132.0 265.1 131.8 264.8 131.5 264.5 131.2 264.3 131.0 264.0 130.8 263.7 130.5 263.4 130.0 263.0 129.6 262.8 129.2 262.6 128.8 262.4 128.2 262.4 127.8 262.4 127.2 262.3 126.8 262.3 126.2 262.3 125.8 262.2 125.2 262.1 124.8 262.1 124.2 262.0 123.8 262.0 123.2 262.0 122.8 262.0 122.2 261.9 121.8 261.9 121.2 261.8 120.8 261.7 120.2 261.7 119.8 261.6 119.2 261.6 118.8 261.7 118.2 261.7 117.8 261.7 117.2 261.8 116.8 261.9 116.2 261.9 115.8 262.0 115.2 262.1 114.8 262.1 114.2 262.2 113.8 262.3 113.2 262.4 112.8 262.4 112.2 262.4 111.8 262.3 111.2 262.3 110.8 262.2 110.2 262.1 109.8 261.9 109.2 261.8 108.9 261.8 108.5 261.7 108.0 261.6 107.5 261.4 107.0 261.2 106.6 261.0 106.3 260.8 106.0 260.4 105.8 260.1 105.6 259.8 105.4 259.2 105.3 258.8 105.2 258.2 105.2 257.8 105.4 257.2 105.5 256.9 105.7 256.5 106.0 256.1 106.2 255.9 106.8 255.5 107.2 255.3 107.8 255.1 108.2 255.1 108.8 255.1 109.2 255.2 109.8 255.3 110.2 255.4 110.7 255.5 111.2 255.6 111.8 255.6 112.2 255.6 112.8 255.6 113.2 255.5 113.7 255.5 114.2 255.4 114.8 255.3 115.2 255.2 115.8 255.1 116.2 255.0 116.8 254.9 117.2 254.9 117.8 254.9 118.2 254.9 118.8 254.9 119.2 254.8 119.8 254.8 120.2 254.8 120.8 254.8 121.2 254.8 121.8 254.8 122.2 254.8 122.8 254.8 123.2 254.8 123.8 254.8 124.2 254.7 124.8 254.7 125.2 254.8 125.8 254.8 126.2 254.9 126.8 255.0 127.2 255.1 127.8 255.1 128.2 255.2 128.8 255.2 129.2 255.2 129.8 255.2 130.2 255.2 130.8 255.2 131.2 255.2 131.8 255.2 132.2 255.2 132.8 255.2 133.2 255.2 133.8 255.3 134.2 255.3 134.8 255.3 135.2 255.2 135.8 255.2 136.2 255.1 136.8 255.1 137.2 255.1 137.8 255.1 138.2 255.2 138.8 255.2 139.2 255.2 139.8 255.2 140.2 255.1 140.6 255.0 141.0 254.9 141.5 254.8 142.0 254.8 142.5 254.8 143.0 254.9 143.5 255.0 144.0 255.1 144.5 255.2 145.0 255.3 145.5 255.3 146.0 255.3 146.5 255.4 147.0 255.4 147.5 255.5 148.0 255.6 148.5 255.7 149.0 255.8 149.5 255.9 150.0 256.0 150.5 256.1 150.9 256.2 151.2 256.4 151.7 256.8 152.0 257.1 152.2 257.5 152.5 257.9 152.7 258.2 153.0 258.8 153.2 259.2 153.5 259.7 153.7 260.0 153.9 260.5 154.1 261.0 154.2 261.5 154.3 262.0 154.4 262.5 154.5 263.0 154.5 263.5 154.5 264.0 154.6 264.5 154.6 265.0 154.6 265.5 154.6 266.0 154.6 266.5 154.5 267.0 154.3 267.5 154.1 268.0 153.9 268.5 153.5 269.0 153.2 269.2 152.8 269.5 152.5 269.7 152.0 269.8 151.5 269.9 151.0 270.0 150.5 270.2 150.0 270.4 149.6 270.8 149.5 271.2 149.6 271.8 149.7 272.2 149.9 272.8 150.1 273.2 150.2 273.6 150.4 274.0 150.6 274.5 150.8 275.0 151.0 275.5 151.1 276.0 151.1 276.5 151.2 277.0 151.2 277.5 151.3 278.0 151.5 278.5 151.6 279.0 151.8 279.5 151.8 280.0 151.8 280.5 151.6 281.0 151.3 281.5 151.0 281.9 150.6 282.2 150.2 282.5Z"/>
<path d="M148.0 268.2 148.1 267.8 148.1 267.2 148.0 266.8 147.9 266.2 147.8 265.8 147.6 265.2 147.5 264.9 147.3 264.5 147.0 264.0 146.8 263.6 146.5 263.4 146.0 263.0 145.5 262.8 145.0 262.7 144.5 262.8 144.1 263.0 143.8 263.2 143.6 263.8 143.6 264.2 143.7 264.8 144.0 265.2 144.2 265.6 144.5 265.8 145.0 266.2 145.4 266.5 145.7 266.8 146.1 267.0 146.4 267.2 146.6 267.5 146.9 267.8 147.1 268.0 147.4 268.2 148.0 268.3Z"/>
<path d="M114.8 285.1 114.2 285.2 113.8 285.2 113.2 285.1 112.9 285.0 112.5 284.8 112.0 284.6 111.5 284.2 111.2 284.0 110.9 283.8 110.6 283.5 110.2 283.1 110.0 282.8 109.8 282.5 109.5 282.1 109.3 281.8 109.0 281.3 108.8 280.8 108.6 280.2 108.4 279.8 108.4 279.2 108.5 278.8 108.6 278.2 108.8 277.9 108.9 277.5 109.2 277.0 109.5 276.5 109.8 276.0 110.0 275.5 110.2 275.0 110.5 274.5 110.8 274.1 111.2 273.8 111.8 273.7 112.2 273.6 112.8 273.6 113.2 273.5 113.8 273.4 114.2 273.4 114.6 273.5 115.0 273.7 115.2 274.0 115.4 274.5 115.5 274.9 115.6 275.2 115.7 275.8 115.9 276.2 116.0 276.6 116.2 277.0 116.5 277.5 116.8 277.9 116.9 278.2 117.2 278.8 117.4 279.2 117.6 279.8 117.6 280.2 117.6 280.8 117.6 281.2 117.4 281.8 117.2 282.2 117.1 282.5 116.8 283.0 116.5 283.4 116.3 283.8 116.0 284.1 115.8 284.4 115.4 284.8 115.0 285.0Z"/>
<path d="M150.5 283.6 150.0 283.7 149.5 283.7 149.0 283.7 148.5 283.6 148.0 283.4 147.6 283.2 147.0 283.0 146.5 282.8 146.0 282.5 145.7 282.2 145.4 282.0 145.1 281.8 144.8 281.3 144.5 281.1 144.2 280.8 144.0 280.5 143.8 280.2 143.5 279.9 143.2 279.7 143.0 279.4 142.8 279.1 142.5 278.9 142.2 278.6 142.0 278.3 141.8 278.0 141.5 277.6 141.3 277.2 141.0 276.8 140.8 276.2 140.6 275.8 140.3 275.2 140.0 274.8 139.8 274.3 139.5 274.0 139.3 273.8 139.0 273.5 138.8 273.2 138.5 273.0 138.2 272.7 138.0 272.5 137.8 272.2 137.5 271.9 137.2 271.6 137.0 271.4 136.6 271.0 136.3 270.8 135.9 270.5 135.5 270.2 135.2 270.1 134.8 269.8 134.5 269.5 134.2 269.2 133.9 269.0 133.5 268.5 133.2 268.2 133.0 267.8 132.8 267.5 132.5 267.1 132.2 266.8 132.0 266.4 131.8 266.1 131.5 265.8 131.2 265.5 131.0 265.2 130.8 264.9 130.5 264.6 130.2 264.4 130.0 264.1 129.6 263.8 129.2 263.5 128.8 263.3 128.2 263.2 127.8 263.1 127.2 263.0 126.8 263.0 126.2 262.9 125.8 262.9 125.2 262.8 124.8 262.7 124.2 262.7 123.8 262.7 123.2 262.7 122.8 262.6 122.2 262.6 121.8 262.6 121.2 262.5 120.8 262.5 120.2 262.5 119.8 262.4 119.2 262.4 118.8 262.4 118.2 262.4 117.8 262.5 117.2 262.5 116.8 262.6 116.2 262.7 115.8 262.8 115.2 262.8 114.8 262.9 114.2 263.0 113.8 263.0 113.2 263.1 112.8 263.1 112.2 263.1 111.8 263.0 111.2 262.9 110.8 262.8 110.3 262.8 109.8 262.7 109.2 262.6 108.8 262.6 108.2 262.5 107.8 262.5 107.2 262.4 106.8 262.3 106.2 262.0 105.9 261.8 105.6 261.5 105.2 261.1 105.0 260.8 104.8 260.2 104.5 259.8 104.4 259.2 104.3 258.8 104.3 258.2 104.3 257.8 104.5 257.2 104.7 256.8 105.0 256.3 105.2 255.9 105.5 255.7 106.0 255.3 106.4 255.0 106.8 254.8 107.2 254.6 107.7 254.5 108.2 254.4 108.8 254.4 109.2 254.5 109.8 254.6 110.2 254.7 110.7 254.8 111.2 254.8 111.8 254.9 112.2 254.9 112.8 254.9 113.2 254.9 113.8 254.8 114.2 254.8 114.8 254.6 115.2 254.5 115.8 254.4 116.2 254.3 116.8 254.3 117.2 254.3 117.8 254.3 118.2 254.3 118.8 254.2 119.2 254.2 119.8 254.2 120.2 254.1 120.8 254.1 121.2 254.1 121.8 254.1 122.2 254.0 122.8 254.0 123.1 254.0 123.5 254.0 124.0 254.0 124.5 254.0 125.0 254.0 125.5 254.0 126.0 254.1 126.5 254.2 126.8 254.2 127.2 254.3 127.8 254.4 128.2 254.4 128.8 254.5 129.2 254.5 129.8 254.5 130.2 254.5 130.8 254.5 131.2 254.5 131.8 254.5 132.2 254.6 132.8 254.6 133.2 254.6 133.8 254.6 134.2 254.7 134.8 254.6 135.2 254.6 135.8 254.5 136.2 254.5 136.8 254.4 137.2 254.4 137.8 254.5 138.2 254.5 138.8 254.5 139.2 254.5 139.7 254.5 140.2 254.4 140.8 254.3 141.2 254.2 141.8 254.2 142.2 254.2 142.7 254.2 143.2 254.3 143.8 254.4 144.2 254.5 144.8 254.5 145.2 254.6 145.8 254.6 146.2 254.6 146.8 254.6 147.2 254.7 147.8 254.8 148.2 254.9 148.8 255.1 149.2 255.2 149.8 255.3 150.2 255.4 150.7 255.5 151.0 255.6 151.3 255.8 151.7 256.0 152.0 256.2 152.5 256.8 152.8 257.2 152.9 257.5 153.2 258.0 153.5 258.5 153.8 258.9 154.0 259.2 154.2 259.8 154.5 260.2 154.6 260.8 154.8 261.1 154.9 261.5 155.0 262.0 155.1 262.5 155.1 263.0 155.2 263.5 155.2 264.0 155.2 264.5 155.2 265.0 155.2 265.5 155.2 266.0 155.2 266.5 155.1 267.0 155.0 267.5 154.9 268.0 154.8 268.4 154.6 268.8 154.3 269.2 154.0 269.7 153.8 270.0 153.4 270.2 153.0 270.5 152.5 270.8 152.0 271.0 151.6 271.2 151.4 271.5 151.1 272.0 151.1 272.5 151.2 273.0 151.3 273.5 151.5 274.0 151.7 274.5 151.9 275.0 152.0 275.5 152.1 276.0 152.1 276.5 152.2 277.0 152.3 277.5 152.5 278.0 152.7 278.5 152.9 279.0 153.0 279.5 153.0 280.0 152.9 280.5 152.8 280.8 152.6 281.2 152.3 281.8 152.1 282.2 151.8 282.7 151.5 282.9 151.1 283.2 150.8 283.4Z"/>
<path d="M113.0 287.0 112.5 287.0 112.0 286.8 111.5 286.5 111.1 286.2 110.8 286.0 110.5 285.8 110.2 285.5 110.0 285.2 109.8 284.8 109.5 284.5 109.3 284.0 109.0 283.5 108.8 283.0 108.5 282.6 108.3 282.2 108.0 281.8 107.8 281.3 107.5 280.8 107.4 280.2 107.3 279.8 107.2 279.2 107.3 278.8 107.4 278.2 107.5 277.9 107.7 277.5 108.0 277.0 108.2 276.5 108.5 276.0 108.7 275.5 108.8 275.1 108.8 274.5 108.8 274.0 108.9 273.5 109.0 273.0 109.1 272.5 109.2 272.0 109.3 271.5 109.4 271.0 109.5 270.5 109.6 270.0 109.7 269.5 109.9 269.0 110.2 268.5 110.5 268.1 110.9 267.8 111.2 267.5 111.6 267.2 112.0 267.1 112.5 266.9 113.0 266.8 113.5 266.8 114.0 267.0 114.3 267.2 114.7 267.8 114.9 268.2 115.0 268.6 115.1 269.0 115.2 269.4 115.5 269.8 115.8 270.1 116.2 270.5 116.5 271.0 116.7 271.5 116.8 272.0 116.9 272.5 117.0 273.0 117.0 273.4 117.0 273.8 117.1 274.2 117.1 274.8 117.1 275.2 117.2 275.8 117.3 276.2 117.5 276.7 117.8 277.2 117.9 277.5 118.2 278.0 118.5 278.5 118.7 279.0 118.8 279.5 118.8 280.0 118.8 280.5 118.7 281.0 118.5 281.5 118.4 282.0 118.2 282.5 118.0 282.8 117.8 283.2 117.5 283.8 117.2 284.2 117.0 284.6 116.8 284.9 116.5 285.2 116.2 285.5 115.9 285.8 115.6 286.0 115.2 286.2 114.8 286.4 114.2 286.7 113.8 286.9 113.2 287.0Z"/>
<path d="M150.2 284.5 149.8 284.6 149.2 284.6 148.8 284.6 148.2 284.5 147.8 284.3 147.2 284.1 146.8 283.9 146.4 283.8 146.0 283.6 145.5 283.3 145.2 283.0 144.9 282.8 144.5 282.3 144.2 282.0 144.0 281.7 143.8 281.4 143.5 281.1 143.2 280.8 143.0 280.6 142.8 280.3 142.5 280.1 142.2 279.8 142.0 279.5 141.8 279.3 141.5 279.0 141.2 278.6 141.0 278.2 140.8 277.8 140.5 277.2 140.3 276.8 140.1 276.2 139.8 275.8 139.5 275.2 139.2 274.8 139.0 274.5 138.8 274.2 138.5 273.9 138.2 273.7 138.0 273.4 137.8 273.2 137.5 272.9 137.2 272.7 137.0 272.4 136.8 272.1 136.5 271.8 136.1 271.5 135.9 271.2 135.5 271.0 135.2 270.8 134.8 270.5 134.5 270.3 134.1 270.0 133.8 269.8 133.6 269.5 133.3 269.2 133.0 268.9 132.8 268.6 132.5 268.3 132.2 267.9 132.0 267.6 131.8 267.2 131.5 266.9 131.2 266.6 131.0 266.3 130.8 266.0 130.5 265.7 130.2 265.4 130.0 265.1 129.8 264.8 129.4 264.5 129.1 264.2 128.8 264.1 128.2 263.9 127.8 263.8 127.2 263.7 126.8 263.6 126.3 263.5 125.8 263.4 125.2 263.4 124.8 263.3 124.3 263.2 123.8 263.2 123.2 263.2 122.8 263.2 122.2 263.2 121.8 263.2 121.2 263.2 120.8 263.2 120.2 263.1 119.8 263.1 119.2 263.1 118.8 263.1 118.2 263.1 117.8 263.1 117.2 263.2 116.8 263.3 116.2 263.5 115.8 263.6 115.2 263.7 114.8 263.8 114.2 263.9 113.8 263.9 113.2 263.9 112.8 263.9 112.2 263.9 111.8 263.8 111.2 263.6 110.8 263.5 110.2 263.4 109.8 263.3 109.2 263.3 108.8 263.3 108.2 263.3 107.8 263.2 107.2 263.2 106.8 263.1 106.2 262.9 105.9 262.8 105.5 262.5 105.2 262.3 105.0 262.0 104.8 261.7 104.5 261.4 104.3 261.0 104.0 260.6 103.8 260.2 103.6 259.8 103.4 259.2 103.3 258.8 103.3 258.2 103.3 257.8 103.5 257.2 103.8 256.8 104.0 256.4 104.2 256.1 104.5 255.8 104.8 255.6 105.1 255.2 105.4 255.0 105.7 254.8 106.1 254.5 106.5 254.3 107.0 254.1 107.5 254.0 108.0 253.9 108.5 253.8 109.0 253.8 109.5 253.9 110.0 253.9 110.4 254.0 110.8 254.1 111.2 254.2 111.8 254.2 112.2 254.3 112.8 254.3 113.2 254.3 113.8 254.2 114.2 254.1 114.8 254.0 115.2 253.9 115.8 253.8 116.2 253.7 116.8 253.7 117.2 253.7 117.8 253.7 118.2 253.7 118.8 253.7 119.2 253.7 119.8 253.6 120.2 253.6 120.8 253.5 121.2 253.5 121.8 253.5 122.2 253.4 122.8 253.4 123.2 253.4 123.8 253.4 124.2 253.4 124.8 253.4 125.2 253.5 125.6 253.5 126.0 253.6 126.5 253.6 127.0 253.7 127.5 253.8 128.0 253.8 128.5 253.9 129.0 253.9 129.5 253.9 130.0 253.9 130.5 253.9 131.0 254.0 131.5 254.0 132.0 254.0 132.5 254.0 133.0 254.0 133.5 254.1 134.0 254.1 134.5 254.1 135.0 254.0 135.5 254.0 136.0 253.9 136.5 253.9 137.0 253.8 137.5 253.8 138.0 253.9 138.5 253.9 139.0 253.9 139.5 253.9 140.0 253.8 140.5 253.8 141.0 253.7 141.5 253.7 142.0 253.7 142.5 253.7 143.0 253.8 143.5 253.8 144.0 253.9 144.5 253.9 145.0 254.0 145.5 254.0 146.0 254.0 146.5 254.0 147.0 254.0 147.5 254.1 147.9 254.2 148.2 254.4 148.7 254.5 149.2 254.6 149.7 254.8 150.2 254.9 150.8 255.0 151.2 255.1 151.8 255.4 152.2 255.7 152.5 256.0 152.9 256.5 153.2 257.0 153.5 257.4 153.7 257.8 154.0 258.2 154.2 258.7 154.5 259.0 154.7 259.5 154.9 260.0 155.1 260.5 155.2 260.9 155.4 261.5 155.5 261.9 155.6 262.2 155.7 262.8 155.7 263.2 155.8 263.8 155.8 264.2 155.8 264.8 155.8 265.2 155.8 265.8 155.8 266.2 155.8 266.7 155.7 267.2 155.6 267.8 155.5 268.1 155.4 268.5 155.2 268.9 155.1 269.2 154.8 269.8 154.5 270.2 154.3 270.5 154.0 270.7 153.7 271.0 153.3 271.2 153.0 271.5 152.6 271.8 152.2 272.2 152.1 272.8 152.1 273.2 152.2 273.7 152.4 274.2 152.5 274.6 152.6 275.0 152.7 275.5 152.8 276.0 153.0 276.5 153.1 277.0 153.2 277.3 153.4 277.8 153.6 278.2 153.8 278.6 153.8 279.0 153.9 279.5 153.9 280.0 153.8 280.5 153.6 281.0 153.4 281.5 153.1 282.0 152.9 282.5 152.6 283.0 152.2 283.5 152.0 283.7 151.6 284.0 151.2 284.2 150.8 284.4 150.3 284.5Z"/>
<path d="M113.2 288.3 112.8 288.3 112.2 288.2 111.8 288.0 111.2 287.8 110.8 287.6 110.2 287.3 109.9 287.0 109.6 286.8 109.4 286.5 109.0 286.1 108.8 285.8 108.5 285.3 108.3 284.8 108.1 284.2 108.0 283.9 107.9 283.5 107.6 283.0 107.4 282.5 107.2 282.2 107.0 281.8 106.8 281.2 106.7 280.8 106.5 280.2 106.5 279.9 106.5 279.5 106.5 279.0 106.5 278.5 106.6 278.0 106.8 277.5 107.0 277.0 107.2 276.5 107.5 276.0 107.7 275.5 107.8 275.0 107.8 274.5 107.8 274.0 107.9 273.5 108.0 273.0 108.0 272.5 108.1 272.0 108.2 271.5 108.2 271.0 108.2 270.6 108.3 270.0 108.4 269.5 108.6 269.0 108.9 268.5 109.2 268.0 109.5 267.8 109.8 267.5 110.2 267.0 110.6 266.8 111.0 266.5 111.2 266.3 111.7 266.0 112.0 265.8 112.5 265.6 113.0 265.4 113.5 265.4 113.9 265.5 114.2 265.6 114.8 265.9 115.2 266.2 115.5 266.7 115.8 267.1 115.9 267.5 116.2 268.0 116.5 268.5 116.8 268.8 117.0 269.2 117.2 269.5 117.5 270.0 117.7 270.5 117.8 271.0 117.9 271.5 118.0 272.0 118.0 272.5 118.1 273.0 118.2 273.5 118.3 274.0 118.4 274.5 118.5 275.0 118.7 275.5 118.8 276.0 119.0 276.4 119.1 276.8 119.3 277.2 119.5 277.8 119.6 278.2 119.7 278.8 119.8 279.2 119.8 279.8 119.8 280.2 119.6 280.8 119.5 281.2 119.3 281.8 119.1 282.2 119.0 282.6 118.9 283.0 118.7 283.5 118.5 283.9 118.3 284.2 118.0 284.8 117.8 285.1 117.5 285.4 117.2 285.7 117.0 285.9 116.6 286.2 116.3 286.5 116.0 286.7 115.7 287.0 115.3 287.2 115.0 287.5 114.6 287.8 114.2 288.0 113.8 288.2 113.2 288.3Z"/>
<path d="M114.2 289.0 113.8 289.2 113.2 289.2 112.8 289.2 112.2 289.2 111.8 289.0 111.2 288.9 110.8 288.7 110.4 288.5 110.0 288.3 109.6 288.0 109.2 287.8 109.0 287.5 108.7 287.2 108.3 286.8 108.0 286.3 107.8 286.0 107.6 285.5 107.4 285.0 107.3 284.5 107.1 284.0 107.0 283.6 106.8 283.0 106.6 282.5 106.4 282.0 106.2 281.5 106.0 281.0 105.9 280.5 105.9 280.0 105.9 279.5 105.8 279.0 105.9 278.5 105.9 278.0 106.0 277.6 106.2 277.0 106.4 276.5 106.6 276.0 106.8 275.5 106.9 275.0 106.9 274.5 107.0 274.0 107.1 273.5 107.1 273.0 107.2 272.5 107.3 272.0 107.3 271.5 107.4 271.0 107.3 270.5 107.4 270.0 107.4 269.5 107.6 269.0 107.8 268.7 108.0 268.3 108.2 267.9 108.5 267.6 108.8 267.3 109.0 267.0 109.2 266.8 109.5 266.5 109.8 266.2 110.1 266.0 110.4 265.8 110.8 265.3 110.9 265.0 110.8 264.5 110.3 264.2 109.8 264.1 109.2 264.0 108.8 264.0 108.2 264.0 107.8 264.0 107.2 263.9 106.8 263.8 106.2 263.7 105.9 263.5 105.5 263.3 105.1 263.0 104.8 262.8 104.5 262.5 104.2 262.2 104.0 261.8 103.8 261.5 103.5 261.1 103.2 260.8 103.0 260.4 102.8 260.0 102.6 259.5 102.4 259.0 102.4 258.5 102.4 258.0 102.5 257.5 102.7 257.0 103.0 256.5 103.2 256.2 103.5 255.9 103.8 255.7 104.2 255.2 104.5 255.0 104.8 254.8 105.2 254.5 105.5 254.3 106.0 254.0 106.5 253.8 107.0 253.6 107.5 253.5 108.0 253.4 108.5 253.3 109.0 253.3 109.5 253.3 110.0 253.3 110.5 253.4 111.0 253.5 111.5 253.6 112.0 253.6 112.5 253.7 113.0 253.7 113.5 253.7 114.0 253.6 114.5 253.5 115.0 253.4 115.5 253.3 116.0 253.2 116.5 253.2 117.0 253.2 117.5 253.2 118.0 253.2 118.5 253.2 119.0 253.2 119.5 253.1 120.0 253.1 120.5 253.0 121.0 253.0 121.5 253.0 122.0 252.9 122.5 252.9 123.0 252.9 123.5 252.9 124.0 252.9 124.5 252.9 125.0 253.0 125.5 253.0 126.0 253.1 126.5 253.2 127.0 253.2 127.5 253.3 128.0 253.4 128.5 253.4 129.0 253.4 129.5 253.4 130.0 253.4 130.5 253.5 131.0 253.5 131.5 253.5 132.0 253.5 132.5 253.5 133.0 253.5 133.5 253.5 134.0 253.5 134.5 253.5 135.0 253.5 135.5 253.4 136.0 253.4 136.5 253.3 137.0 253.3 137.5 253.3 138.0 253.3 138.5 253.3 139.0 253.4 139.5 253.3 140.0 253.3 140.5 253.3 141.0 253.2 141.5 253.2 142.0 253.2 142.5 253.3 143.0 253.3 143.5 253.4 144.0 253.4 144.5 253.4 145.0 253.5 145.5 253.5 146.0 253.5 146.5 253.5 147.0 253.5 147.5 253.6 148.0 253.8 148.5 253.9 149.0 254.1 149.5 254.2 150.0 254.3 150.5 254.4 151.0 254.5 151.5 254.7 152.0 255.0 152.4 255.2 152.7 255.5 153.0 255.8 153.2 256.1 153.5 256.5 153.8 256.9 154.0 257.2 154.2 257.7 154.5 258.1 154.7 258.5 155.0 258.9 155.2 259.5 155.5 260.0 155.6 260.5 155.8 260.9 155.9 261.5 156.0 261.8 156.1 262.2 156.2 262.8 156.3 263.2 156.3 263.8 156.3 264.2 156.3 264.8 156.3 265.2 156.3 265.8 156.3 266.2 156.3 266.8 156.2 267.2 156.1 267.8 156.1 268.2 155.9 268.8 155.8 269.2 155.5 269.8 155.2 270.2 155.0 270.6 154.8 270.9 154.5 271.1 154.1 271.5 153.8 271.8 153.5 272.0 153.2 272.3 153.0 272.8 152.9 273.2 153.0 273.8 153.1 274.2 153.2 274.8 153.3 275.2 153.5 275.8 153.6 276.2 153.9 276.8 154.0 277.1 154.2 277.5 154.4 278.0 154.6 278.5 154.7 279.0 154.7 279.5 154.7 280.0 154.5 280.5 154.4 281.0 154.1 281.5 153.9 282.0 153.7 282.5 153.5 282.8 153.3 283.2 153.0 283.8 152.8 284.1 152.5 284.4 152.0 284.7 151.5 284.9 151.0 285.1 150.5 285.2 150.0 285.3 149.5 285.4 149.0 285.4 148.5 285.3 148.0 285.2 147.5 285.1 147.0 284.9 146.7 284.8 146.2 284.6 145.8 284.3 145.2 284.1 144.8 283.8 144.5 283.5 144.2 283.2 144.0 283.0 143.8 282.7 143.5 282.4 143.2 282.0 143.0 281.8 142.8 281.5 142.5 281.2 142.2 280.9 142.0 280.7 141.8 280.4 141.5 280.1 141.2 279.8 141.0 279.5 140.8 279.1 140.6 278.8 140.3 278.2 140.1 277.8 139.9 277.2 139.6 276.8 139.4 276.2 139.1 275.8 138.8 275.2 138.5 274.9 138.2 274.6 138.0 274.3 137.8 274.1 137.5 273.8 137.2 273.5 137.0 273.3 136.8 273.0 136.5 272.7 136.2 272.5 136.0 272.2 135.5 271.8 135.2 271.5 134.9 271.2 134.5 271.0 134.2 270.8 133.8 270.5 133.5 270.2 133.2 270.0 133.0 269.8 132.5 269.2 132.2 268.9 132.0 268.6 131.8 268.2 131.5 267.9 131.2 267.5 131.0 267.2 130.8 266.9 130.5 266.6 130.2 266.3 130.0 266.0 129.8 265.7 129.5 265.5 129.0 265.0 128.7 264.8 128.2 264.5 127.8 264.3 127.2 264.2 126.8 264.1 126.2 264.0 125.8 263.9 125.2 263.9 124.8 263.8 124.4 263.8 124.0 263.7 123.5 263.7 123.0 263.7 122.5 263.7 122.0 263.7 121.5 263.7 121.0 263.7 120.5 263.7 120.0 263.7 119.5 263.7 119.0 263.7 118.5 263.7 118.0 263.8 117.5 263.9 117.1 264.0 116.8 264.2 116.3 264.5 116.1 265.0 116.1 265.5 116.3 266.0 116.5 266.4 116.7 266.8 116.9 267.2 117.2 267.8 117.5 268.1 117.7 268.5 118.0 269.0 118.2 269.5 118.4 270.0 118.5 270.5 118.6 271.0 118.7 271.5 118.8 271.9 118.8 272.2 118.9 272.8 119.1 273.2 119.2 273.8 119.4 274.2 119.6 274.8 119.7 275.2 119.9 275.8 120.1 276.2 120.2 276.8 120.2 277.2 120.3 277.8 120.4 278.2 120.5 278.8 120.5 279.2 120.5 279.8 120.5 280.2 120.4 280.8 120.3 281.2 120.1 281.8 120.0 282.2 119.9 282.5 119.8 283.0 119.6 283.5 119.4 284.0 119.3 284.5 119.0 285.0 118.8 285.3 118.5 285.6 118.2 285.9 117.8 286.2 117.5 286.5 117.2 286.7 116.9 287.0 116.6 287.2 116.3 287.5 116.1 287.8 115.8 288.0 115.5 288.2 115.2 288.5 114.8 288.8 114.3 289.0Z"/>
<path d="M114.0 290.0 113.5 290.1 113.0 290.1 112.5 290.1 112.0 290.0 111.5 289.9 111.0 289.8 110.5 289.6 110.0 289.4 109.5 289.1 109.0 288.8 108.7 288.5 108.5 288.2 108.0 287.8 107.8 287.4 107.5 287.1 107.3 286.8 107.1 286.2 106.9 285.8 106.8 285.3 106.6 284.8 106.5 284.4 106.4 284.0 106.3 283.5 106.1 283.0 105.9 282.5 105.8 282.1 105.6 281.8 105.5 281.3 105.4 280.8 105.3 280.2 105.3 279.8 105.3 279.2 105.3 278.8 105.3 278.2 105.3 277.8 105.4 277.2 105.5 276.8 105.7 276.2 105.8 275.8 106.0 275.2 106.1 274.8 106.2 274.2 106.2 273.8 106.3 273.2 106.4 272.8 106.5 272.2 106.6 271.8 106.6 271.2 106.6 270.8 106.6 270.2 106.6 269.8 106.7 269.2 106.8 268.9 106.9 268.5 107.1 268.0 107.4 267.5 107.7 267.0 108.0 266.5 108.2 266.1 108.4 265.5 108.2 265.2 107.9 265.0 107.5 264.8 107.0 264.7 106.6 264.5 106.2 264.4 105.8 264.1 105.2 263.9 104.8 263.5 104.5 263.2 104.2 263.0 103.8 262.5 103.5 262.2 103.2 261.8 103.0 261.5 102.8 261.2 102.5 260.8 102.3 260.5 102.0 260.0 101.8 259.5 101.7 259.0 101.7 258.5 101.7 258.0 101.8 257.6 101.8 257.2 102.0 256.9 102.2 256.5 102.5 256.1 102.8 255.8 103.1 255.5 103.4 255.2 103.7 255.0 104.0 254.8 104.2 254.5 104.6 254.2 105.0 254.0 105.4 253.8 105.8 253.6 106.2 253.4 106.7 253.2 107.2 253.1 107.8 253.0 108.2 252.9 108.8 252.8 109.2 252.8 109.8 252.8 110.2 252.8 110.8 252.9 111.2 252.9 111.8 253.0 112.2 253.1 112.8 253.1 113.2 253.1 113.8 253.1 114.2 253.0 114.8 252.9 115.2 252.8 115.8 252.8 116.2 252.7 116.8 252.7 117.2 252.7 117.8 252.7 118.2 252.7 118.8 252.7 119.2 252.7 119.8 252.6 120.2 252.6 120.8 252.6 121.2 252.5 121.8 252.5 122.2 252.5 122.8 252.5 123.2 252.5 123.8 252.5 124.2 252.5 124.8 252.5 125.2 252.6 125.8 252.6 126.2 252.7 126.8 252.8 127.2 252.9 127.8 252.9 128.2 253.0 128.8 253.0 129.2 253.0 129.8 253.0 130.2 253.0 130.8 253.0 131.2 253.0 131.8 253.0 132.2 253.0 132.8 253.0 133.2 253.0 133.8 253.0 134.2 253.0 134.8 253.0 135.2 252.9 135.8 252.9 136.2 252.8 136.8 252.8 137.2 252.8 137.8 252.8 138.2 252.8 138.8 252.8 139.2 252.9 139.8 252.8 140.2 252.8 140.8 252.8 141.2 252.8 141.8 252.8 142.2 252.8 142.8 252.9 143.2 252.9 143.8 253.0 144.2 253.0 144.6 253.0 145.0 253.0 145.5 253.0 146.0 253.0 146.5 253.0 147.0 253.1 147.5 253.2 147.8 253.2 148.2 253.4 148.7 253.5 149.2 253.7 149.8 253.8 150.2 253.9 150.7 254.0 151.2 254.1 151.8 254.3 152.1 254.5 152.5 254.8 152.8 255.0 153.1 255.2 153.5 255.7 153.7 256.0 154.0 256.4 154.2 256.8 154.5 257.2 154.8 257.6 155.0 258.0 155.2 258.4 155.4 258.8 155.7 259.2 155.9 259.8 156.0 260.2 156.2 260.8 156.3 261.2 156.4 261.8 156.6 262.2 156.7 262.8 156.8 263.1 156.8 263.5 156.8 264.0 156.8 264.5 156.8 265.0 156.8 265.5 156.8 266.0 156.8 266.5 156.7 267.0 156.7 267.5 156.6 268.0 156.5 268.5 156.4 269.0 156.2 269.5 156.0 270.0 155.8 270.4 155.5 270.8 155.2 271.1 155.0 271.4 154.8 271.6 154.5 271.9 154.2 272.2 154.0 272.5 153.8 272.9 153.6 273.5 153.6 274.0 153.7 274.5 153.9 275.0 154.0 275.4 154.2 276.0 154.5 276.5 154.7 277.0 155.0 277.5 155.2 278.0 155.2 278.3 155.3 278.8 155.4 279.2 155.4 279.8 155.3 280.2 155.1 280.8 155.0 281.1 154.8 281.5 154.6 282.0 154.3 282.5 154.1 283.0 153.9 283.5 153.6 284.0 153.3 284.5 153.0 284.8 152.5 285.2 152.0 285.5 151.5 285.7 151.0 285.8 150.5 285.9 150.0 286.0 149.5 286.0 149.0 286.0 148.5 286.0 148.0 285.9 147.5 285.8 147.0 285.6 146.5 285.4 146.1 285.2 145.8 285.1 145.2 284.8 144.8 284.5 144.3 284.2 144.0 284.0 143.8 283.8 143.5 283.5 143.3 283.2 143.0 282.9 142.8 282.6 142.5 282.3 142.2 282.0 142.0 281.8 141.8 281.5 141.5 281.2 141.2 280.9 141.0 280.6 140.8 280.2 140.5 279.8 140.3 279.5 140.1 279.0 139.8 278.5 139.6 278.0 139.4 277.5 139.1 277.0 138.9 276.5 138.6 276.0 138.2 275.5 138.0 275.2 137.8 274.9 137.5 274.7 137.2 274.4 137.0 274.1 136.8 273.8 136.5 273.6 136.2 273.3 136.0 273.0 135.8 272.8 135.5 272.5 135.2 272.2 134.9 272.0 134.6 271.8 134.3 271.5 133.9 271.2 133.6 271.0 133.3 270.8 133.0 270.5 132.7 270.2 132.4 270.0 132.0 269.5 131.8 269.2 131.5 268.8 131.3 268.5 131.0 268.1 130.8 267.8 130.5 267.5 130.2 267.1 130.0 266.9 129.8 266.6 129.5 266.3 129.2 266.0 129.0 265.8 128.7 265.5 128.3 265.2 128.0 265.1 127.5 264.8 127.0 264.7 126.5 264.6 126.0 264.4 125.5 264.4 125.0 264.3 124.5 264.2 124.0 264.2 123.5 264.2 123.0 264.1 122.5 264.2 122.0 264.2 121.5 264.2 121.0 264.2 120.5 264.3 120.0 264.3 119.5 264.3 119.0 264.3 118.5 264.4 118.1 264.5 117.8 264.7 117.4 265.0 117.3 265.5 117.4 266.0 117.6 266.5 117.9 267.0 118.2 267.5 118.4 268.0 118.7 268.5 118.8 269.0 119.0 269.5 119.1 270.0 119.2 270.5 119.2 271.0 119.4 271.5 119.5 272.0 119.6 272.5 119.8 272.9 119.9 273.2 120.0 273.6 120.2 274.0 120.3 274.5 120.5 275.0 120.7 275.5 120.8 275.9 120.8 276.5 120.9 277.0 121.0 277.5 121.0 278.0 121.1 278.5 121.2 279.0 121.2 279.5 121.2 280.0 121.1 280.5 121.0 281.0 120.9 281.5 120.8 282.0 120.7 282.5 120.6 283.0 120.5 283.4 120.4 283.8 120.3 284.2 120.2 284.8 120.0 285.2 119.8 285.5 119.5 285.9 119.2 286.1 118.8 286.5 118.5 286.8 118.2 287.0 117.9 287.2 117.6 287.5 117.3 287.8 117.0 288.0 116.8 288.2 116.5 288.5 116.2 288.8 115.9 289.0 115.6 289.2 115.2 289.5 114.8 289.8 114.2 289.9Z"/>
<path d="M112.8 291.0 112.2 291.0 111.8 291.0 111.2 290.9 110.8 290.8 110.2 290.6 109.8 290.4 109.2 290.1 108.8 289.8 108.5 289.5 108.3 289.2 108.0 289.0 107.8 288.7 107.5 288.4 107.2 288.0 107.0 287.6 106.8 287.2 106.6 286.8 106.4 286.2 106.2 285.9 106.1 285.5 106.0 285.0 105.9 284.5 105.8 284.1 105.6 283.8 105.5 283.3 105.3 282.8 105.1 282.2 105.0 281.8 104.9 281.2 104.8 280.8 104.8 280.2 104.8 279.8 104.8 279.2 104.8 278.9 104.7 278.5 104.7 278.0 104.8 277.5 104.8 277.0 104.9 276.5 105.0 276.0 105.1 275.5 105.2 275.0 105.3 274.5 105.4 274.0 105.6 273.5 105.7 273.0 105.8 272.5 105.9 272.0 105.9 271.5 106.0 271.0 105.9 270.5 105.9 270.0 106.0 269.5 106.0 269.1 106.1 268.8 106.2 268.2 106.4 267.8 106.6 267.2 106.7 266.8 106.8 266.2 106.7 265.8 106.3 265.2 106.0 265.0 105.6 264.8 105.2 264.5 104.9 264.2 104.5 264.0 104.2 263.8 104.0 263.5 103.5 263.0 103.2 262.7 103.0 262.4 102.8 262.1 102.5 261.8 102.2 261.4 102.0 261.1 101.8 260.8 101.5 260.3 101.3 259.8 101.2 259.2 101.1 258.8 101.1 258.2 101.1 257.8 101.2 257.2 101.4 256.8 101.7 256.2 102.0 255.8 102.2 255.6 102.6 255.2 102.9 255.0 103.2 254.8 103.5 254.5 103.8 254.3 104.1 254.0 104.5 253.8 104.9 253.5 105.2 253.3 105.8 253.1 106.2 252.9 106.8 252.8 107.2 252.7 107.8 252.6 108.2 252.5 108.8 252.4 109.2 252.4 109.8 252.3 110.2 252.4 110.8 252.4 111.2 252.4 111.8 252.5 112.2 252.5 112.8 252.6 113.2 252.6 113.8 252.5 114.2 252.5 114.8 252.4 115.2 252.3 115.8 252.3 116.2 252.3 116.8 252.3 117.2 252.3 117.8 252.3 118.2 252.3 118.8 252.3 119.2 252.3 119.8 252.2 120.2 252.2 120.8 252.2 121.2 252.1 121.8 252.1 122.2 252.1 122.8 252.1 123.2 252.1 123.8 252.1 124.2 252.1 124.8 252.1 125.2 252.2 125.7 252.2 126.2 252.3 126.8 252.4 127.2 252.5 127.8 252.5 128.2 252.5 128.8 252.6 129.2 252.6 129.8 252.6 130.2 252.6 130.8 252.6 131.2 252.6 131.8 252.6 132.2 252.6 132.8 252.6 133.2 252.6 133.8 252.5 134.2 252.5 134.8 252.5 135.2 252.4 135.8 252.4 136.2 252.4 136.8 252.4 137.2 252.4 137.8 252.4 138.2 252.4 138.8 252.4 139.2 252.4 139.8 252.4 140.2 252.4 140.8 252.4 141.2 252.4 141.8 252.4 142.2 252.4 142.8 252.5 143.1 252.5 143.5 252.5 144.0 252.6 144.5 252.6 145.0 252.6 145.5 252.6 146.0 252.6 146.5 252.6 147.0 252.7 147.5 252.7 148.0 252.9 148.5 253.0 149.0 253.1 149.4 253.2 149.8 253.3 150.2 253.5 150.8 253.6 151.2 253.7 151.8 253.9 152.2 254.1 152.8 254.4 153.2 254.8 153.4 255.0 153.8 255.3 154.0 255.7 154.2 256.0 154.5 256.4 154.7 256.8 155.0 257.1 155.2 257.5 155.5 257.9 155.8 258.4 155.9 258.8 156.1 259.2 156.2 259.6 156.4 260.0 156.5 260.4 156.7 261.0 156.8 261.5 157.0 262.0 157.1 262.5 157.2 263.0 157.2 263.5 157.3 264.0 157.3 264.5 157.3 265.0 157.3 265.5 157.2 266.0 157.2 266.5 157.2 267.0 157.1 267.5 157.1 268.0 157.0 268.5 156.9 269.0 156.8 269.5 156.6 270.0 156.3 270.5 156.0 270.9 155.8 271.2 155.5 271.5 155.2 271.8 155.0 272.1 154.8 272.4 154.5 272.8 154.3 273.2 154.2 273.8 154.2 274.2 154.4 274.8 154.5 275.2 154.7 275.8 155.0 276.2 155.2 276.8 155.5 277.2 155.7 277.8 155.8 278.2 155.9 278.8 156.0 279.2 156.0 279.8 155.9 280.2 155.8 280.8 155.6 281.2 155.4 281.8 155.1 282.2 154.9 282.8 154.6 283.2 154.4 283.8 154.2 284.1 154.0 284.5 153.8 284.9 153.5 285.2 153.2 285.5 152.8 285.8 152.3 286.0 152.0 286.1 151.5 286.3 151.0 286.5 150.5 286.6 150.0 286.6 149.5 286.7 149.0 286.7 148.5 286.6 148.0 286.5 147.5 286.4 147.0 286.3 146.5 286.1 146.0 285.9 145.5 285.6 145.0 285.4 144.5 285.1 144.0 284.8 143.7 284.5 143.4 284.2 143.1 284.0 142.9 283.8 142.5 283.4 142.2 283.1 142.0 282.8 141.8 282.5 141.5 282.2 141.2 281.9 141.0 281.5 140.8 281.2 140.5 280.8 140.3 280.5 140.0 280.0 139.8 279.5 139.5 279.0 139.3 278.5 139.0 278.0 138.8 277.5 138.5 277.0 138.2 276.6 138.0 276.2 137.8 275.9 137.5 275.6 137.2 275.3 137.0 275.0 136.8 274.7 136.5 274.4 136.2 274.1 136.0 273.8 135.8 273.5 135.5 273.3 135.2 273.0 135.0 272.8 134.7 272.5 134.4 272.2 134.0 272.0 133.7 271.8 133.3 271.5 133.0 271.2 132.8 271.0 132.4 270.8 132.2 270.5 131.8 270.0 131.5 269.8 131.2 269.4 131.0 269.1 130.8 268.8 130.5 268.4 130.2 268.0 130.0 267.8 129.8 267.4 129.5 267.1 129.2 266.9 129.0 266.6 128.8 266.4 128.4 266.0 128.0 265.8 127.6 265.5 127.2 265.3 126.8 265.1 126.4 265.0 126.0 264.9 125.5 264.8 125.0 264.7 124.5 264.6 124.0 264.6 123.5 264.6 123.0 264.6 122.5 264.6 122.0 264.6 121.5 264.7 121.0 264.7 120.5 264.8 120.0 264.9 119.5 265.0 119.0 265.2 118.6 265.5 118.5 266.0 118.7 266.5 118.9 267.0 119.1 267.5 119.2 268.0 119.4 268.5 119.5 269.0 119.6 269.5 119.7 270.0 119.8 270.5 119.9 271.0 120.0 271.5 120.2 272.0 120.4 272.5 120.5 272.9 120.7 273.5 120.9 274.0 121.0 274.4 121.1 274.8 121.2 275.2 121.3 275.8 121.4 276.2 121.5 276.8 121.5 277.2 121.6 277.8 121.7 278.2 121.7 278.8 121.8 279.2 121.8 279.8 121.7 280.2 121.7 280.8 121.6 281.2 121.5 281.8 121.4 282.2 121.4 282.8 121.3 283.2 121.2 283.7 121.2 284.2 121.1 284.8 120.9 285.2 120.6 285.8 120.3 286.2 120.0 286.6 119.5 287.0 119.2 287.2 119.0 287.5 118.7 287.8 118.4 288.0 118.1 288.2 117.8 288.5 117.5 288.8 117.3 289.0 117.0 289.2 116.7 289.5 116.4 289.8 116.1 290.0 115.8 290.2 115.2 290.5 114.8 290.7 114.2 290.8 113.8 290.9 113.2 291.0 112.8 291.0Z"/>
<path d="M113.8 291.8 113.2 291.9 112.8 291.9 112.2 291.9 111.8 291.9 111.2 291.8 110.8 291.7 110.2 291.6 109.8 291.4 109.2 291.1 108.8 290.8 108.3 290.5 108.1 290.2 107.8 289.9 107.5 289.5 107.3 289.2 107.0 288.8 106.8 288.5 106.5 288.0 106.2 287.5 106.0 287.0 105.8 286.5 105.7 286.0 105.5 285.5 105.3 285.0 105.2 284.5 105.0 284.0 104.9 283.5 104.7 283.0 104.5 282.5 104.4 282.0 104.3 281.5 104.2 281.0 104.2 280.5 104.2 280.0 104.2 279.5 104.2 279.0 104.2 278.5 104.2 278.0 104.2 277.5 104.2 277.0 104.3 276.5 104.4 276.0 104.5 275.5 104.6 275.0 104.6 274.5 104.8 274.0 104.9 273.5 105.0 273.0 105.1 272.5 105.2 272.0 105.3 271.5 105.3 271.0 105.3 270.5 105.3 270.0 105.4 269.5 105.4 269.0 105.5 268.5 105.6 268.0 105.7 267.5 105.8 267.0 105.9 266.5 105.8 266.0 105.5 265.5 105.3 265.2 105.0 265.0 104.7 264.8 104.4 264.5 104.1 264.2 103.8 264.0 103.5 263.8 103.2 263.4 103.0 263.1 102.8 262.8 102.5 262.5 102.3 262.2 102.0 261.9 101.8 261.6 101.5 261.3 101.2 260.9 101.0 260.5 100.8 260.0 100.8 259.7 100.7 259.2 100.6 258.8 100.6 258.2 100.6 257.8 100.7 257.2 100.9 256.8 101.1 256.2 101.4 255.8 101.8 255.4 102.0 255.1 102.4 254.8 102.7 254.5 103.0 254.3 103.3 254.0 103.6 253.8 104.0 253.5 104.2 253.3 104.8 253.0 105.2 252.8 105.8 252.6 106.2 252.5 106.8 252.4 107.2 252.3 107.8 252.2 108.2 252.1 108.8 252.0 109.2 252.0 109.8 251.9 110.2 251.9 110.8 252.0 111.2 252.0 111.8 252.0 112.2 252.1 112.8 252.1 113.2 252.0 113.8 252.0 114.2 252.0 114.8 251.9 115.2 251.9 115.8 251.9 116.2 251.9 116.8 251.9 117.2 251.9 117.8 251.9 118.2 251.9 118.8 251.9 119.2 251.9 119.8 251.8 120.2 251.8 120.8 251.8 121.2 251.8 121.8 251.7 122.2 251.7 122.8 251.7 123.2 251.7 123.8 251.7 124.2 251.8 124.8 251.8 125.2 251.8 125.8 251.9 126.2 252.0 126.8 252.0 127.2 252.1 127.8 252.1 128.2 252.2 128.8 252.2 129.2 252.2 129.8 252.2 130.2 252.2 130.8 252.2 131.2 252.2 131.8 252.2 132.2 252.2 132.8 252.1 133.2 252.1 133.8 252.1 134.2 252.0 134.8 252.0 135.2 252.0 135.8 252.0 136.2 252.0 136.8 252.0 137.2 251.9 137.8 252.0 138.2 252.0 138.8 252.0 139.2 252.0 139.8 252.0 140.2 252.0 140.8 252.0 141.2 252.0 141.8 252.0 142.2 252.0 142.8 252.1 143.2 252.1 143.8 252.2 144.2 252.2 144.8 252.2 145.2 252.2 145.8 252.2 146.2 252.2 146.6 252.2 147.0 252.3 147.5 252.3 148.0 252.4 148.5 252.6 149.0 252.7 149.5 252.8 150.0 253.0 150.5 253.1 151.0 253.2 151.5 253.3 151.9 253.5 152.4 253.8 152.8 253.9 153.2 254.2 153.5 254.5 153.8 254.7 154.0 255.0 154.2 255.3 154.5 255.6 154.8 256.0 155.0 256.3 155.2 256.7 155.5 257.1 155.7 257.5 156.0 258.0 156.2 258.5 156.5 259.0 156.6 259.5 156.8 259.9 156.9 260.2 157.0 260.8 157.1 261.2 157.2 261.6 157.4 262.0 157.5 262.5 157.6 263.0 157.7 263.5 157.7 264.0 157.7 264.5 157.7 265.0 157.7 265.5 157.7 266.0 157.6 266.5 157.6 267.0 157.6 267.5 157.5 268.0 157.5 268.5 157.4 269.0 157.2 269.4 157.1 269.8 156.9 270.2 156.6 270.8 156.3 271.2 156.0 271.6 155.8 271.9 155.5 272.2 155.2 272.6 155.0 273.0 154.8 273.5 154.8 274.0 154.8 274.5 155.0 275.0 155.2 275.5 155.4 276.0 155.7 276.5 155.9 277.0 156.1 277.5 156.2 277.9 156.4 278.2 156.4 278.8 156.5 279.2 156.5 279.8 156.5 280.2 156.4 280.8 156.2 281.1 156.1 281.5 155.9 282.0 155.6 282.5 155.4 283.0 155.1 283.5 154.9 284.0 154.8 284.3 154.5 284.8 154.2 285.2 154.0 285.5 153.8 285.7 153.4 286.0 153.0 286.2 152.6 286.5 152.2 286.7 151.8 286.9 151.2 287.0 150.8 287.1 150.2 287.2 149.8 287.2 149.2 287.2 148.8 287.2 148.2 287.2 147.8 287.1 147.2 286.9 146.8 286.8 146.2 286.6 145.8 286.4 145.2 286.1 144.8 285.9 144.2 285.6 143.8 285.3 143.4 285.0 143.1 284.8 142.8 284.5 142.6 284.2 142.3 284.0 142.0 283.7 141.8 283.4 141.5 283.1 141.2 282.8 141.0 282.4 140.8 282.1 140.5 281.8 140.2 281.3 140.0 281.0 139.8 280.5 139.5 280.1 139.2 279.6 139.1 279.2 138.8 278.8 138.6 278.2 138.3 277.8 138.0 277.2 137.8 276.8 137.5 276.5 137.2 276.2 137.0 275.8 136.8 275.5 136.5 275.2 136.2 274.9 136.0 274.6 135.8 274.3 135.5 274.0 135.3 273.8 135.0 273.5 134.8 273.3 134.5 273.0 134.1 272.8 133.8 272.5 133.5 272.3 133.1 272.0 132.8 271.8 132.5 271.5 132.2 271.3 132.0 271.0 131.7 270.8 131.2 270.3 131.0 270.0 130.8 269.6 130.5 269.3 130.3 269.0 130.0 268.6 129.8 268.3 129.5 268.0 129.3 267.8 129.0 267.5 128.8 267.2 128.5 266.9 128.2 266.7 127.8 266.2 127.4 266.0 127.0 265.8 126.5 265.5 126.0 265.4 125.6 265.2 125.0 265.1 124.5 265.1 124.0 265.0 123.5 265.0 123.0 265.0 122.5 265.0 122.0 265.1 121.5 265.2 121.1 265.2 120.8 265.4 120.4 265.5 120.0 265.7 119.8 266.0 119.7 266.5 119.8 266.9 119.9 267.5 120.0 267.9 120.1 268.2 120.2 268.8 120.3 269.2 120.4 269.8 120.4 270.2 120.5 270.8 120.7 271.2 120.8 271.8 120.9 272.2 121.1 272.8 121.2 273.2 121.4 273.8 121.6 274.2 121.7 274.8 121.8 275.2 121.9 275.8 122.0 276.2 122.0 276.8 122.1 277.2 122.2 277.8 122.2 278.2 122.3 278.8 122.3 279.2 122.3 279.8 122.3 280.2 122.3 280.8 122.2 281.2 122.1 281.8 122.1 282.2 122.0 282.8 122.0 283.2 122.0 283.8 121.9 284.2 121.8 284.8 121.7 285.2 121.5 285.7 121.3 286.0 121.0 286.5 120.8 286.9 120.5 287.2 120.2 287.4 120.0 287.7 119.8 287.9 119.5 288.2 119.2 288.5 119.0 288.7 118.8 289.0 118.5 289.2 118.2 289.5 118.0 289.8 117.7 290.0 117.4 290.2 117.1 290.5 116.8 290.7 116.3 291.0 116.0 291.2 115.5 291.4 115.1 291.5 114.8 291.6 114.2 291.7 113.8 291.8Z"/>
<path d="M113.2 292.8 112.8 292.8 112.2 292.8 111.8 292.8 111.2 292.6 110.8 292.5 110.2 292.4 109.9 292.2 109.5 292.1 109.0 291.9 108.5 291.6 108.0 291.3 107.7 291.0 107.3 290.5 107.0 290.0 106.8 289.6 106.5 289.2 106.2 288.8 106.0 288.3 105.8 288.0 105.6 287.5 105.4 287.0 105.2 286.6 105.0 286.0 104.9 285.5 104.7 285.0 104.5 284.6 104.3 284.0 104.1 283.5 104.0 283.1 103.9 282.8 103.8 282.2 103.7 281.8 103.6 281.2 103.6 280.8 103.6 280.2 103.6 279.8 103.6 279.2 103.6 278.8 103.6 278.2 103.6 277.8 103.6 277.2 103.7 276.8 103.7 276.2 103.8 275.8 103.9 275.2 104.0 274.8 104.1 274.2 104.2 273.8 104.3 273.2 104.4 272.8 104.5 272.3 104.6 271.8 104.7 271.2 104.7 270.8 104.8 270.2 104.8 269.8 104.8 269.2 104.9 268.8 105.0 268.2 105.1 267.8 105.1 267.2 105.2 266.8 105.1 266.2 104.9 265.8 104.5 265.3 104.2 265.0 104.0 264.8 103.7 264.5 103.4 264.2 103.0 263.8 102.8 263.5 102.5 263.2 102.2 262.9 102.0 262.6 101.8 262.3 101.5 262.0 101.2 261.7 101.0 261.3 100.8 261.0 100.5 260.5 100.4 260.0 100.3 259.5 100.2 259.0 100.2 258.5 100.2 258.0 100.2 257.5 100.3 257.0 100.5 256.5 100.8 256.0 101.0 255.6 101.2 255.3 101.5 255.0 101.8 254.7 102.2 254.3 102.6 254.0 102.9 253.8 103.2 253.5 103.5 253.2 103.8 253.0 104.2 252.8 104.7 252.5 105.2 252.3 105.8 252.2 106.2 252.1 106.6 252.0 107.0 251.9 107.5 251.8 108.0 251.8 108.5 251.7 109.0 251.6 109.5 251.6 110.0 251.6 110.5 251.6 111.0 251.6 111.5 251.6 112.0 251.6 112.5 251.6 113.0 251.6 113.5 251.6 114.0 251.5 114.5 251.5 115.0 251.5 115.5 251.5 116.0 251.5 116.5 251.5 117.0 251.5 117.5 251.6 118.0 251.6 118.5 251.5 119.0 251.5 119.5 251.5 120.0 251.5 120.5 251.4 121.0 251.4 121.5 251.4 122.0 251.4 122.5 251.4 123.0 251.4 123.5 251.4 124.0 251.4 124.5 251.4 125.0 251.4 125.5 251.5 126.0 251.6 126.5 251.6 127.0 251.7 127.5 251.7 128.0 251.8 128.5 251.8 129.0 251.8 129.5 251.8 130.0 251.8 130.5 251.8 131.0 251.8 131.5 251.8 132.0 251.8 132.5 251.7 133.0 251.7 133.5 251.7 134.0 251.6 134.5 251.6 135.0 251.6 135.5 251.6 136.0 251.6 136.5 251.6 137.0 251.6 137.5 251.6 138.0 251.6 138.5 251.6 139.0 251.6 139.5 251.6 140.0 251.6 140.5 251.6 141.0 251.6 141.5 251.6 142.0 251.6 142.5 251.7 143.0 251.8 143.5 251.8 144.0 251.8 144.5 251.9 145.0 251.9 145.5 251.9 146.0 251.9 146.5 251.9 147.0 251.9 147.5 252.0 148.0 252.1 148.5 252.2 149.0 252.3 149.5 252.4 150.0 252.5 150.5 252.6 150.9 252.8 151.5 252.9 152.0 253.1 152.4 253.2 152.8 253.5 153.2 253.8 153.5 254.0 153.8 254.2 154.1 254.5 154.5 255.0 154.7 255.2 155.0 255.6 155.2 255.9 155.5 256.2 155.8 256.7 156.0 257.1 156.2 257.5 156.5 258.0 156.7 258.5 156.9 259.0 157.0 259.4 157.1 259.8 157.2 260.2 157.4 260.8 157.5 261.2 157.6 261.5 157.7 262.0 157.9 262.5 158.0 263.0 158.0 263.5 158.1 264.0 158.1 264.5 158.1 265.0 158.1 265.5 158.1 266.0 158.0 266.5 158.0 267.0 158.0 267.5 157.9 268.0 157.9 268.5 157.8 269.0 157.6 269.5 157.5 269.9 157.4 270.2 157.1 270.8 156.8 271.2 156.5 271.7 156.2 272.0 156.0 272.3 155.8 272.7 155.6 273.0 155.4 273.5 155.3 274.0 155.4 274.5 155.5 275.0 155.7 275.5 155.9 276.0 156.2 276.5 156.4 277.0 156.6 277.5 156.7 278.0 156.9 278.5 156.9 279.0 157.0 279.5 157.0 280.0 157.0 280.5 156.9 281.0 156.8 281.3 156.6 281.8 156.4 282.2 156.1 282.8 155.8 283.2 155.6 283.8 155.4 284.2 155.1 284.8 154.8 285.2 154.5 285.7 154.2 286.0 153.9 286.2 153.6 286.5 153.2 286.7 152.8 287.0 152.2 287.2 151.8 287.4 151.2 287.5 150.8 287.6 150.2 287.7 149.8 287.7 149.2 287.7 148.8 287.7 148.2 287.7 147.8 287.6 147.4 287.5 147.0 287.4 146.6 287.2 146.2 287.1 145.8 286.9 145.3 286.8 145.0 286.6 144.5 286.3 144.0 286.0 143.6 285.8 143.2 285.5 142.9 285.2 142.7 285.0 142.4 284.8 142.1 284.5 141.9 284.2 141.5 283.9 141.2 283.6 141.0 283.3 140.8 282.9 140.5 282.6 140.3 282.2 140.0 281.8 139.8 281.4 139.5 281.0 139.3 280.5 139.0 280.0 138.8 279.6 138.6 279.2 138.3 278.8 138.0 278.2 137.8 277.8 137.5 277.4 137.2 277.0 137.0 276.7 136.8 276.4 136.5 276.0 136.3 275.8 136.0 275.4 135.8 275.1 135.5 274.8 135.2 274.5 135.0 274.2 134.8 273.9 134.3 273.5 134.0 273.3 133.7 273.0 133.3 272.8 133.0 272.5 132.7 272.2 132.4 272.0 132.1 271.8 131.8 271.5 131.5 271.2 131.3 271.0 131.0 270.7 130.8 270.4 130.5 270.2 130.2 269.8 130.0 269.5 129.8 269.2 129.5 268.9 129.2 268.6 129.0 268.3 128.8 268.0 128.5 267.8 128.2 267.5 128.0 267.2 127.8 266.9 127.3 266.5 126.9 266.2 126.5 266.0 126.0 265.8 125.5 265.7 125.0 265.6 124.5 265.5 124.0 265.4 123.5 265.4 123.0 265.4 122.5 265.5 122.0 265.6 121.5 265.7 121.0 266.0 120.8 266.3 120.6 266.8 120.6 267.2 120.7 267.8 120.8 268.2 120.9 268.8 121.0 269.2 121.1 269.8 121.1 270.2 121.2 270.8 121.3 271.2 121.5 271.8 121.6 272.2 121.7 272.8 121.9 273.2 122.0 273.7 122.1 274.2 122.2 274.7 122.4 275.2 122.4 275.8 122.5 276.2 122.6 276.8 122.6 277.2 122.7 277.8 122.8 278.2 122.8 278.8 122.9 279.2 122.9 279.8 122.9 280.2 122.8 280.8 122.8 281.2 122.8 281.6 122.7 282.0 122.7 282.5 122.7 283.0 122.6 283.5 122.6 284.0 122.5 284.5 122.4 285.0 122.3 285.5 122.1 286.0 121.8 286.5 121.5 287.0 121.2 287.4 121.0 287.7 120.8 288.0 120.5 288.2 120.2 288.6 120.0 288.9 119.8 289.2 119.5 289.5 119.2 289.8 119.0 290.1 118.8 290.4 118.3 290.8 118.0 291.0 117.7 291.2 117.4 291.5 117.0 291.7 116.6 292.0 116.0 292.2 115.5 292.4 115.0 292.5 114.5 292.6 114.0 292.7 113.5 292.7Z"/>
<path d="M114.5 293.5 114.0 293.6 113.5 293.7 113.0 293.7 112.5 293.7 112.0 293.6 111.6 293.5 111.2 293.4 110.8 293.2 110.2 293.1 109.8 292.9 109.3 292.8 108.8 292.6 108.2 292.3 107.8 292.0 107.4 291.8 107.0 291.3 106.8 290.9 106.5 290.5 106.3 290.0 106.0 289.5 105.8 289.1 105.5 288.6 105.3 288.2 105.1 287.8 104.9 287.2 104.8 286.9 104.6 286.5 104.4 286.0 104.2 285.7 104.1 285.2 103.8 284.8 103.7 284.2 103.5 283.8 103.3 283.2 103.2 282.8 103.1 282.2 103.0 281.8 103.0 281.2 102.9 280.8 102.9 280.2 102.9 279.8 103.0 279.2 103.0 278.8 103.0 278.2 103.0 277.9 103.0 277.5 103.1 277.0 103.1 276.5 103.2 276.0 103.2 275.6 103.3 275.2 103.4 274.8 103.5 274.2 103.6 273.8 103.7 273.2 103.8 272.9 103.8 272.5 103.9 272.0 104.0 271.6 104.1 271.0 104.2 270.5 104.2 270.0 104.3 269.5 104.3 269.0 104.4 268.5 104.5 268.0 104.5 267.5 104.6 267.0 104.5 266.5 104.4 266.0 104.1 265.5 103.8 265.2 103.5 264.9 103.2 264.6 103.0 264.4 102.8 264.1 102.5 263.8 102.2 263.6 102.0 263.3 101.8 263.0 101.5 262.7 101.2 262.4 101.0 262.1 100.8 261.8 100.5 261.3 100.3 261.0 100.1 260.5 99.9 260.0 99.8 259.5 99.8 259.0 99.7 258.5 99.7 258.0 99.8 257.5 99.9 257.0 100.1 256.5 100.2 256.1 100.4 255.8 100.8 255.3 101.0 254.9 101.2 254.6 101.5 254.4 101.8 254.1 102.2 253.8 102.5 253.5 102.8 253.3 103.1 253.0 103.4 252.8 103.8 252.5 104.2 252.2 104.8 252.0 105.2 251.9 105.8 251.8 106.2 251.7 106.8 251.6 107.2 251.5 107.8 251.4 108.2 251.4 108.8 251.3 109.2 251.3 109.8 251.2 110.2 251.2 110.8 251.2 111.2 251.2 111.8 251.2 112.2 251.2 112.8 251.2 113.2 251.2 113.8 251.2 114.2 251.1 114.8 251.1 115.2 251.1 115.8 251.2 116.2 251.2 116.8 251.2 117.2 251.2 117.8 251.2 118.2 251.2 118.8 251.2 119.2 251.2 119.8 251.1 120.2 251.1 120.8 251.1 121.2 251.1 121.8 251.1 122.2 251.1 122.8 251.1 123.2 251.1 123.8 251.1 124.2 251.1 124.8 251.1 125.2 251.1 125.8 251.2 126.2 251.2 126.8 251.3 127.2 251.3 127.8 251.4 128.2 251.4 128.8 251.4 129.2 251.4 129.8 251.4 130.2 251.4 130.8 251.4 131.2 251.4 131.8 251.4 132.2 251.3 132.8 251.3 133.2 251.3 133.8 251.3 134.2 251.2 134.8 251.2 135.2 251.2 135.8 251.2 136.2 251.2 136.8 251.2 137.2 251.2 137.8 251.2 138.2 251.2 138.8 251.2 139.2 251.2 139.8 251.2 140.2 251.2 140.8 251.2 141.2 251.2 141.8 251.3 142.2 251.3 142.8 251.4 143.2 251.4 143.8 251.5 144.2 251.5 144.8 251.5 145.2 251.5 145.8 251.5 146.2 251.5 146.8 251.6 147.2 251.6 147.8 251.6 148.2 251.7 148.8 251.9 149.2 252.0 149.8 252.1 150.2 252.2 150.8 252.3 151.2 252.4 151.8 252.6 152.2 252.8 152.7 253.0 153.1 253.2 153.5 253.5 153.8 253.8 154.1 254.0 154.4 254.2 154.6 254.5 155.0 254.9 155.2 255.2 155.5 255.6 155.8 256.0 156.0 256.3 156.2 256.7 156.5 257.2 156.7 257.5 156.9 258.0 157.1 258.5 157.2 258.9 157.4 259.5 157.6 260.0 157.7 260.5 157.8 261.0 158.0 261.5 158.1 262.0 158.2 262.5 158.3 263.0 158.4 263.5 158.5 264.0 158.5 264.5 158.5 265.0 158.5 265.5 158.5 266.0 158.4 266.5 158.4 267.0 158.4 267.5 158.3 268.0 158.2 268.4 158.1 269.0 158.0 269.5 157.9 270.0 157.6 270.5 157.4 271.0 157.1 271.5 156.8 272.0 156.5 272.3 156.2 272.7 156.0 273.2 155.8 273.8 155.8 274.2 155.9 274.8 156.1 275.2 156.2 275.7 156.4 276.0 156.6 276.5 156.8 277.0 157.0 277.5 157.2 278.0 157.2 278.4 157.3 278.8 157.4 279.2 157.4 279.8 157.5 280.2 157.4 280.8 157.3 281.2 157.2 281.8 157.0 282.1 156.8 282.5 156.6 283.0 156.3 283.5 156.1 284.0 155.8 284.5 155.6 285.0 155.3 285.5 155.0 285.9 154.8 286.2 154.5 286.4 154.1 286.8 153.8 287.0 153.4 287.2 153.0 287.5 152.5 287.7 152.0 287.9 151.5 288.0 151.0 288.1 150.5 288.2 150.0 288.2 149.5 288.2 149.0 288.2 148.5 288.2 148.0 288.1 147.5 288.0 147.0 287.9 146.6 287.8 146.0 287.6 145.5 287.4 145.0 287.1 144.5 286.9 144.0 286.6 143.5 286.3 143.1 286.0 142.8 285.8 142.5 285.5 142.2 285.3 142.0 285.0 141.7 284.8 141.5 284.5 141.0 284.0 140.8 283.7 140.5 283.4 140.2 283.0 140.0 282.6 139.8 282.2 139.5 281.8 139.2 281.3 139.1 281.0 138.8 280.5 138.5 280.0 138.2 279.5 138.0 279.1 137.8 278.8 137.5 278.2 137.2 277.9 137.0 277.5 136.8 277.1 136.5 276.8 136.3 276.5 136.0 276.2 135.8 275.8 135.5 275.5 135.2 275.2 135.0 274.9 134.8 274.6 134.5 274.3 134.2 274.0 133.9 273.8 133.6 273.5 133.2 273.3 132.9 273.0 132.6 272.8 132.2 272.5 131.9 272.2 131.6 272.0 131.4 271.8 131.1 271.5 130.8 271.2 130.5 270.9 130.2 270.6 130.0 270.3 129.8 270.1 129.5 269.8 129.2 269.5 129.0 269.1 128.8 268.8 128.5 268.5 128.3 268.2 128.0 268.0 127.8 267.7 127.5 267.4 127.2 267.2 126.8 266.8 126.4 266.5 126.0 266.3 125.5 266.1 125.1 266.0 124.5 265.9 124.0 265.9 123.5 265.9 123.0 265.9 122.6 266.0 122.2 266.1 121.8 266.4 121.5 266.8 121.4 267.2 121.5 267.8 121.5 268.2 121.6 268.8 121.7 269.2 121.8 269.7 121.8 270.2 121.9 270.8 122.0 271.2 122.1 271.8 122.2 272.2 122.3 272.8 122.4 273.2 122.6 273.8 122.7 274.2 122.8 274.6 122.8 275.0 122.9 275.5 123.0 276.0 123.0 276.5 123.1 277.0 123.2 277.5 123.2 278.0 123.3 278.5 123.4 279.0 123.4 279.5 123.4 280.0 123.4 280.5 123.4 281.0 123.3 281.5 123.3 282.0 123.3 282.5 123.2 283.0 123.2 283.5 123.2 284.0 123.1 284.5 123.0 285.0 122.9 285.5 122.7 286.0 122.5 286.4 122.2 287.0 122.0 287.4 121.8 287.7 121.5 288.1 121.2 288.4 121.0 288.7 120.8 289.0 120.5 289.3 120.2 289.7 120.0 290.0 119.8 290.4 119.5 290.7 119.2 291.0 119.0 291.2 118.7 291.5 118.4 291.8 118.1 292.0 117.8 292.2 117.4 292.5 117.0 292.7 116.5 293.0 116.0 293.2 115.5 293.3 115.0 293.4 114.5 293.5Z"/>
<path d="M115.0 294.3 114.5 294.4 114.0 294.4 113.5 294.5 113.0 294.5 112.5 294.4 112.0 294.3 111.5 294.2 111.0 294.0 110.5 293.8 110.0 293.6 109.6 293.5 109.2 293.4 108.9 293.2 108.5 293.1 108.0 292.9 107.7 292.8 107.3 292.5 107.0 292.3 106.8 292.0 106.5 291.7 106.2 291.3 106.0 290.8 105.8 290.3 105.5 289.8 105.2 289.3 105.0 288.8 104.8 288.5 104.6 288.0 104.4 287.5 104.2 287.2 104.1 286.8 103.8 286.2 103.6 285.8 103.4 285.2 103.2 284.8 103.0 284.3 102.8 283.8 102.8 283.4 102.6 283.0 102.5 282.5 102.4 282.0 102.3 281.5 102.3 281.0 102.3 280.5 102.3 280.0 102.3 279.5 102.4 279.0 102.4 278.5 102.4 278.0 102.5 277.5 102.5 277.0 102.6 276.5 102.6 276.0 102.7 275.5 102.8 275.0 102.9 274.5 103.0 274.0 103.1 273.5 103.1 273.0 103.2 272.5 103.3 272.0 103.4 271.5 103.5 271.0 103.6 270.5 103.7 270.0 103.8 269.5 103.8 269.0 103.9 268.5 104.0 268.0 104.0 267.5 104.0 267.0 104.0 266.6 103.8 266.0 103.5 265.5 103.3 265.2 103.0 264.9 102.8 264.7 102.5 264.4 102.2 264.1 102.0 263.9 101.8 263.6 101.5 263.3 101.3 263.0 101.0 262.7 100.8 262.4 100.5 262.1 100.3 261.8 100.0 261.2 99.8 260.8 99.6 260.2 99.5 259.8 99.4 259.2 99.4 258.8 99.3 258.2 99.4 257.8 99.4 257.2 99.6 256.8 99.7 256.2 100.0 255.8 100.2 255.3 100.5 255.0 100.8 254.6 101.0 254.3 101.2 254.0 101.5 253.8 101.8 253.5 102.1 253.2 102.4 253.0 102.7 252.8 103.0 252.5 103.4 252.2 103.8 252.0 104.2 251.8 104.8 251.6 105.2 251.5 105.8 251.3 106.2 251.3 106.8 251.2 107.2 251.1 107.8 251.1 108.2 251.0 108.8 251.0 109.2 250.9 109.8 250.9 110.2 250.9 110.8 250.9 111.2 250.9 111.8 250.9 112.2 250.8 112.8 250.8 113.2 250.8 113.8 250.8 114.2 250.8 114.8 250.8 115.2 250.8 115.8 250.8 116.2 250.8 116.8 250.9 117.2 250.9 117.8 250.9 118.2 250.9 118.8 250.8 119.2 250.8 119.8 250.8 120.2 250.8 120.8 250.8 121.2 250.8 121.8 250.8 122.2 250.8 122.7 250.8 123.2 250.7 123.8 250.7 124.2 250.7 124.8 250.7 125.2 250.8 125.8 250.8 126.2 250.9 126.8 250.9 127.2 251.0 127.8 251.0 128.2 251.1 128.8 251.1 129.2 251.1 129.8 251.1 130.2 251.1 130.8 251.0 131.2 251.0 131.6 251.0 132.0 251.0 132.5 251.0 133.0 250.9 133.5 250.9 134.0 250.9 134.5 250.9 135.0 250.8 135.5 250.8 136.0 250.9 136.5 250.9 137.0 250.9 137.5 250.9 138.0 250.9 138.5 250.9 139.0 250.9 139.5 250.9 140.0 250.9 140.5 250.9 141.0 250.9 141.5 250.9 142.0 251.0 142.5 251.0 143.0 251.1 143.5 251.1 144.0 251.2 144.5 251.2 145.0 251.2 145.5 251.2 146.0 251.2 146.5 251.2 147.0 251.2 147.5 251.3 148.0 251.3 148.5 251.4 149.0 251.5 149.5 251.7 149.9 251.8 150.5 251.9 151.0 252.0 151.5 252.1 152.0 252.2 152.5 252.5 153.0 252.7 153.4 253.0 153.8 253.2 154.1 253.5 154.4 253.8 154.6 254.0 154.9 254.2 155.2 254.7 155.5 255.0 155.7 255.2 156.0 255.6 156.2 256.0 156.5 256.4 156.7 256.8 157.0 257.2 157.2 257.8 157.4 258.2 157.6 258.8 157.7 259.2 157.9 259.8 158.0 260.2 158.1 260.8 158.2 261.2 158.4 261.8 158.5 262.2 158.6 262.8 158.7 263.2 158.8 263.8 158.8 264.2 158.8 264.8 158.9 265.2 158.9 265.8 158.8 266.2 158.8 266.8 158.8 267.2 158.7 267.8 158.7 268.2 158.6 268.8 158.5 269.2 158.3 269.8 158.1 270.2 157.9 270.8 157.8 271.1 157.5 271.5 157.2 271.9 157.0 272.2 156.8 272.7 156.5 273.2 156.3 273.8 156.3 274.2 156.4 274.8 156.5 275.2 156.7 275.8 156.9 276.2 157.2 276.8 157.3 277.2 157.5 277.8 157.6 278.2 157.7 278.8 157.8 279.2 157.9 279.8 157.9 280.2 157.9 280.8 157.8 281.2 157.8 281.6 157.6 282.0 157.4 282.5 157.1 283.0 156.9 283.5 156.6 284.0 156.4 284.5 156.1 285.0 155.8 285.5 155.5 286.0 155.2 286.3 155.0 286.6 154.8 286.9 154.3 287.2 153.9 287.5 153.5 287.8 153.0 288.0 152.5 288.2 152.0 288.4 151.5 288.5 151.0 288.6 150.5 288.6 150.0 288.7 149.5 288.7 149.0 288.7 148.5 288.7 148.0 288.6 147.5 288.5 147.0 288.4 146.5 288.2 146.0 288.1 145.5 287.9 145.0 287.7 144.6 287.5 144.2 287.3 143.8 287.0 143.3 286.8 143.0 286.5 142.7 286.2 142.4 286.0 142.1 285.8 141.8 285.5 141.6 285.2 141.3 285.0 141.0 284.7 140.8 284.4 140.5 284.1 140.2 283.8 140.0 283.4 139.8 283.0 139.5 282.6 139.3 282.2 139.0 281.8 138.8 281.2 138.5 280.8 138.2 280.3 138.1 280.0 137.8 279.5 137.5 279.1 137.3 278.8 137.0 278.3 136.8 277.9 136.5 277.5 136.3 277.2 136.0 276.9 135.8 276.6 135.5 276.2 135.2 275.9 135.0 275.6 134.8 275.2 134.5 275.0 134.2 274.7 134.0 274.4 133.5 274.0 133.2 273.8 132.8 273.5 132.5 273.2 132.2 273.0 131.9 272.8 131.6 272.5 131.3 272.2 131.0 272.0 130.7 271.8 130.5 271.5 130.2 271.2 130.0 271.0 129.5 270.5 129.2 270.2 129.0 269.9 128.8 269.6 128.5 269.3 128.2 269.0 128.0 268.7 127.8 268.4 127.5 268.1 127.2 267.8 127.0 267.6 126.7 267.2 126.3 267.0 126.0 266.8 125.5 266.6 125.0 266.4 124.5 266.4 124.0 266.3 123.5 266.4 123.0 266.5 122.6 266.8 122.3 267.2 122.2 267.8 122.2 268.2 122.3 268.8 122.3 269.2 122.4 269.8 122.5 270.2 122.5 270.8 122.6 271.2 122.7 271.8 122.8 272.2 122.9 272.8 123.0 273.2 123.1 273.8 123.2 274.2 123.2 274.7 123.3 275.2 123.4 275.8 123.5 276.2 123.6 276.8 123.6 277.2 123.7 277.8 123.8 278.2 123.9 278.8 123.9 279.2 123.9 279.8 123.9 280.2 123.9 280.8 123.9 281.2 123.8 281.8 123.8 282.2 123.8 282.8 123.8 283.2 123.7 283.8 123.7 284.2 123.6 284.8 123.5 285.2 123.3 285.8 123.2 286.2 123.0 286.7 122.8 287.0 122.6 287.5 122.3 288.0 122.0 288.4 121.8 288.7 121.5 289.0 121.2 289.3 121.0 289.6 120.8 290.0 120.5 290.4 120.2 290.7 120.0 291.1 119.8 291.4 119.5 291.7 119.2 291.9 118.9 292.2 118.6 292.5 118.2 292.7 117.9 293.0 117.5 293.2 117.1 293.5 116.5 293.8 116.0 294.0 115.5 294.1 115.1 294.2Z"/>
<path d="M114.8 295.0 114.2 295.1 113.8 295.2 113.2 295.2 112.8 295.2 112.2 295.1 111.9 295.0 111.5 294.9 111.0 294.7 110.6 294.5 110.2 294.4 109.8 294.2 109.3 294.0 108.8 293.8 108.2 293.6 107.9 293.5 107.5 293.3 107.0 293.0 106.6 292.8 106.4 292.5 106.0 292.0 105.8 291.6 105.6 291.2 105.3 290.8 105.1 290.2 104.8 289.8 104.6 289.2 104.3 288.8 104.1 288.2 103.9 287.8 103.6 287.2 103.5 286.9 103.3 286.5 103.1 286.0 102.9 285.5 102.7 285.0 102.5 284.5 102.3 284.0 102.2 283.6 102.1 283.2 102.0 282.8 101.9 282.2 101.8 281.8 101.7 281.2 101.7 280.8 101.7 280.2 101.7 279.8 101.8 279.2 101.8 278.8 101.9 278.2 101.9 277.8 102.0 277.2 102.0 276.8 102.1 276.2 102.2 275.8 102.2 275.2 102.3 274.8 102.4 274.2 102.5 273.8 102.6 273.2 102.6 272.8 102.7 272.2 102.8 271.8 102.9 271.2 103.0 270.8 103.1 270.2 103.2 269.8 103.3 269.2 103.4 268.8 103.5 268.2 103.5 267.8 103.5 267.2 103.5 266.8 103.4 266.2 103.1 265.8 102.8 265.2 102.5 265.0 102.2 264.7 102.0 264.4 101.8 264.1 101.5 263.8 101.2 263.6 101.0 263.3 100.8 263.0 100.5 262.7 100.2 262.3 100.0 262.0 99.8 261.5 99.5 261.0 99.3 260.5 99.2 260.0 99.1 259.5 99.0 259.0 99.0 258.5 99.0 258.0 99.0 257.6 99.0 257.2 99.2 256.8 99.3 256.2 99.5 255.9 99.7 255.5 100.0 255.0 100.2 254.7 100.5 254.3 100.8 254.0 101.0 253.8 101.2 253.5 101.5 253.2 102.0 252.8 102.4 252.5 102.7 252.2 103.0 252.0 103.5 251.8 104.0 251.5 104.5 251.3 105.0 251.1 105.5 251.0 106.0 250.9 106.5 250.9 107.0 250.8 107.5 250.8 108.0 250.7 108.5 250.7 109.0 250.6 109.5 250.6 110.0 250.6 110.5 250.6 111.0 250.6 111.5 250.5 112.0 250.5 112.4 250.5 113.0 250.5 113.5 250.4 114.0 250.4 114.5 250.4 115.0 250.5 115.5 250.5 116.0 250.5 116.5 250.5 117.0 250.6 117.5 250.6 118.0 250.6 118.5 250.5 119.0 250.5 119.5 250.5 120.0 250.5 120.5 250.5 121.0 250.5 121.5 250.5 122.0 250.4 122.5 250.4 123.0 250.4 123.5 250.4 124.0 250.4 124.5 250.4 125.0 250.4 125.5 250.4 126.0 250.5 126.5 250.5 127.0 250.6 127.5 250.6 128.0 250.7 128.5 250.7 129.0 250.7 129.5 250.7 130.0 250.7 130.5 250.7 131.0 250.7 131.5 250.6 132.0 250.6 132.5 250.6 133.0 250.6 133.5 250.5 134.0 250.5 134.5 250.5 135.0 250.5 135.5 250.5 136.0 250.5 136.5 250.5 137.0 250.6 137.5 250.6 138.0 250.6 138.5 250.6 139.0 250.6 139.5 250.5 140.0 250.5 140.5 250.5 141.0 250.6 141.5 250.6 142.0 250.6 142.5 250.7 143.0 250.8 143.5 250.8 144.0 250.9 144.5 250.9 145.0 250.9 145.5 250.9 146.0 250.9 146.5 250.9 147.0 250.9 147.5 251.0 147.9 251.0 148.2 251.0 148.8 251.1 149.2 251.2 149.8 251.4 150.2 251.5 150.8 251.6 151.2 251.7 151.6 251.8 152.0 251.9 152.4 252.0 152.8 252.2 153.2 252.4 153.7 252.8 154.0 253.0 154.3 253.2 154.6 253.5 154.9 253.8 155.1 254.0 155.5 254.4 155.8 254.7 156.0 255.0 156.2 255.4 156.5 255.7 156.8 256.1 157.0 256.5 157.2 257.0 157.5 257.5 157.7 258.0 157.8 258.5 158.0 259.0 158.1 259.5 158.2 259.9 158.4 260.5 158.5 260.9 158.6 261.2 158.7 261.8 158.8 262.2 158.9 262.8 159.0 263.1 159.1 263.5 159.1 264.0 159.2 264.5 159.2 265.0 159.2 265.5 159.2 266.0 159.2 266.5 159.2 267.0 159.1 267.5 159.1 268.0 159.0 268.4 158.9 268.8 158.8 269.2 158.7 269.8 158.5 270.2 158.3 270.8 158.1 271.2 157.8 271.8 157.5 272.2 157.2 272.6 157.1 273.0 156.9 273.5 156.8 274.0 156.8 274.5 156.9 275.0 157.0 275.4 157.1 275.8 157.3 276.2 157.5 276.7 157.6 277.0 157.8 277.4 157.9 277.8 158.0 278.2 158.1 278.8 158.2 279.2 158.2 279.6 158.3 280.0 158.4 280.5 158.3 281.0 158.3 281.5 158.1 282.0 158.0 282.3 157.8 282.8 157.6 283.2 157.3 283.8 157.1 284.2 156.8 284.8 156.5 285.2 156.2 285.7 156.0 286.1 155.8 286.4 155.5 286.7 155.3 287.0 155.0 287.2 154.7 287.5 154.4 287.8 154.0 288.0 153.6 288.2 153.2 288.4 152.8 288.6 152.4 288.8 152.0 288.9 151.5 288.9 151.0 289.0 150.5 289.1 150.0 289.1 149.5 289.1 149.0 289.1 148.5 289.1 148.0 289.1 147.5 289.0 147.0 288.9 146.6 288.8 146.0 288.6 145.5 288.4 145.0 288.2 144.6 288.0 144.2 287.8 143.8 287.6 143.3 287.2 142.9 287.0 142.6 286.8 142.3 286.5 142.0 286.2 141.8 286.0 141.5 285.8 141.2 285.5 141.0 285.2 140.5 284.8 140.2 284.4 140.0 284.1 139.8 283.8 139.5 283.4 139.3 283.0 139.0 282.5 138.8 282.0 138.5 281.5 138.2 281.1 138.1 280.8 137.8 280.2 137.5 279.9 137.3 279.5 137.0 279.1 136.8 278.8 136.5 278.3 136.3 278.0 136.0 277.6 135.8 277.2 135.5 276.9 135.2 276.6 135.0 276.2 134.8 275.9 134.5 275.6 134.2 275.3 134.0 275.0 133.8 274.8 133.5 274.5 133.2 274.2 132.8 274.0 132.5 273.8 132.2 273.5 131.8 273.2 131.5 273.0 131.2 272.8 130.9 272.5 130.7 272.2 130.4 272.0 130.1 271.8 129.8 271.5 129.6 271.2 129.3 271.0 129.0 270.6 128.8 270.4 128.5 270.1 128.2 269.8 128.0 269.5 127.8 269.1 127.5 268.8 127.2 268.5 127.0 268.2 126.8 267.9 126.3 267.5 125.9 267.2 125.5 267.1 125.0 266.9 124.5 266.8 124.0 266.8 123.5 267.0 123.2 267.2 122.9 267.8 122.9 268.2 122.9 268.8 122.9 269.2 123.0 269.8 123.1 270.2 123.1 270.8 123.2 271.2 123.3 271.8 123.3 272.2 123.4 272.8 123.5 273.2 123.6 273.8 123.7 274.2 123.7 274.8 123.8 275.2 123.9 275.8 123.9 276.2 124.0 276.6 124.1 277.0 124.1 277.5 124.2 278.0 124.3 278.5 124.4 279.0 124.4 279.5 124.4 280.0 124.4 280.5 124.4 281.0 124.4 281.5 124.3 282.0 124.3 282.5 124.3 283.0 124.3 283.5 124.2 284.0 124.2 284.5 124.1 285.0 123.9 285.5 123.8 286.0 123.6 286.5 123.4 287.0 123.2 287.3 123.0 287.8 122.8 288.2 122.5 288.5 122.2 288.9 122.0 289.2 121.8 289.5 121.5 289.8 121.2 290.2 121.0 290.5 120.8 291.0 120.6 291.2 120.2 291.7 120.0 292.0 119.8 292.2 119.5 292.5 119.2 292.8 118.9 293.0 118.6 293.2 118.2 293.5 117.8 293.8 117.5 294.0 117.0 294.2 116.5 294.5 116.0 294.6 115.5 294.8 115.0 295.0Z"/>
<path d="M113.5 295.8 113.0 295.8 112.5 295.8 112.0 295.7 111.5 295.5 111.0 295.3 110.5 295.1 110.0 294.9 109.5 294.7 109.1 294.5 108.5 294.3 108.0 294.1 107.5 293.9 107.0 293.6 106.5 293.3 106.1 293.0 105.8 292.8 105.5 292.3 105.3 292.0 105.1 291.5 104.8 291.0 104.6 290.5 104.3 290.0 104.1 289.5 103.8 289.0 103.6 288.5 103.3 288.0 103.1 287.5 102.9 287.0 102.8 286.6 102.6 286.2 102.4 285.8 102.2 285.4 102.1 285.0 102.0 284.6 101.9 284.2 101.8 283.8 101.6 283.2 101.5 282.8 101.4 282.2 101.3 281.8 101.2 281.2 101.2 280.8 101.2 280.2 101.2 279.8 101.3 279.2 101.4 278.8 101.4 278.2 101.5 277.8 101.5 277.2 101.6 276.8 101.6 276.2 101.7 275.8 101.8 275.3 101.8 274.8 101.9 274.2 102.0 273.9 102.1 273.5 102.1 273.0 102.2 272.5 102.2 272.0 102.3 271.5 102.4 271.0 102.6 270.5 102.7 270.0 102.8 269.6 102.8 269.2 102.9 268.8 103.0 268.2 103.0 267.8 103.1 267.2 103.0 266.8 102.9 266.2 102.8 265.9 102.5 265.5 102.3 265.2 102.0 264.9 101.8 264.7 101.5 264.4 101.2 264.1 101.0 263.8 100.8 263.5 100.5 263.2 100.2 262.9 100.0 262.6 99.8 262.2 99.5 261.8 99.2 261.3 99.0 260.8 98.9 260.2 98.8 259.8 98.7 259.2 98.6 258.8 98.6 258.2 98.6 257.8 98.7 257.2 98.8 256.8 99.0 256.2 99.2 255.8 99.5 255.2 99.8 254.8 100.0 254.4 100.2 254.1 100.5 253.8 100.8 253.5 101.0 253.2 101.2 252.9 101.7 252.5 102.1 252.2 102.4 252.0 102.8 251.8 103.2 251.5 103.7 251.2 104.2 251.0 104.8 250.8 105.2 250.7 105.8 250.6 106.2 250.5 106.7 250.5 107.2 250.4 107.8 250.4 108.2 250.4 108.8 250.3 109.2 250.3 109.8 250.3 110.2 250.3 110.8 250.3 111.2 250.2 111.8 250.2 112.2 250.2 112.8 250.2 113.2 250.1 113.8 250.1 114.2 250.1 114.8 250.1 115.2 250.2 115.8 250.2 116.2 250.2 116.8 250.3 117.2 250.3 117.8 250.3 118.2 250.3 118.8 250.2 119.2 250.2 119.8 250.2 120.2 250.2 120.8 250.2 121.2 250.2 121.8 250.2 122.2 250.1 122.8 250.1 123.2 250.1 123.8 250.1 124.2 250.1 124.8 250.1 125.2 250.1 125.8 250.1 126.2 250.2 126.8 250.2 127.2 250.3 127.8 250.3 128.2 250.4 128.8 250.4 129.2 250.4 129.8 250.4 130.2 250.4 130.8 250.3 131.2 250.3 131.8 250.3 132.2 250.3 132.8 250.2 133.2 250.2 133.8 250.2 134.2 250.2 134.8 250.2 135.2 250.2 135.8 250.2 136.2 250.2 136.8 250.2 137.2 250.2 137.8 250.3 138.2 250.3 138.8 250.2 139.2 250.2 139.8 250.2 140.2 250.2 140.8 250.2 141.2 250.3 141.8 250.3 142.2 250.4 142.8 250.4 143.2 250.5 143.8 250.6 144.2 250.6 144.8 250.6 145.2 250.7 145.8 250.6 146.2 250.6 146.8 250.6 147.2 250.6 147.8 250.7 148.2 250.7 148.8 250.8 149.2 250.9 149.7 251.0 150.2 251.1 150.8 251.2 151.2 251.3 151.8 251.4 152.2 251.6 152.7 251.8 153.2 252.0 153.6 252.2 154.0 252.5 154.2 252.7 154.6 253.0 154.9 253.2 155.1 253.5 155.4 253.8 155.8 254.2 156.0 254.5 156.2 254.8 156.5 255.1 156.8 255.5 157.0 255.9 157.2 256.2 157.5 256.8 157.7 257.2 157.9 257.8 158.1 258.2 158.2 258.7 158.4 259.2 158.5 259.6 158.6 260.0 158.7 260.5 158.9 261.0 159.0 261.5 159.1 262.0 159.2 262.5 159.3 263.0 159.4 263.5 159.4 264.0 159.5 264.5 159.5 265.0 159.6 265.5 159.6 266.0 159.6 266.5 159.5 267.0 159.5 267.5 159.4 268.0 159.3 268.5 159.2 268.9 159.2 269.2 159.0 269.8 158.9 270.2 158.7 270.8 158.5 271.1 158.3 271.5 158.0 272.0 157.8 272.5 157.5 273.0 157.3 273.5 157.2 274.0 157.2 274.5 157.3 275.0 157.5 275.5 157.6 276.0 157.8 276.5 158.0 277.0 158.2 277.5 158.2 277.9 158.3 278.2 158.5 278.8 158.6 279.2 158.7 279.8 158.7 280.2 158.8 280.8 158.8 281.2 158.7 281.8 158.5 282.2 158.3 282.8 158.1 283.2 157.8 283.8 157.6 284.2 157.3 284.8 157.1 285.2 156.8 285.8 156.5 286.2 156.3 286.5 156.0 286.8 155.8 287.1 155.5 287.4 155.1 287.8 154.8 288.0 154.5 288.2 154.1 288.5 153.8 288.7 153.2 288.9 152.8 289.1 152.3 289.2 151.8 289.3 151.2 289.4 150.8 289.5 150.2 289.5 149.8 289.5 149.2 289.6 148.8 289.6 148.2 289.6 147.8 289.5 147.2 289.4 146.8 289.3 146.2 289.1 145.9 289.0 145.5 288.9 145.0 288.7 144.7 288.5 144.2 288.3 143.8 288.1 143.2 287.8 142.8 287.5 142.5 287.2 142.2 287.0 141.9 286.8 141.7 286.5 141.4 286.2 141.1 286.0 140.9 285.8 140.5 285.3 140.2 285.1 140.0 284.8 139.8 284.4 139.5 284.1 139.3 283.8 139.0 283.2 138.8 282.8 138.5 282.3 138.2 281.8 138.0 281.4 137.8 281.0 137.5 280.6 137.3 280.2 137.0 279.8 136.8 279.5 136.5 279.0 136.2 278.7 136.0 278.3 135.8 277.9 135.5 277.5 135.3 277.2 135.0 276.9 134.8 276.5 134.5 276.2 134.2 275.9 134.0 275.6 133.8 275.3 133.5 275.0 133.2 274.8 132.9 274.5 132.5 274.2 132.2 274.0 131.9 273.8 131.5 273.5 131.2 273.3 130.9 273.0 130.6 272.8 130.3 272.5 130.1 272.2 129.8 272.0 129.5 271.8 129.3 271.5 129.0 271.3 128.8 271.0 128.5 270.7 128.2 270.4 128.0 270.2 127.8 269.9 127.5 269.5 127.3 269.2 127.0 268.9 126.8 268.6 126.5 268.3 126.2 268.0 125.8 267.8 125.5 267.6 125.0 267.4 124.5 267.4 124.0 267.5 123.7 267.8 123.5 268.2 123.5 268.8 123.5 269.1 123.5 269.5 123.6 270.0 123.7 270.5 123.7 271.0 123.8 271.5 123.9 272.0 123.9 272.5 124.0 273.0 124.0 273.5 124.1 274.0 124.2 274.5 124.2 275.0 124.3 275.5 124.4 276.0 124.4 276.5 124.5 276.9 124.6 277.5 124.7 278.0 124.7 278.5 124.8 279.0 124.8 279.5 124.9 280.0 124.9 280.5 124.9 281.0 124.9 281.5 124.8 282.0 124.8 282.5 124.8 283.0 124.8 283.5 124.7 284.0 124.6 284.5 124.5 285.0 124.4 285.5 124.3 286.0 124.1 286.5 124.0 286.9 123.8 287.2 123.6 287.8 123.3 288.2 123.0 288.7 122.8 289.0 122.5 289.3 122.2 289.6 122.0 289.9 121.8 290.2 121.5 290.7 121.3 291.0 121.0 291.5 120.8 291.9 120.5 292.2 120.2 292.5 120.0 292.8 119.5 293.2 119.2 293.5 118.8 293.8 118.5 294.0 118.1 294.2 117.8 294.4 117.2 294.7 116.8 295.0 116.2 295.2 115.8 295.3 115.2 295.5 114.8 295.6 114.2 295.7 113.8 295.7Z"/>
</g>
<rect x="149.3" y="279.5" width="21.8" height="54.5" fill="none" stroke="#6a6a6a" stroke-width="0.8"/>
<line x1="171.2" y1="279.5" x2="171.2" y2="334" stroke="#999" stroke-width="2.0"/>
<path d="M93.95 260.66h0.9M96.97 252.28h0.9M98.29 254.38h0.9M96.67 262.97h0.9M95.66 258.93h0.9M94.28 260.58h0.9M97.74 252.6h0.9M98.08 264.5h0.9M99.65 251.19h0.9M97.75 260.99h0.9M95.6 263.48h0.9M98.12 250.3h0.9M100.26 258.14h0.9M98.04 251.46h0.9M100.89 251.8h0.9M96.2 256.77h0.9M97.58 259.94h0.9M97.72 252.62h0.9M96.36 252.74h0.9M96 263.05h0.9M95.03 259.54h0.9M97.65 257.63h0.9M96.21 261.62h0.9M96.85 265.48h0.9M99.18 255.7h0.9M96.16 255.81h0.9M95.56 251.82h0.9M94.04 253.76h0.9M95.14 262.96h0.9M98.18 258h0.9M99.85 256.88h0.9M97.14 258.3h0.9M96.88 256.21h0.9M98.42 262.35h0.9M98.37 252.85h0.9M97.92 261.13h0.9M97.96 255.51h0.9M96.88 260.19h0.9M98.44 253.34h0.9M97.19 254.51h0.9M92.06 257.7h0.9M97.23 265.29h0.9M98.57 255.83h0.9M100.1 253.03h0.9M96.51 250.11h0.9M97.08 275.12h0.9M101.26 274.21h0.9M99.42 266.29h0.9M103.47 299.45h0.9M101.67 299.95h0.9M100.65 276.96h0.9M101.04 292.77h0.9M102.32 273.8h0.9M98.81 283.93h0.9M98.55 274.93h0.9M101.41 298.19h0.9M101.89 275.9h0.9M100.39 295.69h0.9M100.29 283.52h0.9M105.3 289.66h0.9M100.7 275.69h0.9M99.85 274.67h0.9M99.92 270.48h0.9M98.52 296.14h0.9M99.88 280.8h0.9M101.69 299.3h0.9M98.71 297.28h0.9M100.12 298.71h0.9M101.17 286.01h0.9M99.18 296.63h0.9M101.63 277.81h0.9M98.75 278.53h0.9M100.84 266.58h0.9M98.74 290.14h0.9M103.7 296.51h0.9M99.22 296.96h0.9M97.95 278.9h0.9M100.36 269.34h0.9M100.11 297.76h0.9M102.29 289.43h0.9M98.62 270.24h0.9M100.4 284.16h0.9M100.5 274.36h0.9M99.33 279.83h0.9M99.83 270.82h0.9M103.5 269.08h0.9M99.99 291.83h0.9M103.62 288.42h0.9M102.62 267.01h0.9M100.37 282.59h0.9M99.99 288.69h0.9M101.44 277.6h0.9M101.17 298.09h0.9M102.65 266.26h0.9M100.12 272.85h0.9M102.17 280.7h0.9M101.8 283.04h0.9M105.01 289.74h0.9M102.1 286.62h0.9M102.76 294.66h0.9M101.05 295.06h0.9M103.05 294.28h0.9M101.37 291.88h0.9M103.26 279.44h0.9M99.82 299.06h0.9M101.66 293.59h0.9M105.29 295.7h0.9M113.45 297.68h0.9M112.31 297.53h0.9M110.51 302.11h0.9M109.98 296.7h0.9M106.61 307.78h0.9M109.86 297.66h0.9M117.84 296.37h0.9M104.95 306.71h0.9M100.68 298.99h0.9M109.66 294.52h0.9M100.85 293.88h0.9M102.58 294.68h0.9M110.81 299.62h0.9M112.13 296.77h0.9M110.59 293.41h0.9M112.37 301.47h0.9M110.22 299.65h0.9M119.52 298.53h0.9M107.34 304.68h0.9M99.68 301.83h0.9M103.72 299.63h0.9M103.73 305.86h0.9M114.39 301.54h0.9M104.86 300.73h0.9M106.86 299.74h0.9M108.23 301.28h0.9M109.91 299.2h0.9M103.86 301.06h0.9M110.22 296.6h0.9M115.84 298.36h0.9M106.25 297.78h0.9M102.43 294.78h0.9M109.3 295.31h0.9M100.97 293.61h0.9M107.34 293.75h0.9M108.85 296.44h0.9M110.55 292.91h0.9M106.81 298.18h0.9M117.62 291.16h0.9M108.02 295.88h0.9M97.07 298.04h0.9M103.22 294.89h0.9M110.98 300.21h0.9M102.97 291.41h0.9M101.49 294.61h0.9M101.4 294.51h0.9M100.68 294.02h0.9M111.42 296.1h0.9M109.94 298.93h0.9M112.6 294.68h0.9M115.61 296.95h0.9M115.34 296.04h0.9M108.07 295.63h0.9M107.03 297.26h0.9M109.3 294.64h0.9M101.82 295.19h0.9M109.74 299.4h0.9M112.95 294.25h0.9M115.59 295.05h0.9M115.21 296.8h0.9M110.17 295.09h0.9M104.23 294.25h0.9M108.31 294.63h0.9M113.01 292.75h0.9M106.26 292.5h0.9M116.13 297.99h0.9M108.22 295.68h0.9M108.88 297.03h0.9M106.31 294.9h0.9M110.17 296.68h0.9M103.02 290.7h0.9M112.59 294.56h0.9M104.66 293.9h0.9M112.3 295.81h0.9M110.55 296.14h0.9M109.88 296.85h0.9M109.9 294.23h0.9M106.12 295.6h0.9M146.27 283.97h0.9M134.53 273.49h0.9M127.27 269.17h0.9M130.5 272.11h0.9M132.87 271.21h0.9M131.97 269.04h0.9M130.94 272.03h0.9M135.55 274.83h0.9M139.25 276.34h0.9M125.78 267.67h0.9M129.81 269.58h0.9M141.86 274.26h0.9M127.52 268.78h0.9M142.31 281.61h0.9M128.55 270.38h0.9M139.03 276.14h0.9M139.51 273.27h0.9M133.55 274.67h0.9M145.28 282.36h0.9M131.77 272.25h0.9M139.01 279.86h0.9M135.65 275.19h0.9M141.26 277.52h0.9M136.74 278.07h0.9M139.69 278.95h0.9M124.03 266.27h0.9M143.36 282.6h0.9M146.1 282.74h0.9M144.8 281.33h0.9M134.33 271.89h0.9M125.79 271.78h0.9M125.85 270.42h0.9M127.73 270.39h0.9M126.03 271.37h0.9M129.95 273.27h0.9M124.44 271.99h0.9M121.87 266.55h0.9M127.64 271.43h0.9M130.05 265.78h0.9M129.34 268.73h0.9M125.47 271.2h0.9M130.15 267.73h0.9M122.35 268.59h0.9M126.34 273.08h0.9M127.55 269.34h0.9M125.37 268.92h0.9M129.05 265.93h0.9M124.9 267.9h0.9M129.44 270.39h0.9M124.95 271.96h0.9M131.52 272.64h0.9M123.37 269.56h0.9M129.47 265.55h0.9M123.57 269.04h0.9M127.93 268.02h0.9M139.16 272.49h0.9M136.66 282.55h0.9M132.49 291.81h0.9M122.83 280.15h0.9M136.74 286.93h0.9M130.13 287.54h0.9M133.8 289.38h0.9M133.15 279.27h0.9M124.43 273.64h0.9M120.51 272.85h0.9M140.97 274.81h0.9M132.02 274.68h0.9M140.74 282.66h0.9M121.8 288.53h0.9M138.19 291.56h0.9M122.91 280.05h0.9M133.41 277.65h0.9M131.21 286.02h0.9M135.59 288.48h0.9M135.57 277.71h0.9M135.68 280.67h0.9M121.62 272.41h0.9M132.48 279.16h0.9M119.81 281.8h0.9M127.51 278.51h0.9M90.14 261.54h0.9M92.04 269.77h0.9M95.64 267.7h0.9M92.13 257.67h0.9M94.5 257.72h0.9M93.15 268.77h0.9M91.07 255.68h0.9M89.56 254.19h0.9M94.62 255.16h0.9M93.27 259.75h0.9M95.46 269.97h0.9M89.45 266.03h0.9M87.45 257.7h0.9M96.09 252.93h0.9M99.54 263.89h0.9M147.82 286.83h0.9M148.67 287.57h0.9M149.06 288.45h0.9M149.44 289.34h0.9M146.58 286.01h0.9M148.36 285.8h0.9M149.04 286.72h0.9M144.65 288.35h0.9M146.81 286.99h0.9M148.09 286.43h0.9M148.82 287.88h0.9M149.32 286.97h0.9M149.01 286.87h0.9M147.67 289.01h0.9M148.39 286.44h0.9M149.44 294.96h0.9M150.34 318.39h0.9M151.99 301.6h0.9M149.22 298.36h0.9M149.1 291.19h0.9M148.95 291.24h0.9M150.74 292.19h0.9M149.41 315.45h0.9M148.41 291.08h0.9M151.56 300.26h0.9M150.8 303.19h0.9M149.02 334.68h0.9M149.35 297.21h0.9M150.02 292.86h0.9M149.25 298.56h0.9M114.4 248.89h0.9M104.29 246.92h0.9M109.33 247.4h0.9M152.25 252.33h0.9M139.73 247.53h0.9M149.44 248.23h0.9M107.11 248.59h0.9M151.3 249.83h0.9M110.52 251.63h0.9M100.05 249.5h0.9M143.6 248.96h0.9M112.01 249.17h0.9M125.88 251.03h0.9M131.71 246.37h0.9M104.81 248.68h0.9M160.95 267.88h0.9M160.29 258.69h0.9M159.91 271.2h0.9M160.34 257.32h0.9M160.45 269.78h0.9M159.89 254.38h0.9M161.96 265.16h0.9M160.84 266.85h0.9M161.46 269.57h0.9M156.85 260.13h0.9" stroke="#000" stroke-width="0.9" stroke-opacity="1" fill="none"/>
<path d="M226.6 226.6H276.2M226.6 282.1H276.2" stroke="#aaa" stroke-width="1.1" fill="none"/>
<path d="M276.2 226.1V282.6" stroke="#555" stroke-width="0.9" fill="none"/>
<path d="M243.75 304.6h1M253.85 306.5h1M242.67 306.3h1M240.24 302.9h1M243.84 303.7h1M244.8 304.38h1M235.84 301.15h1M239.04 299.16h1M241.73 304.15h1M245.24 302.47h1M241.2 306.69h1M244.56 302h1M247.26 303.17h1M246.14 304.13h1M240.55 301.35h1M241.56 312.01h1M239.8 309.51h1M246.59 303.86h1M245.86 309.08h1M240.95 303.44h1M245.87 306.05h1M249.36 306.28h1M238.02 304.87h1M237.91 307.22h1M244.45 303.8h1M238.94 307.64h1M240.7 308.6h1M238.61 304.2h1M240.12 301.96h1M251.44 309.95h1M239.84 307.34h1M235.77 308.7h1M245.78 304.01h1M240.79 305.74h1M243.6 303.95h1M239.07 304.25h1M240.53 307.32h1M242.33 305.72h1M236.26 303.9h1M240.67 303.5h1M241.63 304.14h1M236.76 307.79h1M245.22 303.52h1M244.21 302.3h1M237.68 304.44h1M247.44 304.75h1M236.76 305.76h1M240.08 302.95h1M243.3 299.94h1M235.87 300.78h1M245.86 305.38h1M240 303.09h1M244.4 308.78h1M239.61 305.89h1M250.33 306.9h1M241.01 306.12h1M242.53 307.1h1M243.39 303.68h1M241.75 306.25h1M239.79 305.36h1M239 308.79h1M247.57 302.59h1M245.12 305.65h1M242.5 304.41h1M243.11 308.11h1M237.94 308.14h1M241.27 301.93h1M242.01 307.03h1M241.88 306.02h1M241.02 303.58h1M245.65 302.42h1M245.63 306.15h1M241.23 304.5h1M241.19 305.06h1M242.03 304.75h1M235.51 298.99h1M243.37 303.32h1M240.23 304.67h1M238.39 309.68h1M242.18 304.66h1M238.56 307.74h1M244.68 309.5h1M245.27 302.79h1M237.85 309.15h1M239.87 304.85h1M241.66 306.62h1M244.08 302.16h1M240 300.12h1M244.12 304.7h1M236.43 308.18h1M242.24 302.24h1M240.79 303.47h1M242.56 305.77h1M240.24 306.41h1M233.33 304.18h1M244.42 307.93h1M244.94 302.16h1M236.44 304.19h1M249.96 305.93h1M239.67 300.32h1M242.68 303.86h1M243.89 305.71h1M234.21 304.8h1M244.86 303.44h1M238.11 301.8h1M237.66 311.46h1M246.97 303.39h1M246.83 302.08h1M240.33 302.99h1M241.52 307.03h1M249.04 307.25h1M241.78 305.59h1M241.38 306.2h1M239.21 305.85h1M243.7 307.84h1M239.35 306.33h1M243.09 302.79h1M235.46 303.53h1M245.09 304.31h1M249.83 306.73h1M239.7 304.83h1M243.69 306.49h1M241.33 306.42h1M252.13 307.73h1M242.69 303.76h1M236.11 305.61h1M240.75 304.97h1M240.28 307.32h1M245.75 303.11h1M237.5 306.01h1M246.79 306.28h1M243.75 301.1h1M240.26 306.76h1M243.36 305.07h1M244.05 307.54h1M242.41 303.07h1M237.38 305.69h1M241.54 304.59h1M245.84 303.22h1M241.2 306.96h1M249.02 299.47h1M250.4 307.91h1M250.18 304.89h1M245.08 308.99h1M245.52 303.69h1M251.9 311.13h1M253.08 303.54h1M246.55 304.71h1M247.63 303.82h1M252.82 309.05h1M248.13 309.47h1M244.73 311.1h1M249.98 304.52h1M250.69 306.24h1M252.4 304.64h1M249.79 304.03h1M252.85 304.06h1M249.82 301.49h1M252.72 306.97h1M248.47 308.41h1M252.46 305.87h1M245.71 307.33h1M257.7 311.07h1M250.14 305.41h1M255.61 307.09h1M250.04 305.76h1M256.57 307.17h1M252.39 308.53h1M246.61 306.82h1M249.96 304.56h1M255.88 310.51h1M254.45 305.95h1M259.27 307.73h1M243.72 303.88h1M249.96 303.7h1M246.62 307.42h1M253.35 310.51h1M251.52 305.95h1M249.65 308.49h1M257.76 310.34h1M240.4 275h1M250.9 282.4h1M237.5 287.8h1M241.8 287h1M236.8 292h1M248.5 290.6h1M249.1 294.7h1M255.5 295.3h1M262.1 302.6h1M265.3 303h1" stroke="#000" stroke-width="1" stroke-opacity="1" fill="none"/>
<path d="M482 237.5h1M488 237.5h1M509 239.5h1M479 240.5h1M469 241.5h1M466 242.5h1M471 242.5h1M491 242.5h1M422 244.5h1M460 244.5h1M462 244.5h1M470 244.5h1M495 244.5h1M432 246.5h1M502 246.5h1M419 247.5h1M435 247.5h1M441 247.5h2M465 247.5h2M473 247.5h1M487 247.5h1M452 248.5h1M463 248.5h1M468 248.5h1M470 248.5h4M475 248.5h1M484 248.5h1M439 249.5h1M442 249.5h1M453 249.5h1M458 249.5h1M466 249.5h1M472 249.5h2M479 249.5h1M484 249.5h1M487 249.5h2M501 249.5h1M432 250.5h1M436 250.5h1M439 250.5h4M445 250.5h2M448 250.5h9M458 250.5h3M462 250.5h2M468 250.5h1M470 250.5h1M473 250.5h1M475 250.5h2M480 250.5h1M482 250.5h2M485 250.5h1M493 250.5h2M502 250.5h1M436 251.5h1M438 251.5h24M463 251.5h5M469 251.5h12M482 251.5h11M435 252.5h34M470 252.5h22M431 253.5h1M435 253.5h59M495 253.5h1M435 254.5h59M495 254.5h2M429 255.5h1M433 255.5h1M435 255.5h38M474 255.5h21M496 255.5h1M498 255.5h1M429 256.5h1M431 256.5h2M435 256.5h12M448 256.5h46M498 256.5h1M432 257.5h1M434 257.5h56M491 257.5h4M496 257.5h2M434 258.5h62M433 259.5h4M438 259.5h59M431 260.5h13M445 260.5h31M477 260.5h20M434 261.5h1M436 261.5h61M505 261.5h2M432 262.5h1M434 262.5h64M499 262.5h1M429 263.5h1M435 263.5h62M498 263.5h1M432 264.5h4M439 264.5h7M447 264.5h43M491 264.5h6M436 265.5h1M439 265.5h1M441 265.5h36M478 265.5h19M498 265.5h1M435 266.5h1M437 266.5h2M440 266.5h1M442 266.5h16M459 266.5h1M461 266.5h1M463 266.5h1M465 266.5h1M467 266.5h1M469 266.5h1M471 266.5h11M483 266.5h14M498 266.5h2M438 267.5h1M444 267.5h12M458 267.5h3M463 267.5h6M470 267.5h27M500 267.5h2M504 267.5h1M437 268.5h1M442 268.5h15M458 268.5h2M466 268.5h1M468 268.5h3M472 268.5h26M500 268.5h1M436 269.5h1M438 269.5h1M440 269.5h2M444 269.5h12M457 269.5h5M463 269.5h1M466 269.5h6M473 269.5h26M441 270.5h1M444 270.5h1M446 270.5h11M461 270.5h8M470 270.5h29M437 271.5h1M440 271.5h1M444 271.5h15M460 271.5h1M462 271.5h1M467 271.5h1M469 271.5h2M473 271.5h23M497 271.5h1M499 271.5h1M436 272.5h1M440 272.5h1M443 272.5h1M445 272.5h16M464 272.5h1M469 272.5h1M471 272.5h10M482 272.5h14M497 272.5h1M438 273.5h1M440 273.5h1M443 273.5h15M461 273.5h2M464 273.5h1M468 273.5h1M473 273.5h25M442 274.5h15M458 274.5h3M463 274.5h1M465 274.5h1M468 274.5h1M472 274.5h22M495 274.5h2M499 274.5h1M438 275.5h1M440 275.5h1M442 275.5h5M448 275.5h14M463 275.5h2M468 275.5h1M473 275.5h3M479 275.5h10M490 275.5h6M439 276.5h22M462 276.5h2M470 276.5h1M473 276.5h2M476 276.5h18M497 276.5h1M441 277.5h24M467 277.5h1M469 277.5h1M472 277.5h1M474 277.5h1M479 277.5h17M440 278.5h22M466 278.5h1M468 278.5h1M474 278.5h1M478 278.5h1M481 278.5h16M438 279.5h1M443 279.5h17M462 279.5h1M465 279.5h1M481 279.5h17M441 280.5h1M443 280.5h4M448 280.5h5M454 280.5h8M465 280.5h1M480 280.5h15M497 280.5h2M442 281.5h2M445 281.5h18M466 281.5h1M468 281.5h1M482 281.5h14M444 282.5h2M447 282.5h15M463 282.5h1M465 282.5h1M467 282.5h1M476 282.5h1M482 282.5h1M484 282.5h9M441 283.5h21M463 283.5h1M484 283.5h3M488 283.5h6M436 284.5h1M440 284.5h1M442 284.5h21M483 284.5h1M485 284.5h1M487 284.5h6M438 285.5h1M443 285.5h18M486 285.5h6M494 285.5h1M440 286.5h23M487 286.5h1M489 286.5h1M440 287.5h1M445 287.5h14M460 287.5h2M463 287.5h1M485 287.5h1M493 287.5h1M495 287.5h1M441 288.5h1M445 288.5h1M449 288.5h14M487 288.5h1M443 289.5h1M447 289.5h9M457 289.5h2M460 289.5h1M462 289.5h2M442 290.5h1M444 290.5h10M455 290.5h2M462 290.5h1M465 290.5h1M445 291.5h4M450 291.5h6M458 291.5h1M463 291.5h2M509 291.5h1M438 292.5h1M447 292.5h6M454 292.5h2M458 292.5h1M463 292.5h2M473 292.5h1M447 293.5h5M455 293.5h2M462 293.5h1M442 294.5h1M444 294.5h1M446 294.5h1M450 294.5h1M456 294.5h1M459 294.5h1M492 294.5h1M445 295.5h1M447 295.5h1M450 295.5h3M454 295.5h3M458 295.5h1M443 296.5h1M445 296.5h1M448 296.5h1M453 296.5h2M459 296.5h2M453 297.5h1M456 297.5h1M459 297.5h2M445 298.5h1M449 299.5h1M450 300.5h1M447 302.5h1M430 312.5h1M464 318.5h1M484 330.5h1" stroke="#c6c6c6" stroke-width="1" fill="none"/>
<rect x="488.5" y="279.8" width="22" height="54.2" fill="none" stroke="#555" stroke-width="0.8"/>
<path d="" stroke="#222" stroke-width="1" stroke-opacity="1" fill="none"/>
<line x1="54" y1="307.37" x2="55.9" y2="307.37" stroke="#000" stroke-width="0.95" />
<line x1="54" y1="308.82" x2="55.9" y2="308.82" stroke="#000" stroke-width="0.95" />
<line x1="54" y1="306.65" x2="55.9" y2="306.65" stroke="#000" stroke-width="0.95" />
<line x1="54" y1="309.53" x2="55.9" y2="309.53" stroke="#000" stroke-width="0.95" />
<line x1="54" y1="305.93" x2="55.9" y2="305.93" stroke="#000" stroke-width="0.95" />
<line x1="54" y1="310.23" x2="55.9" y2="310.23" stroke="#000" stroke-width="0.95" />
<line x1="54" y1="305.23" x2="55.9" y2="305.23" stroke="#000" stroke-width="0.95" />
<line x1="54" y1="310.92" x2="55.9" y2="310.92" stroke="#000" stroke-width="0.95" />
<line x1="54" y1="304.54" x2="55.9" y2="304.54" stroke="#000" stroke-width="0.95" />
<line x1="54" y1="311.6" x2="55.9" y2="311.6" stroke="#000" stroke-width="0.95" />
<line x1="54" y1="303.88" x2="55.9" y2="303.88" stroke="#000" stroke-width="0.95" />
<line x1="54" y1="312.25" x2="55.9" y2="312.25" stroke="#000" stroke-width="0.95" />
<line x1="54" y1="303.24" x2="55.9" y2="303.24" stroke="#000" stroke-width="0.95" />
<line x1="54" y1="312.88" x2="55.9" y2="312.88" stroke="#000" stroke-width="0.95" />
<line x1="54" y1="302.62" x2="55.9" y2="302.62" stroke="#000" stroke-width="0.95" />
<line x1="54" y1="313.49" x2="55.9" y2="313.49" stroke="#000" stroke-width="0.95" />
<line x1="54" y1="302.02" x2="55.9" y2="302.02" stroke="#000" stroke-width="0.95" />
<line x1="54" y1="314.08" x2="55.9" y2="314.08" stroke="#000" stroke-width="0.95" />
<line x1="54" y1="301.45" x2="55.9" y2="301.45" stroke="#000" stroke-width="0.95" />
<line x1="54" y1="314.64" x2="55.9" y2="314.64" stroke="#000" stroke-width="0.95" />
<line x1="54" y1="296.84" x2="55.9" y2="296.84" stroke="#000" stroke-width="0.95" />
<line x1="54" y1="319.17" x2="55.9" y2="319.17" stroke="#000" stroke-width="0.95" />
<line x1="54" y1="293.66" x2="55.9" y2="293.66" stroke="#000" stroke-width="0.95" />
<line x1="54" y1="322.31" x2="55.9" y2="322.31" stroke="#000" stroke-width="0.95" />
<line x1="54" y1="291.27" x2="55.9" y2="291.27" stroke="#000" stroke-width="0.95" />
<line x1="54" y1="324.65" x2="55.9" y2="324.65" stroke="#000" stroke-width="0.95" />
<line x1="54" y1="289.39" x2="55.9" y2="289.39" stroke="#000" stroke-width="0.95" />
<line x1="54" y1="326.51" x2="55.9" y2="326.51" stroke="#000" stroke-width="0.95" />
<line x1="54" y1="287.82" x2="55.9" y2="287.82" stroke="#000" stroke-width="0.95" />
<line x1="54" y1="328.05" x2="55.9" y2="328.05" stroke="#000" stroke-width="0.95" />
<line x1="54" y1="286.5" x2="55.9" y2="286.5" stroke="#000" stroke-width="0.95" />
<line x1="54" y1="329.36" x2="55.9" y2="329.36" stroke="#000" stroke-width="0.95" />
<line x1="54" y1="285.34" x2="55.9" y2="285.34" stroke="#000" stroke-width="0.95" />
<line x1="54" y1="330.49" x2="55.9" y2="330.49" stroke="#000" stroke-width="0.95" />
<line x1="54" y1="284.32" x2="55.9" y2="284.32" stroke="#000" stroke-width="0.95" />
<line x1="54" y1="331.5" x2="55.9" y2="331.5" stroke="#000" stroke-width="0.95" />
<line x1="53.1" y1="283.4" x2="55.9" y2="283.4" stroke="#000" stroke-width="0.95" />
<line x1="53.1" y1="332.4" x2="55.9" y2="332.4" stroke="#000" stroke-width="0.95" />
<line x1="54" y1="277.24" x2="55.9" y2="277.24" stroke="#000" stroke-width="0.95" />
<line x1="54" y1="338.36" x2="55.9" y2="338.36" stroke="#000" stroke-width="0.95" />
<line x1="54" y1="273.63" x2="55.9" y2="273.63" stroke="#000" stroke-width="0.95" />
<line x1="54" y1="271.07" x2="55.9" y2="271.07" stroke="#000" stroke-width="0.95" />
<line x1="54" y1="269.08" x2="55.9" y2="269.08" stroke="#000" stroke-width="0.95" />
<line x1="54" y1="267.45" x2="55.9" y2="267.45" stroke="#000" stroke-width="0.95" />
<line x1="54" y1="266.08" x2="55.9" y2="266.08" stroke="#000" stroke-width="0.95" />
<line x1="54" y1="264.89" x2="55.9" y2="264.89" stroke="#000" stroke-width="0.95" />
<line x1="54" y1="263.84" x2="55.9" y2="263.84" stroke="#000" stroke-width="0.95" />
<line x1="53.1" y1="262.9" x2="55.9" y2="262.9" stroke="#000" stroke-width="0.95" />
<line x1="54" y1="256.97" x2="55.9" y2="256.97" stroke="#000" stroke-width="0.95" />
<line x1="54" y1="253.5" x2="55.9" y2="253.5" stroke="#000" stroke-width="0.95" />
<line x1="54" y1="251.04" x2="55.9" y2="251.04" stroke="#000" stroke-width="0.95" />
<line x1="54" y1="249.13" x2="55.9" y2="249.13" stroke="#000" stroke-width="0.95" />
<line x1="54" y1="247.57" x2="55.9" y2="247.57" stroke="#000" stroke-width="0.95" />
<line x1="54" y1="246.25" x2="55.9" y2="246.25" stroke="#000" stroke-width="0.95" />
<line x1="54" y1="245.11" x2="55.9" y2="245.11" stroke="#000" stroke-width="0.95" />
<line x1="54" y1="244.1" x2="55.9" y2="244.1" stroke="#000" stroke-width="0.95" />
<line x1="53.1" y1="243.2" x2="55.9" y2="243.2" stroke="#000" stroke-width="0.95" />
<line x1="54" y1="237.33" x2="55.9" y2="237.33" stroke="#000" stroke-width="0.95" />
<line x1="54" y1="233.9" x2="55.9" y2="233.9" stroke="#000" stroke-width="0.95" />
<line x1="54" y1="231.46" x2="55.9" y2="231.46" stroke="#000" stroke-width="0.95" />
<line x1="54" y1="229.57" x2="55.9" y2="229.57" stroke="#000" stroke-width="0.95" />
<line x1="54" y1="228.03" x2="55.9" y2="228.03" stroke="#000" stroke-width="0.95" />
<line x1="54" y1="226.72" x2="55.9" y2="226.72" stroke="#000" stroke-width="0.95" />
<line x1="54" y1="225.59" x2="55.9" y2="225.59" stroke="#000" stroke-width="0.95" />
<line x1="54" y1="224.59" x2="55.9" y2="224.59" stroke="#000" stroke-width="0.95" />
<line x1="53.2" y1="223.7" x2="55.9" y2="223.7" stroke="#000" stroke-width="0.95" />
<line x1="53.2" y1="308.1" x2="55.9" y2="308.1" stroke="#000" stroke-width="0.95" />
<line x1="104.51" y1="340.3" x2="104.51" y2="342.2" stroke="#000" stroke-width="0.95" />
<line x1="103.89" y1="340.3" x2="103.89" y2="342.2" stroke="#000" stroke-width="0.95" />
<line x1="104.82" y1="340.3" x2="104.82" y2="342.2" stroke="#000" stroke-width="0.95" />
<line x1="103.59" y1="340.3" x2="103.59" y2="342.2" stroke="#000" stroke-width="0.95" />
<line x1="105.13" y1="340.3" x2="105.13" y2="342.2" stroke="#000" stroke-width="0.95" />
<line x1="103.28" y1="340.3" x2="103.28" y2="342.2" stroke="#000" stroke-width="0.95" />
<line x1="105.44" y1="340.3" x2="105.44" y2="342.2" stroke="#000" stroke-width="0.95" />
<line x1="102.98" y1="340.3" x2="102.98" y2="342.2" stroke="#000" stroke-width="0.95" />
<line x1="105.75" y1="340.3" x2="105.75" y2="342.2" stroke="#000" stroke-width="0.95" />
<line x1="102.67" y1="340.3" x2="102.67" y2="342.2" stroke="#000" stroke-width="0.95" />
<line x1="106.05" y1="340.3" x2="106.05" y2="342.2" stroke="#000" stroke-width="0.95" />
<line x1="102.37" y1="340.3" x2="102.37" y2="342.2" stroke="#000" stroke-width="0.95" />
<line x1="106.36" y1="340.3" x2="106.36" y2="342.2" stroke="#000" stroke-width="0.95" />
<line x1="102.07" y1="340.3" x2="102.07" y2="342.2" stroke="#000" stroke-width="0.95" />
<line x1="106.66" y1="340.3" x2="106.66" y2="342.2" stroke="#000" stroke-width="0.95" />
<line x1="101.77" y1="340.3" x2="101.77" y2="342.2" stroke="#000" stroke-width="0.95" />
<line x1="106.96" y1="340.3" x2="106.96" y2="342.2" stroke="#000" stroke-width="0.95" />
<line x1="101.48" y1="340.3" x2="101.48" y2="342.2" stroke="#000" stroke-width="0.95" />
<line x1="107.25" y1="340.3" x2="107.25" y2="342.2" stroke="#000" stroke-width="0.95" />
<line x1="101.19" y1="340.3" x2="101.19" y2="342.2" stroke="#000" stroke-width="0.95" />
<line x1="110" y1="340.3" x2="110" y2="342.2" stroke="#000" stroke-width="0.95" />
<line x1="98.47" y1="340.3" x2="98.47" y2="342.2" stroke="#000" stroke-width="0.95" />
<line x1="112.35" y1="340.3" x2="112.35" y2="342.2" stroke="#000" stroke-width="0.95" />
<line x1="96.16" y1="340.3" x2="96.16" y2="342.2" stroke="#000" stroke-width="0.95" />
<line x1="114.32" y1="340.3" x2="114.32" y2="342.2" stroke="#000" stroke-width="0.95" />
<line x1="94.21" y1="340.3" x2="94.21" y2="342.2" stroke="#000" stroke-width="0.95" />
<line x1="115.99" y1="340.3" x2="115.99" y2="342.2" stroke="#000" stroke-width="0.95" />
<line x1="92.56" y1="340.3" x2="92.56" y2="342.2" stroke="#000" stroke-width="0.95" />
<line x1="117.43" y1="340.3" x2="117.43" y2="342.2" stroke="#000" stroke-width="0.95" />
<line x1="91.15" y1="340.3" x2="91.15" y2="342.2" stroke="#000" stroke-width="0.95" />
<line x1="118.68" y1="340.3" x2="118.68" y2="342.2" stroke="#000" stroke-width="0.95" />
<line x1="89.91" y1="340.3" x2="89.91" y2="342.2" stroke="#000" stroke-width="0.95" />
<line x1="119.79" y1="340.3" x2="119.79" y2="342.2" stroke="#000" stroke-width="0.95" />
<line x1="88.81" y1="340.3" x2="88.81" y2="342.2" stroke="#000" stroke-width="0.95" />
<line x1="120.79" y1="340.3" x2="120.79" y2="342.2" stroke="#000" stroke-width="0.95" />
<line x1="87.83" y1="340.3" x2="87.83" y2="342.2" stroke="#000" stroke-width="0.95" />
<line x1="121.68" y1="340.3" x2="121.68" y2="342.2" stroke="#000" stroke-width="0.95" />
<line x1="86.95" y1="340.3" x2="86.95" y2="342.2" stroke="#000" stroke-width="0.95" />
<line x1="127.72" y1="340.3" x2="127.72" y2="342.2" stroke="#000" stroke-width="0.95" />
<line x1="80.99" y1="340.3" x2="80.99" y2="342.2" stroke="#000" stroke-width="0.95" />
<line x1="131.3" y1="340.3" x2="131.3" y2="342.2" stroke="#000" stroke-width="0.95" />
<line x1="77.45" y1="340.3" x2="77.45" y2="342.2" stroke="#000" stroke-width="0.95" />
<line x1="133.86" y1="340.3" x2="133.86" y2="342.2" stroke="#000" stroke-width="0.95" />
<line x1="74.94" y1="340.3" x2="74.94" y2="342.2" stroke="#000" stroke-width="0.95" />
<line x1="135.84" y1="340.3" x2="135.84" y2="342.2" stroke="#000" stroke-width="0.95" />
<line x1="72.98" y1="340.3" x2="72.98" y2="342.2" stroke="#000" stroke-width="0.95" />
<line x1="137.46" y1="340.3" x2="137.46" y2="342.2" stroke="#000" stroke-width="0.95" />
<line x1="71.38" y1="340.3" x2="71.38" y2="342.2" stroke="#000" stroke-width="0.95" />
<line x1="138.83" y1="340.3" x2="138.83" y2="342.2" stroke="#000" stroke-width="0.95" />
<line x1="70.03" y1="340.3" x2="70.03" y2="342.2" stroke="#000" stroke-width="0.95" />
<line x1="140.02" y1="340.3" x2="140.02" y2="342.2" stroke="#000" stroke-width="0.95" />
<line x1="68.86" y1="340.3" x2="68.86" y2="342.2" stroke="#000" stroke-width="0.95" />
<line x1="141.06" y1="340.3" x2="141.06" y2="342.2" stroke="#000" stroke-width="0.95" />
<line x1="67.82" y1="340.3" x2="67.82" y2="342.2" stroke="#000" stroke-width="0.95" />
<line x1="142" y1="340.3" x2="142" y2="343.1" stroke="#000" stroke-width="0.95" />
<line x1="66.9" y1="340.3" x2="66.9" y2="343.1" stroke="#000" stroke-width="0.95" />
<line x1="148.17" y1="340.3" x2="148.17" y2="342.2" stroke="#000" stroke-width="0.95" />
<line x1="60.81" y1="340.3" x2="60.81" y2="342.2" stroke="#000" stroke-width="0.95" />
<line x1="151.78" y1="340.3" x2="151.78" y2="342.2" stroke="#000" stroke-width="0.95" />
<line x1="57.25" y1="340.3" x2="57.25" y2="342.2" stroke="#000" stroke-width="0.95" />
<line x1="154.34" y1="340.3" x2="154.34" y2="342.2" stroke="#000" stroke-width="0.95" />
<line x1="156.33" y1="340.3" x2="156.33" y2="342.2" stroke="#000" stroke-width="0.95" />
<line x1="157.95" y1="340.3" x2="157.95" y2="342.2" stroke="#000" stroke-width="0.95" />
<line x1="159.32" y1="340.3" x2="159.32" y2="342.2" stroke="#000" stroke-width="0.95" />
<line x1="160.51" y1="340.3" x2="160.51" y2="342.2" stroke="#000" stroke-width="0.95" />
<line x1="161.56" y1="340.3" x2="161.56" y2="342.2" stroke="#000" stroke-width="0.95" />
<line x1="162.5" y1="340.3" x2="162.5" y2="343.1" stroke="#000" stroke-width="0.95" />
<line x1="168.67" y1="340.3" x2="168.67" y2="342.2" stroke="#000" stroke-width="0.95" />
<line x1="172.28" y1="340.3" x2="172.28" y2="342.2" stroke="#000" stroke-width="0.95" />
<line x1="104.2" y1="340.3" x2="104.2" y2="343" stroke="#000" stroke-width="0.95" />
<rect x="55.9" y="223.3" width="116.9" height="117" fill="none" stroke="#000" stroke-width="1.3" />
<text transform="translate(36.06 227.7) scale(1 1)" font-size="8.6">10<tspan font-size="6.6" dy="-3.4">6</tspan></text>
<text transform="translate(36.06 247.2) scale(1 1)" font-size="8.6">10<tspan font-size="6.6" dy="-3.4">5</tspan></text>
<text transform="translate(36.06 266.9) scale(1 1)" font-size="8.6">10<tspan font-size="6.6" dy="-3.4">4</tspan></text>
<text transform="translate(36.06 287.4) scale(1 1)" font-size="8.6">10<tspan font-size="6.6" dy="-3.4">3</tspan></text>
<text transform="translate(44.52 311.1) scale(1 1)" font-size="8.6">0</text>
<text transform="translate(33.2 336.4) scale(1 1)" font-size="8.6">-10<tspan font-size="6.6" dy="-3.4">3</tspan></text>
<text transform="translate(58.85 354.2) scale(1 1)" font-size="8.6">-10<tspan font-size="6.6" dy="-3.4">4</tspan></text>
<text transform="translate(101.81 354.2) scale(1 1)" font-size="8.6">0</text>
<text transform="translate(135.38 354.2) scale(1 1)" font-size="8.6">10<tspan font-size="6.6" dy="-3.4">4</tspan></text>
<text transform="translate(155.88 354.2) scale(1 1)" font-size="8.6">10<tspan font-size="6.6" dy="-3.4">5</tspan></text>
<text x="85.1" y="368.6" font-size="10" text-anchor="start" fill="#000" textLength="58.8" lengthAdjust="spacingAndGlyphs" stroke="#000" stroke-width="0.25">CD34 PerCP-Cv5.5</text>
<text transform="translate(28.6 304.2) rotate(-90)" font-size="10" textLength="44.6" lengthAdjust="spacingAndGlyphs" stroke="#000" stroke-width="0.25">CD38 APC-H7</text>
<line x1="223.9" y1="307.1" x2="225.8" y2="307.1" stroke="#000" stroke-width="0.95" />
<line x1="223.9" y1="308.96" x2="225.8" y2="308.96" stroke="#000" stroke-width="0.95" />
<line x1="223.9" y1="306.2" x2="225.8" y2="306.2" stroke="#000" stroke-width="0.95" />
<line x1="223.9" y1="309.91" x2="225.8" y2="309.91" stroke="#000" stroke-width="0.95" />
<line x1="223.9" y1="305.33" x2="225.8" y2="305.33" stroke="#000" stroke-width="0.95" />
<line x1="223.9" y1="310.84" x2="225.8" y2="310.84" stroke="#000" stroke-width="0.95" />
<line x1="223.9" y1="304.47" x2="225.8" y2="304.47" stroke="#000" stroke-width="0.95" />
<line x1="223.9" y1="311.75" x2="225.8" y2="311.75" stroke="#000" stroke-width="0.95" />
<line x1="223.9" y1="303.65" x2="225.8" y2="303.65" stroke="#000" stroke-width="0.95" />
<line x1="223.9" y1="312.62" x2="225.8" y2="312.62" stroke="#000" stroke-width="0.95" />
<line x1="223.9" y1="302.86" x2="225.8" y2="302.86" stroke="#000" stroke-width="0.95" />
<line x1="223.9" y1="313.46" x2="225.8" y2="313.46" stroke="#000" stroke-width="0.95" />
<line x1="223.9" y1="302.1" x2="225.8" y2="302.1" stroke="#000" stroke-width="0.95" />
<line x1="223.9" y1="314.27" x2="225.8" y2="314.27" stroke="#000" stroke-width="0.95" />
<line x1="223.9" y1="301.38" x2="225.8" y2="301.38" stroke="#000" stroke-width="0.95" />
<line x1="223.9" y1="315.04" x2="225.8" y2="315.04" stroke="#000" stroke-width="0.95" />
<line x1="223.9" y1="300.69" x2="225.8" y2="300.69" stroke="#000" stroke-width="0.95" />
<line x1="223.9" y1="315.77" x2="225.8" y2="315.77" stroke="#000" stroke-width="0.95" />
<line x1="223.9" y1="300.03" x2="225.8" y2="300.03" stroke="#000" stroke-width="0.95" />
<line x1="223.9" y1="316.47" x2="225.8" y2="316.47" stroke="#000" stroke-width="0.95" />
<line x1="223.9" y1="294.95" x2="225.8" y2="294.95" stroke="#000" stroke-width="0.95" />
<line x1="223.9" y1="321.87" x2="225.8" y2="321.87" stroke="#000" stroke-width="0.95" />
<line x1="223.9" y1="291.56" x2="225.8" y2="291.56" stroke="#000" stroke-width="0.95" />
<line x1="223.9" y1="325.47" x2="225.8" y2="325.47" stroke="#000" stroke-width="0.95" />
<line x1="223.9" y1="289.07" x2="225.8" y2="289.07" stroke="#000" stroke-width="0.95" />
<line x1="223.9" y1="328.12" x2="225.8" y2="328.12" stroke="#000" stroke-width="0.95" />
<line x1="223.9" y1="287.1" x2="225.8" y2="287.1" stroke="#000" stroke-width="0.95" />
<line x1="223.9" y1="330.21" x2="225.8" y2="330.21" stroke="#000" stroke-width="0.95" />
<line x1="223.9" y1="285.48" x2="225.8" y2="285.48" stroke="#000" stroke-width="0.95" />
<line x1="223.9" y1="331.94" x2="225.8" y2="331.94" stroke="#000" stroke-width="0.95" />
<line x1="223.9" y1="284.1" x2="225.8" y2="284.1" stroke="#000" stroke-width="0.95" />
<line x1="223.9" y1="333.4" x2="225.8" y2="333.4" stroke="#000" stroke-width="0.95" />
<line x1="223.9" y1="282.9" x2="225.8" y2="282.9" stroke="#000" stroke-width="0.95" />
<line x1="223.9" y1="334.67" x2="225.8" y2="334.67" stroke="#000" stroke-width="0.95" />
<line x1="223.9" y1="281.85" x2="225.8" y2="281.85" stroke="#000" stroke-width="0.95" />
<line x1="223.9" y1="335.79" x2="225.8" y2="335.79" stroke="#000" stroke-width="0.95" />
<line x1="223" y1="280.9" x2="225.8" y2="280.9" stroke="#000" stroke-width="0.95" />
<line x1="223" y1="336.8" x2="225.8" y2="336.8" stroke="#000" stroke-width="0.95" />
<line x1="223.9" y1="273.69" x2="225.8" y2="273.69" stroke="#000" stroke-width="0.95" />
<line x1="223.9" y1="269.46" x2="225.8" y2="269.46" stroke="#000" stroke-width="0.95" />
<line x1="223.9" y1="266.46" x2="225.8" y2="266.46" stroke="#000" stroke-width="0.95" />
<line x1="223.9" y1="264.13" x2="225.8" y2="264.13" stroke="#000" stroke-width="0.95" />
<line x1="223.9" y1="262.23" x2="225.8" y2="262.23" stroke="#000" stroke-width="0.95" />
<line x1="223.9" y1="260.62" x2="225.8" y2="260.62" stroke="#000" stroke-width="0.95" />
<line x1="223.9" y1="259.23" x2="225.8" y2="259.23" stroke="#000" stroke-width="0.95" />
<line x1="223.9" y1="258" x2="225.8" y2="258" stroke="#000" stroke-width="0.95" />
<line x1="223" y1="256.9" x2="225.8" y2="256.9" stroke="#000" stroke-width="0.95" />
<line x1="223.9" y1="250.55" x2="225.8" y2="250.55" stroke="#000" stroke-width="0.95" />
<line x1="223.9" y1="246.83" x2="225.8" y2="246.83" stroke="#000" stroke-width="0.95" />
<line x1="223.9" y1="244.2" x2="225.8" y2="244.2" stroke="#000" stroke-width="0.95" />
<line x1="223.9" y1="242.15" x2="225.8" y2="242.15" stroke="#000" stroke-width="0.95" />
<line x1="223.9" y1="240.48" x2="225.8" y2="240.48" stroke="#000" stroke-width="0.95" />
<line x1="223.9" y1="239.07" x2="225.8" y2="239.07" stroke="#000" stroke-width="0.95" />
<line x1="223.9" y1="237.84" x2="225.8" y2="237.84" stroke="#000" stroke-width="0.95" />
<line x1="223.9" y1="236.77" x2="225.8" y2="236.77" stroke="#000" stroke-width="0.95" />
<line x1="223.1" y1="235.8" x2="225.8" y2="235.8" stroke="#000" stroke-width="0.95" />
<line x1="223.1" y1="308" x2="225.8" y2="308" stroke="#000" stroke-width="0.95" />
<line x1="225.5" y1="340.3" x2="225.5" y2="343.3" stroke="#000" stroke-width="0.95" />
<line x1="231.04" y1="340.3" x2="231.04" y2="341.9" stroke="#000" stroke-width="0.95" />
<line x1="236.57" y1="340.3" x2="236.57" y2="341.9" stroke="#000" stroke-width="0.95" />
<line x1="242.11" y1="340.3" x2="242.11" y2="341.9" stroke="#000" stroke-width="0.95" />
<line x1="247.65" y1="340.3" x2="247.65" y2="343.3" stroke="#000" stroke-width="0.95" />
<line x1="253.19" y1="340.3" x2="253.19" y2="341.9" stroke="#000" stroke-width="0.95" />
<line x1="258.73" y1="340.3" x2="258.73" y2="341.9" stroke="#000" stroke-width="0.95" />
<line x1="264.26" y1="340.3" x2="264.26" y2="341.9" stroke="#000" stroke-width="0.95" />
<line x1="269.8" y1="340.3" x2="269.8" y2="343.3" stroke="#000" stroke-width="0.95" />
<line x1="275.34" y1="340.3" x2="275.34" y2="341.9" stroke="#000" stroke-width="0.95" />
<line x1="280.88" y1="340.3" x2="280.88" y2="341.9" stroke="#000" stroke-width="0.95" />
<line x1="286.41" y1="340.3" x2="286.41" y2="341.9" stroke="#000" stroke-width="0.95" />
<line x1="291.95" y1="340.3" x2="291.95" y2="343.3" stroke="#000" stroke-width="0.95" />
<line x1="297.49" y1="340.3" x2="297.49" y2="341.9" stroke="#000" stroke-width="0.95" />
<line x1="303.02" y1="340.3" x2="303.02" y2="341.9" stroke="#000" stroke-width="0.95" />
<line x1="308.56" y1="340.3" x2="308.56" y2="341.9" stroke="#000" stroke-width="0.95" />
<line x1="314.1" y1="340.3" x2="314.1" y2="343.3" stroke="#000" stroke-width="0.95" />
<line x1="319.64" y1="340.3" x2="319.64" y2="341.9" stroke="#000" stroke-width="0.95" />
<line x1="325.18" y1="340.3" x2="325.18" y2="341.9" stroke="#000" stroke-width="0.95" />
<line x1="330.71" y1="340.3" x2="330.71" y2="341.9" stroke="#000" stroke-width="0.95" />
<line x1="336.25" y1="340.3" x2="336.25" y2="343.3" stroke="#000" stroke-width="0.95" />
<rect x="225.8" y="223.3" width="116.8" height="117" fill="none" stroke="#000" stroke-width="1.3" />
<text transform="translate(205.96 239.8) scale(1 1)" font-size="8.6">10<tspan font-size="6.6" dy="-3.4">6</tspan></text>
<text transform="translate(205.96 260.9) scale(1 1)" font-size="8.6">10<tspan font-size="6.6" dy="-3.4">5</tspan></text>
<text transform="translate(205.96 284.9) scale(1 1)" font-size="8.6">10<tspan font-size="6.6" dy="-3.4">4</tspan></text>
<text transform="translate(214.42 311) scale(1 1)" font-size="8.6">0</text>
<text transform="translate(203.1 340.8) scale(1 1)" font-size="8.6">-10<tspan font-size="6.6" dy="-3.4">4</tspan></text>
<text transform="translate(230.2 350) rotate(-45)" font-size="9.2" text-anchor="end">0</text>
<text transform="translate(252.35 350) rotate(-45)" font-size="9.2" text-anchor="end">200K</text>
<text transform="translate(274.5 350) rotate(-45)" font-size="9.2" text-anchor="end">400K</text>
<text transform="translate(296.65 350) rotate(-45)" font-size="9.2" text-anchor="end">600K</text>
<text transform="translate(318.8 350) rotate(-45)" font-size="9.2" text-anchor="end">800K</text>
<text transform="translate(340.95 350) rotate(-45)" font-size="9.2" text-anchor="end">1.0M</text>
<text x="273.8" y="378.8" font-size="10.3" text-anchor="start" fill="#000" textLength="20.8" lengthAdjust="spacingAndGlyphs" stroke="#000" stroke-width="0.25">SSC-A</text>
<text transform="translate(198.4 296.1) rotate(-90)" font-size="10" textLength="28.9" lengthAdjust="spacingAndGlyphs" stroke="#000" stroke-width="0.25">CD7 APC</text>
<line x1="393.4" y1="307.37" x2="395.3" y2="307.37" stroke="#000" stroke-width="0.95" />
<line x1="393.4" y1="308.82" x2="395.3" y2="308.82" stroke="#000" stroke-width="0.95" />
<line x1="393.4" y1="306.65" x2="395.3" y2="306.65" stroke="#000" stroke-width="0.95" />
<line x1="393.4" y1="309.53" x2="395.3" y2="309.53" stroke="#000" stroke-width="0.95" />
<line x1="393.4" y1="305.93" x2="395.3" y2="305.93" stroke="#000" stroke-width="0.95" />
<line x1="393.4" y1="310.23" x2="395.3" y2="310.23" stroke="#000" stroke-width="0.95" />
<line x1="393.4" y1="305.23" x2="395.3" y2="305.23" stroke="#000" stroke-width="0.95" />
<line x1="393.4" y1="310.92" x2="395.3" y2="310.92" stroke="#000" stroke-width="0.95" />
<line x1="393.4" y1="304.54" x2="395.3" y2="304.54" stroke="#000" stroke-width="0.95" />
<line x1="393.4" y1="311.6" x2="395.3" y2="311.6" stroke="#000" stroke-width="0.95" />
<line x1="393.4" y1="303.88" x2="395.3" y2="303.88" stroke="#000" stroke-width="0.95" />
<line x1="393.4" y1="312.25" x2="395.3" y2="312.25" stroke="#000" stroke-width="0.95" />
<line x1="393.4" y1="303.24" x2="395.3" y2="303.24" stroke="#000" stroke-width="0.95" />
<line x1="393.4" y1="312.88" x2="395.3" y2="312.88" stroke="#000" stroke-width="0.95" />
<line x1="393.4" y1="302.62" x2="395.3" y2="302.62" stroke="#000" stroke-width="0.95" />
<line x1="393.4" y1="313.49" x2="395.3" y2="313.49" stroke="#000" stroke-width="0.95" />
<line x1="393.4" y1="302.02" x2="395.3" y2="302.02" stroke="#000" stroke-width="0.95" />
<line x1="393.4" y1="314.08" x2="395.3" y2="314.08" stroke="#000" stroke-width="0.95" />
<line x1="393.4" y1="301.45" x2="395.3" y2="301.45" stroke="#000" stroke-width="0.95" />
<line x1="393.4" y1="314.64" x2="395.3" y2="314.64" stroke="#000" stroke-width="0.95" />
<line x1="393.4" y1="296.84" x2="395.3" y2="296.84" stroke="#000" stroke-width="0.95" />
<line x1="393.4" y1="319.17" x2="395.3" y2="319.17" stroke="#000" stroke-width="0.95" />
<line x1="393.4" y1="293.66" x2="395.3" y2="293.66" stroke="#000" stroke-width="0.95" />
<line x1="393.4" y1="322.31" x2="395.3" y2="322.31" stroke="#000" stroke-width="0.95" />
<line x1="393.4" y1="291.27" x2="395.3" y2="291.27" stroke="#000" stroke-width="0.95" />
<line x1="393.4" y1="324.65" x2="395.3" y2="324.65" stroke="#000" stroke-width="0.95" />
<line x1="393.4" y1="289.39" x2="395.3" y2="289.39" stroke="#000" stroke-width="0.95" />
<line x1="393.4" y1="326.51" x2="395.3" y2="326.51" stroke="#000" stroke-width="0.95" />
<line x1="393.4" y1="287.82" x2="395.3" y2="287.82" stroke="#000" stroke-width="0.95" />
<line x1="393.4" y1="328.05" x2="395.3" y2="328.05" stroke="#000" stroke-width="0.95" />
<line x1="393.4" y1="286.5" x2="395.3" y2="286.5" stroke="#000" stroke-width="0.95" />
<line x1="393.4" y1="329.36" x2="395.3" y2="329.36" stroke="#000" stroke-width="0.95" />
<line x1="393.4" y1="285.34" x2="395.3" y2="285.34" stroke="#000" stroke-width="0.95" />
<line x1="393.4" y1="330.49" x2="395.3" y2="330.49" stroke="#000" stroke-width="0.95" />
<line x1="393.4" y1="284.32" x2="395.3" y2="284.32" stroke="#000" stroke-width="0.95" />
<line x1="393.4" y1="331.5" x2="395.3" y2="331.5" stroke="#000" stroke-width="0.95" />
<line x1="392.5" y1="283.4" x2="395.3" y2="283.4" stroke="#000" stroke-width="0.95" />
<line x1="392.5" y1="332.4" x2="395.3" y2="332.4" stroke="#000" stroke-width="0.95" />
<line x1="393.4" y1="277.24" x2="395.3" y2="277.24" stroke="#000" stroke-width="0.95" />
<line x1="393.4" y1="338.36" x2="395.3" y2="338.36" stroke="#000" stroke-width="0.95" />
<line x1="393.4" y1="273.63" x2="395.3" y2="273.63" stroke="#000" stroke-width="0.95" />
<line x1="393.4" y1="271.07" x2="395.3" y2="271.07" stroke="#000" stroke-width="0.95" />
<line x1="393.4" y1="269.08" x2="395.3" y2="269.08" stroke="#000" stroke-width="0.95" />
<line x1="393.4" y1="267.45" x2="395.3" y2="267.45" stroke="#000" stroke-width="0.95" />
<line x1="393.4" y1="266.08" x2="395.3" y2="266.08" stroke="#000" stroke-width="0.95" />
<line x1="393.4" y1="264.89" x2="395.3" y2="264.89" stroke="#000" stroke-width="0.95" />
<line x1="393.4" y1="263.84" x2="395.3" y2="263.84" stroke="#000" stroke-width="0.95" />
<line x1="392.5" y1="262.9" x2="395.3" y2="262.9" stroke="#000" stroke-width="0.95" />
<line x1="393.4" y1="256.97" x2="395.3" y2="256.97" stroke="#000" stroke-width="0.95" />
<line x1="393.4" y1="253.5" x2="395.3" y2="253.5" stroke="#000" stroke-width="0.95" />
<line x1="393.4" y1="251.04" x2="395.3" y2="251.04" stroke="#000" stroke-width="0.95" />
<line x1="393.4" y1="249.13" x2="395.3" y2="249.13" stroke="#000" stroke-width="0.95" />
<line x1="393.4" y1="247.57" x2="395.3" y2="247.57" stroke="#000" stroke-width="0.95" />
<line x1="393.4" y1="246.25" x2="395.3" y2="246.25" stroke="#000" stroke-width="0.95" />
<line x1="393.4" y1="245.11" x2="395.3" y2="245.11" stroke="#000" stroke-width="0.95" />
<line x1="393.4" y1="244.1" x2="395.3" y2="244.1" stroke="#000" stroke-width="0.95" />
<line x1="392.5" y1="243.2" x2="395.3" y2="243.2" stroke="#000" stroke-width="0.95" />
<line x1="393.4" y1="237.33" x2="395.3" y2="237.33" stroke="#000" stroke-width="0.95" />
<line x1="393.4" y1="233.9" x2="395.3" y2="233.9" stroke="#000" stroke-width="0.95" />
<line x1="393.4" y1="231.46" x2="395.3" y2="231.46" stroke="#000" stroke-width="0.95" />
<line x1="393.4" y1="229.57" x2="395.3" y2="229.57" stroke="#000" stroke-width="0.95" />
<line x1="393.4" y1="228.03" x2="395.3" y2="228.03" stroke="#000" stroke-width="0.95" />
<line x1="393.4" y1="226.72" x2="395.3" y2="226.72" stroke="#000" stroke-width="0.95" />
<line x1="393.4" y1="225.59" x2="395.3" y2="225.59" stroke="#000" stroke-width="0.95" />
<line x1="393.4" y1="224.59" x2="395.3" y2="224.59" stroke="#000" stroke-width="0.95" />
<line x1="392.6" y1="223.7" x2="395.3" y2="223.7" stroke="#000" stroke-width="0.95" />
<line x1="392.6" y1="308.1" x2="395.3" y2="308.1" stroke="#000" stroke-width="0.95" />
<line x1="443.91" y1="340.3" x2="443.91" y2="342.2" stroke="#000" stroke-width="0.95" />
<line x1="443.29" y1="340.3" x2="443.29" y2="342.2" stroke="#000" stroke-width="0.95" />
<line x1="444.22" y1="340.3" x2="444.22" y2="342.2" stroke="#000" stroke-width="0.95" />
<line x1="442.99" y1="340.3" x2="442.99" y2="342.2" stroke="#000" stroke-width="0.95" />
<line x1="444.53" y1="340.3" x2="444.53" y2="342.2" stroke="#000" stroke-width="0.95" />
<line x1="442.68" y1="340.3" x2="442.68" y2="342.2" stroke="#000" stroke-width="0.95" />
<line x1="444.84" y1="340.3" x2="444.84" y2="342.2" stroke="#000" stroke-width="0.95" />
<line x1="442.38" y1="340.3" x2="442.38" y2="342.2" stroke="#000" stroke-width="0.95" />
<line x1="445.15" y1="340.3" x2="445.15" y2="342.2" stroke="#000" stroke-width="0.95" />
<line x1="442.07" y1="340.3" x2="442.07" y2="342.2" stroke="#000" stroke-width="0.95" />
<line x1="445.45" y1="340.3" x2="445.45" y2="342.2" stroke="#000" stroke-width="0.95" />
<line x1="441.77" y1="340.3" x2="441.77" y2="342.2" stroke="#000" stroke-width="0.95" />
<line x1="445.76" y1="340.3" x2="445.76" y2="342.2" stroke="#000" stroke-width="0.95" />
<line x1="441.47" y1="340.3" x2="441.47" y2="342.2" stroke="#000" stroke-width="0.95" />
<line x1="446.06" y1="340.3" x2="446.06" y2="342.2" stroke="#000" stroke-width="0.95" />
<line x1="441.17" y1="340.3" x2="441.17" y2="342.2" stroke="#000" stroke-width="0.95" />
<line x1="446.36" y1="340.3" x2="446.36" y2="342.2" stroke="#000" stroke-width="0.95" />
<line x1="440.88" y1="340.3" x2="440.88" y2="342.2" stroke="#000" stroke-width="0.95" />
<line x1="446.65" y1="340.3" x2="446.65" y2="342.2" stroke="#000" stroke-width="0.95" />
<line x1="440.59" y1="340.3" x2="440.59" y2="342.2" stroke="#000" stroke-width="0.95" />
<line x1="449.4" y1="340.3" x2="449.4" y2="342.2" stroke="#000" stroke-width="0.95" />
<line x1="437.87" y1="340.3" x2="437.87" y2="342.2" stroke="#000" stroke-width="0.95" />
<line x1="451.75" y1="340.3" x2="451.75" y2="342.2" stroke="#000" stroke-width="0.95" />
<line x1="435.56" y1="340.3" x2="435.56" y2="342.2" stroke="#000" stroke-width="0.95" />
<line x1="453.72" y1="340.3" x2="453.72" y2="342.2" stroke="#000" stroke-width="0.95" />
<line x1="433.61" y1="340.3" x2="433.61" y2="342.2" stroke="#000" stroke-width="0.95" />
<line x1="455.39" y1="340.3" x2="455.39" y2="342.2" stroke="#000" stroke-width="0.95" />
<line x1="431.96" y1="340.3" x2="431.96" y2="342.2" stroke="#000" stroke-width="0.95" />
<line x1="456.83" y1="340.3" x2="456.83" y2="342.2" stroke="#000" stroke-width="0.95" />
<line x1="430.55" y1="340.3" x2="430.55" y2="342.2" stroke="#000" stroke-width="0.95" />
<line x1="458.08" y1="340.3" x2="458.08" y2="342.2" stroke="#000" stroke-width="0.95" />
<line x1="429.31" y1="340.3" x2="429.31" y2="342.2" stroke="#000" stroke-width="0.95" />
<line x1="459.19" y1="340.3" x2="459.19" y2="342.2" stroke="#000" stroke-width="0.95" />
<line x1="428.21" y1="340.3" x2="428.21" y2="342.2" stroke="#000" stroke-width="0.95" />
<line x1="460.19" y1="340.3" x2="460.19" y2="342.2" stroke="#000" stroke-width="0.95" />
<line x1="427.23" y1="340.3" x2="427.23" y2="342.2" stroke="#000" stroke-width="0.95" />
<line x1="461.08" y1="340.3" x2="461.08" y2="342.2" stroke="#000" stroke-width="0.95" />
<line x1="426.35" y1="340.3" x2="426.35" y2="342.2" stroke="#000" stroke-width="0.95" />
<line x1="467.12" y1="340.3" x2="467.12" y2="342.2" stroke="#000" stroke-width="0.95" />
<line x1="420.39" y1="340.3" x2="420.39" y2="342.2" stroke="#000" stroke-width="0.95" />
<line x1="470.7" y1="340.3" x2="470.7" y2="342.2" stroke="#000" stroke-width="0.95" />
<line x1="416.85" y1="340.3" x2="416.85" y2="342.2" stroke="#000" stroke-width="0.95" />
<line x1="473.26" y1="340.3" x2="473.26" y2="342.2" stroke="#000" stroke-width="0.95" />
<line x1="414.34" y1="340.3" x2="414.34" y2="342.2" stroke="#000" stroke-width="0.95" />
<line x1="475.24" y1="340.3" x2="475.24" y2="342.2" stroke="#000" stroke-width="0.95" />
<line x1="412.38" y1="340.3" x2="412.38" y2="342.2" stroke="#000" stroke-width="0.95" />
<line x1="476.86" y1="340.3" x2="476.86" y2="342.2" stroke="#000" stroke-width="0.95" />
<line x1="410.78" y1="340.3" x2="410.78" y2="342.2" stroke="#000" stroke-width="0.95" />
<line x1="478.23" y1="340.3" x2="478.23" y2="342.2" stroke="#000" stroke-width="0.95" />
<line x1="409.43" y1="340.3" x2="409.43" y2="342.2" stroke="#000" stroke-width="0.95" />
<line x1="479.42" y1="340.3" x2="479.42" y2="342.2" stroke="#000" stroke-width="0.95" />
<line x1="408.26" y1="340.3" x2="408.26" y2="342.2" stroke="#000" stroke-width="0.95" />
<line x1="480.46" y1="340.3" x2="480.46" y2="342.2" stroke="#000" stroke-width="0.95" />
<line x1="407.22" y1="340.3" x2="407.22" y2="342.2" stroke="#000" stroke-width="0.95" />
<line x1="481.4" y1="340.3" x2="481.4" y2="343.1" stroke="#000" stroke-width="0.95" />
<line x1="406.3" y1="340.3" x2="406.3" y2="343.1" stroke="#000" stroke-width="0.95" />
<line x1="487.57" y1="340.3" x2="487.57" y2="342.2" stroke="#000" stroke-width="0.95" />
<line x1="400.21" y1="340.3" x2="400.21" y2="342.2" stroke="#000" stroke-width="0.95" />
<line x1="491.18" y1="340.3" x2="491.18" y2="342.2" stroke="#000" stroke-width="0.95" />
<line x1="396.65" y1="340.3" x2="396.65" y2="342.2" stroke="#000" stroke-width="0.95" />
<line x1="493.74" y1="340.3" x2="493.74" y2="342.2" stroke="#000" stroke-width="0.95" />
<line x1="495.73" y1="340.3" x2="495.73" y2="342.2" stroke="#000" stroke-width="0.95" />
<line x1="497.35" y1="340.3" x2="497.35" y2="342.2" stroke="#000" stroke-width="0.95" />
<line x1="498.72" y1="340.3" x2="498.72" y2="342.2" stroke="#000" stroke-width="0.95" />
<line x1="499.91" y1="340.3" x2="499.91" y2="342.2" stroke="#000" stroke-width="0.95" />
<line x1="500.96" y1="340.3" x2="500.96" y2="342.2" stroke="#000" stroke-width="0.95" />
<line x1="501.9" y1="340.3" x2="501.9" y2="343.1" stroke="#000" stroke-width="0.95" />
<line x1="508.07" y1="340.3" x2="508.07" y2="342.2" stroke="#000" stroke-width="0.95" />
<line x1="511.68" y1="340.3" x2="511.68" y2="342.2" stroke="#000" stroke-width="0.95" />
<line x1="443.6" y1="340.3" x2="443.6" y2="343" stroke="#000" stroke-width="0.95" />
<rect x="395.3" y="223.3" width="116.9" height="117" fill="none" stroke="#000" stroke-width="1.3" />
<text transform="translate(375.46 227.7) scale(1 1)" font-size="8.6">10<tspan font-size="6.6" dy="-3.4">6</tspan></text>
<text transform="translate(375.46 247.2) scale(1 1)" font-size="8.6">10<tspan font-size="6.6" dy="-3.4">5</tspan></text>
<text transform="translate(375.46 266.9) scale(1 1)" font-size="8.6">10<tspan font-size="6.6" dy="-3.4">4</tspan></text>
<text transform="translate(375.46 287.4) scale(1 1)" font-size="8.6">10<tspan font-size="6.6" dy="-3.4">3</tspan></text>
<text transform="translate(383.92 311.1) scale(1 1)" font-size="8.6">0</text>
<text transform="translate(372.6 336.4) scale(1 1)" font-size="8.6">-10<tspan font-size="6.6" dy="-3.4">3</tspan></text>
<text transform="translate(398.25 354.2) scale(1 1)" font-size="8.6">-10<tspan font-size="6.6" dy="-3.4">4</tspan></text>
<text transform="translate(441.21 354.2) scale(1 1)" font-size="8.6">0</text>
<text transform="translate(474.78 354.2) scale(1 1)" font-size="8.6">10<tspan font-size="6.6" dy="-3.4">4</tspan></text>
<text transform="translate(495.28 354.2) scale(1 1)" font-size="8.6">10<tspan font-size="6.6" dy="-3.4">5</tspan></text>
<text x="424.5" y="368.6" font-size="10" text-anchor="start" fill="#000" textLength="58.8" lengthAdjust="spacingAndGlyphs" stroke="#000" stroke-width="0.25">CD34 PerCP-Cv5.5</text>
<text transform="translate(368 304.2) rotate(-90)" font-size="10" textLength="44.6" lengthAdjust="spacingAndGlyphs" stroke="#000" stroke-width="0.25">CD38 APC-H7</text>
<text x="228.8" y="218.8" font-size="8.6" text-anchor="start" fill="#000" textLength="55.4" lengthAdjust="spacingAndGlyphs" >CD34+CD38-</text>
<text x="396.8" y="217.8" font-size="8.6" text-anchor="start" fill="#000" textLength="76.9" lengthAdjust="spacingAndGlyphs" >Backgating of CD7+</text>
<text x="94.8" y="334.5" font-size="8.3" text-anchor="start" fill="#000" textLength="51.7" lengthAdjust="spacingAndGlyphs" >CD34+CD38-</text>
<text x="288.5" y="55.7" font-size="8.3" text-anchor="start" fill="#000" textLength="43.5" lengthAdjust="spacingAndGlyphs" ># CD7+: 10</text>
<text x="291.5" y="251.9" font-size="8.3" text-anchor="start" fill="#000" textLength="37.5" lengthAdjust="spacingAndGlyphs" ># CD7+: 1</text>
<line x1="56.05" y1="409.1" x2="56.05" y2="569.2" stroke="#333" stroke-width="1.4" />
<line x1="55.4" y1="568.9" x2="288.7" y2="568.9" stroke="#333" stroke-width="1.3" />
<line x1="52.6" y1="534.25" x2="56" y2="534.25" stroke="#333" stroke-width="1" />
<text transform="translate(43.82 537.25) scale(1 1)" font-size="8.6">5</text>
<line x1="52.6" y1="504" x2="56" y2="504" stroke="#333" stroke-width="1" />
<text transform="translate(39.03 507) scale(1 1)" font-size="8.6">10</text>
<line x1="52.6" y1="473.75" x2="56" y2="473.75" stroke="#333" stroke-width="1" />
<text transform="translate(39.03 476.75) scale(1 1)" font-size="8.6">15</text>
<line x1="52.6" y1="443.5" x2="56" y2="443.5" stroke="#333" stroke-width="1" />
<text transform="translate(39.03 446.5) scale(1 1)" font-size="8.6">20</text>
<line x1="52.6" y1="413.25" x2="56" y2="413.25" stroke="#333" stroke-width="1" />
<text transform="translate(39.03 416.25) scale(1 1)" font-size="8.6">25</text>
<line x1="56.7" y1="534.45" x2="288.7" y2="534.45" stroke="#222" stroke-width="1.1" stroke-dasharray="3.6 2.4"/>
<line x1="116.25" y1="568.9" x2="116.25" y2="572" stroke="#333" stroke-width="1" />
<text x="98.4" y="582.7" font-size="9.2" text-anchor="start" fill="#000" textLength="27.6" lengthAdjust="spacingAndGlyphs" >Control</text>
<line x1="228.3" y1="568.9" x2="228.3" y2="572" stroke="#333" stroke-width="1" />
<text x="217.5" y="582.7" font-size="9.2" text-anchor="start" fill="#000" textLength="19.4" lengthAdjust="spacingAndGlyphs" >Case</text>
<text x="256.6" y="422.3" font-size="8.2" text-anchor="start" fill="#000" textLength="30.6" lengthAdjust="spacingAndGlyphs" ><tspan font-style="italic">p</tspan>=0.004</text>
<text transform="translate(34.2 532.6) rotate(-90)" font-size="10" textLength="88.3" lengthAdjust="spacingAndGlyphs" stroke="#000" stroke-width="0.25">CD7+ of CD34+CD38- cells</text>
<path d="M113.85 451.15L118.65 451.15L116.25 447.55Z" fill="#a3152d"/>
<path d="M113.85 523.75L118.65 523.75L116.25 520.15Z" fill="#a3152d"/>
<path d="M113.85 529.8L118.65 529.8L116.25 526.2Z" fill="#a3152d"/>
<path d="M225.9 420.9L230.7 420.9L228.3 417.3Z" fill="#a3152d"/>
<path d="M225.9 426.95L230.7 426.95L228.3 423.35Z" fill="#a3152d"/>
<path d="M225.9 481.4L230.7 481.4L228.3 477.8Z" fill="#a3152d"/>
<path d="M225.9 487.45L230.7 487.45L228.3 483.85Z" fill="#a3152d"/>
<path d="M225.9 505.6L230.7 505.6L228.3 502Z" fill="#a3152d"/>
<path d="M225.9 523.75L230.7 523.75L228.3 520.15Z" fill="#a3152d"/>
<path d="M225.9 529.8L230.7 529.8L228.3 526.2Z" fill="#a3152d"/>
<path d="M225.9 535.85L230.7 535.85L228.3 532.25Z" fill="#a3152d"/>
<path d="M211.9 499.55L216.7 499.55L214.3 495.95Z" fill="#a3152d"/>
<path d="M240 499.55L244.8 499.55L242.4 495.95Z" fill="#a3152d"/>
<path d="M211.9 517.7L216.7 517.7L214.3 514.1Z" fill="#a3152d"/>
<path d="M240 517.7L244.8 517.7L242.4 514.1Z" fill="#a3152d"/></svg></body></html>
